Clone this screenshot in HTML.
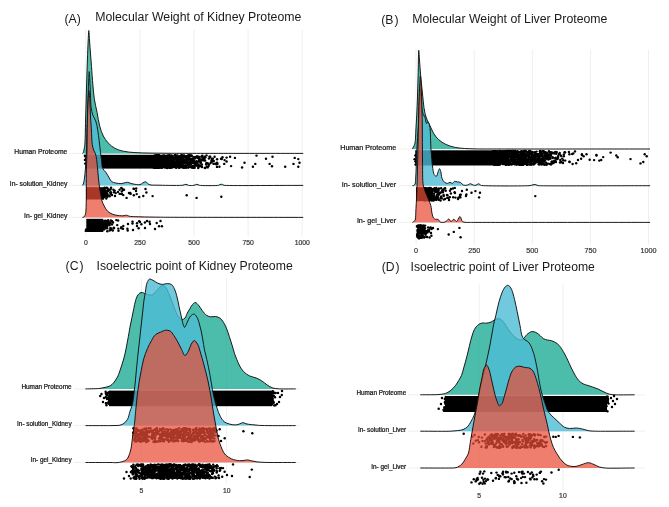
<!DOCTYPE html>
<html><head><meta charset="utf-8"><title>Raincloud plots</title>
<style>
html,body{margin:0;padding:0;background:#fff;}
body{width:669px;height:507px;overflow:hidden;}
svg{display:block;font-family:"Liberation Sans",sans-serif;filter:blur(0.3px);}
</style></head><body>
<svg width="669" height="507" viewBox="0 0 669 507">
<rect width="669" height="507" fill="#fff"/>
<line x1="85.8" y1="29.7" x2="85.8" y2="236.5" stroke="#ebebeb" stroke-width="0.8"/>
<line x1="140.0" y1="29.7" x2="140.0" y2="236.5" stroke="#ebebeb" stroke-width="0.8"/>
<line x1="194.0" y1="29.7" x2="194.0" y2="236.5" stroke="#ebebeb" stroke-width="0.8"/>
<line x1="248.1" y1="29.7" x2="248.1" y2="236.5" stroke="#ebebeb" stroke-width="0.8"/>
<line x1="302.2" y1="29.7" x2="302.2" y2="236.5" stroke="#ebebeb" stroke-width="0.8"/>
<line x1="69.4" y1="153.40" x2="303.5" y2="153.40" stroke="#ebebeb" stroke-width="0.8"/>
<line x1="69.4" y1="185.40" x2="303.5" y2="185.40" stroke="#ebebeb" stroke-width="0.8"/>
<line x1="69.4" y1="217.40" x2="303.5" y2="217.40" stroke="#ebebeb" stroke-width="0.8"/>
<path d="M82.40,153.40 C82.70,153.13 83.03,152.89 83.30,152.60 C83.70,152.17 84.32,148.01 84.70,145.70 C85.28,142.24 85.33,128.57 85.60,120.00 C85.86,111.67 86.05,103.33 86.30,95.00 C86.64,83.33 87.03,70.00 87.40,60.00 C87.65,53.33 87.94,44.75 88.20,40.00 C88.38,36.83 88.58,30.50 88.80,30.50 C89.02,30.50 89.27,36.83 89.50,40.00 C89.85,44.75 90.22,50.00 90.60,55.00 C90.89,58.80 91.21,62.60 91.50,66.40 C91.94,72.10 92.34,78.81 92.90,85.00 C93.32,89.60 93.61,94.23 94.30,98.80 C95.00,103.44 96.18,108.00 97.10,112.60 C98.02,117.20 98.49,121.91 99.80,126.40 C100.75,129.66 101.71,133.02 103.30,136.00 C104.61,138.45 106.21,140.87 108.10,142.90 C110.08,145.03 112.46,147.01 115.00,148.40 C117.53,149.78 120.48,150.52 123.30,151.20 C127.10,152.12 131.09,152.28 135.00,152.60 C139.98,153.01 145.00,152.98 150.00,153.10 C156.66,153.26 163.33,153.24 170.00,153.30 C180.00,153.39 258.80,153.37 303.20,153.40 L303.20,153.40 L82.40,153.40 Z" fill="rgb(31,172,149)" fill-opacity="0.8" stroke="none"/>
<path d="M82.40,153.40 C82.70,153.13 83.03,152.89 83.30,152.60 C83.70,152.17 84.32,148.01 84.70,145.70 C85.28,142.24 85.33,128.57 85.60,120.00 C85.86,111.67 86.05,103.33 86.30,95.00 C86.64,83.33 87.03,70.00 87.40,60.00 C87.65,53.33 87.94,44.75 88.20,40.00 C88.38,36.83 88.58,30.50 88.80,30.50 C89.02,30.50 89.27,36.83 89.50,40.00 C89.85,44.75 90.22,50.00 90.60,55.00 C90.89,58.80 91.21,62.60 91.50,66.40 C91.94,72.10 92.34,78.81 92.90,85.00 C93.32,89.60 93.61,94.23 94.30,98.80 C95.00,103.44 96.18,108.00 97.10,112.60 C98.02,117.20 98.49,121.91 99.80,126.40 C100.75,129.66 101.71,133.02 103.30,136.00 C104.61,138.45 106.21,140.87 108.10,142.90 C110.08,145.03 112.46,147.01 115.00,148.40 C117.53,149.78 120.48,150.52 123.30,151.20 C127.10,152.12 131.09,152.28 135.00,152.60 C139.98,153.01 145.00,152.98 150.00,153.10 C156.66,153.26 163.33,153.24 170.00,153.30 C180.00,153.39 258.80,153.37 303.20,153.40" fill="none" stroke="#111" stroke-width="0.95" stroke-linejoin="round"/>
<rect x="85.6" y="154.8" width="69" height="13.8" fill="#000"/>
<g fill="#000"><circle cx="85.2" cy="163.6" r="1.22"/><circle cx="84.9" cy="159.9" r="1.22"/><circle cx="84.9" cy="155.8" r="1.22"/><circle cx="85.3" cy="156.4" r="1.22"/><circle cx="86.1" cy="163.3" r="1.22"/><circle cx="86.0" cy="159.0" r="1.22"/></g>
<g fill="#000"><circle cx="154.7" cy="159.2" r="1.22"/><circle cx="162.8" cy="162.7" r="1.22"/><circle cx="160.7" cy="162.3" r="1.22"/><circle cx="153.8" cy="157.9" r="1.22"/><circle cx="161.2" cy="159.3" r="1.22"/><circle cx="160.0" cy="159.1" r="1.22"/><circle cx="162.5" cy="158.4" r="1.22"/><circle cx="159.9" cy="166.4" r="1.22"/><circle cx="161.8" cy="167.8" r="1.22"/><circle cx="154.4" cy="164.9" r="1.22"/><circle cx="154.8" cy="155.8" r="1.22"/><circle cx="161.0" cy="162.6" r="1.22"/><circle cx="163.5" cy="164.1" r="1.22"/><circle cx="160.1" cy="161.1" r="1.22"/><circle cx="158.7" cy="156.0" r="1.22"/><circle cx="161.4" cy="167.9" r="1.22"/><circle cx="162.9" cy="160.2" r="1.22"/><circle cx="161.0" cy="161.2" r="1.22"/><circle cx="155.0" cy="156.0" r="1.22"/><circle cx="162.2" cy="158.4" r="1.22"/><circle cx="157.7" cy="156.3" r="1.22"/><circle cx="158.4" cy="166.5" r="1.22"/><circle cx="156.3" cy="159.8" r="1.22"/><circle cx="154.8" cy="158.2" r="1.22"/><circle cx="155.8" cy="162.8" r="1.22"/><circle cx="156.2" cy="160.6" r="1.22"/><circle cx="157.4" cy="167.4" r="1.22"/><circle cx="161.3" cy="163.1" r="1.22"/><circle cx="161.1" cy="166.7" r="1.22"/><circle cx="162.6" cy="160.4" r="1.22"/><circle cx="154.2" cy="156.1" r="1.22"/><circle cx="153.8" cy="157.3" r="1.22"/><circle cx="157.1" cy="155.3" r="1.22"/><circle cx="154.8" cy="159.9" r="1.22"/><circle cx="153.3" cy="163.1" r="1.22"/><circle cx="154.8" cy="159.7" r="1.22"/><circle cx="157.4" cy="166.1" r="1.22"/><circle cx="164.9" cy="161.4" r="1.22"/><circle cx="154.0" cy="159.6" r="1.22"/><circle cx="156.2" cy="157.3" r="1.22"/><circle cx="153.3" cy="162.0" r="1.22"/><circle cx="154.8" cy="155.6" r="1.22"/><circle cx="163.4" cy="158.6" r="1.22"/><circle cx="157.4" cy="165.1" r="1.22"/><circle cx="159.4" cy="159.5" r="1.22"/><circle cx="155.7" cy="167.8" r="1.22"/><circle cx="163.2" cy="165.7" r="1.22"/><circle cx="161.9" cy="161.9" r="1.22"/><circle cx="157.3" cy="155.6" r="1.22"/><circle cx="156.4" cy="164.1" r="1.22"/><circle cx="164.5" cy="167.2" r="1.22"/><circle cx="157.4" cy="158.2" r="1.22"/><circle cx="155.4" cy="163.2" r="1.22"/><circle cx="158.8" cy="165.5" r="1.22"/><circle cx="154.0" cy="166.9" r="1.22"/><circle cx="162.4" cy="161.4" r="1.22"/><circle cx="155.1" cy="159.5" r="1.22"/><circle cx="157.8" cy="167.3" r="1.22"/><circle cx="161.7" cy="156.9" r="1.22"/><circle cx="154.8" cy="165.6" r="1.22"/><circle cx="154.8" cy="167.8" r="1.22"/><circle cx="160.9" cy="162.3" r="1.22"/><circle cx="154.6" cy="167.7" r="1.22"/><circle cx="160.8" cy="167.2" r="1.22"/><circle cx="158.2" cy="165.8" r="1.22"/><circle cx="155.5" cy="159.0" r="1.22"/><circle cx="155.9" cy="158.6" r="1.22"/><circle cx="158.0" cy="166.9" r="1.22"/><circle cx="157.2" cy="162.7" r="1.22"/><circle cx="163.9" cy="167.0" r="1.22"/><circle cx="159.0" cy="161.9" r="1.22"/><circle cx="153.2" cy="157.6" r="1.22"/><circle cx="153.0" cy="157.5" r="1.22"/><circle cx="158.7" cy="162.4" r="1.22"/><circle cx="156.9" cy="162.4" r="1.22"/><circle cx="162.4" cy="162.4" r="1.22"/><circle cx="156.0" cy="165.1" r="1.22"/><circle cx="159.1" cy="165.0" r="1.22"/><circle cx="163.9" cy="163.1" r="1.22"/><circle cx="159.1" cy="164.1" r="1.22"/><circle cx="158.4" cy="161.4" r="1.22"/><circle cx="164.3" cy="166.5" r="1.22"/><circle cx="164.3" cy="162.4" r="1.22"/><circle cx="154.6" cy="160.9" r="1.22"/><circle cx="153.9" cy="156.2" r="1.22"/><circle cx="161.0" cy="166.7" r="1.22"/><circle cx="154.9" cy="163.7" r="1.22"/><circle cx="154.7" cy="167.6" r="1.22"/><circle cx="157.8" cy="167.9" r="1.22"/><circle cx="163.0" cy="160.8" r="1.22"/><circle cx="159.2" cy="157.8" r="1.22"/><circle cx="156.8" cy="155.5" r="1.22"/><circle cx="159.6" cy="155.5" r="1.22"/><circle cx="157.0" cy="161.8" r="1.22"/><circle cx="153.8" cy="165.3" r="1.22"/><circle cx="164.7" cy="158.7" r="1.22"/><circle cx="153.5" cy="158.7" r="1.22"/><circle cx="154.6" cy="166.9" r="1.22"/><circle cx="162.8" cy="157.2" r="1.22"/><circle cx="164.0" cy="164.2" r="1.22"/><circle cx="154.1" cy="164.0" r="1.22"/><circle cx="158.1" cy="167.2" r="1.22"/><circle cx="160.6" cy="156.3" r="1.22"/><circle cx="163.3" cy="166.3" r="1.22"/><circle cx="158.4" cy="162.3" r="1.22"/><circle cx="164.1" cy="156.9" r="1.22"/><circle cx="159.3" cy="156.7" r="1.22"/><circle cx="154.9" cy="157.8" r="1.22"/><circle cx="156.7" cy="165.0" r="1.22"/><circle cx="156.5" cy="157.5" r="1.22"/><circle cx="157.2" cy="158.5" r="1.22"/><circle cx="153.2" cy="162.3" r="1.22"/><circle cx="155.3" cy="167.2" r="1.22"/><circle cx="154.3" cy="160.8" r="1.22"/><circle cx="158.9" cy="160.3" r="1.22"/><circle cx="159.1" cy="167.8" r="1.22"/><circle cx="157.1" cy="164.3" r="1.22"/><circle cx="160.6" cy="159.7" r="1.22"/><circle cx="153.7" cy="156.2" r="1.22"/><circle cx="161.9" cy="157.4" r="1.22"/><circle cx="154.0" cy="166.4" r="1.22"/><circle cx="161.0" cy="158.4" r="1.22"/><circle cx="156.5" cy="157.3" r="1.22"/><circle cx="158.3" cy="167.5" r="1.22"/><circle cx="164.7" cy="158.4" r="1.22"/><circle cx="164.6" cy="159.8" r="1.22"/><circle cx="153.0" cy="161.3" r="1.22"/><circle cx="159.0" cy="161.7" r="1.22"/><circle cx="153.1" cy="156.4" r="1.22"/><circle cx="157.8" cy="155.6" r="1.22"/><circle cx="156.7" cy="162.7" r="1.22"/><circle cx="159.4" cy="163.7" r="1.22"/><circle cx="157.7" cy="167.8" r="1.22"/><circle cx="154.8" cy="163.5" r="1.22"/><circle cx="153.5" cy="166.6" r="1.22"/><circle cx="160.5" cy="165.6" r="1.22"/><circle cx="154.7" cy="161.7" r="1.22"/><circle cx="163.0" cy="165.8" r="1.22"/><circle cx="161.2" cy="158.2" r="1.22"/><circle cx="153.4" cy="159.9" r="1.22"/><circle cx="154.3" cy="162.4" r="1.22"/><circle cx="160.5" cy="164.0" r="1.22"/><circle cx="158.9" cy="165.4" r="1.22"/><circle cx="162.0" cy="162.1" r="1.22"/><circle cx="160.9" cy="164.7" r="1.22"/><circle cx="156.0" cy="158.7" r="1.22"/><circle cx="161.8" cy="164.7" r="1.22"/><circle cx="164.7" cy="160.2" r="1.22"/><circle cx="158.7" cy="165.1" r="1.22"/><circle cx="160.4" cy="156.3" r="1.22"/><circle cx="154.8" cy="164.8" r="1.22"/><circle cx="156.7" cy="155.4" r="1.22"/><circle cx="153.7" cy="163.8" r="1.22"/><circle cx="161.3" cy="159.0" r="1.22"/><circle cx="159.2" cy="161.2" r="1.22"/><circle cx="154.4" cy="157.8" r="1.22"/><circle cx="153.2" cy="165.7" r="1.22"/><circle cx="164.6" cy="158.7" r="1.22"/><circle cx="155.5" cy="158.0" r="1.22"/><circle cx="160.0" cy="162.0" r="1.22"/><circle cx="164.4" cy="165.7" r="1.22"/><circle cx="161.4" cy="166.7" r="1.22"/><circle cx="158.8" cy="155.3" r="1.22"/><circle cx="158.9" cy="159.1" r="1.22"/><circle cx="154.7" cy="159.3" r="1.22"/><circle cx="163.1" cy="164.8" r="1.22"/><circle cx="163.1" cy="167.1" r="1.22"/><circle cx="156.5" cy="160.3" r="1.22"/><circle cx="165.0" cy="159.9" r="1.22"/><circle cx="158.1" cy="155.9" r="1.22"/><circle cx="154.2" cy="158.9" r="1.22"/><circle cx="164.2" cy="158.7" r="1.22"/><circle cx="159.1" cy="160.0" r="1.22"/><circle cx="162.7" cy="166.9" r="1.22"/><circle cx="164.3" cy="164.4" r="1.22"/><circle cx="153.6" cy="161.0" r="1.22"/><circle cx="162.0" cy="158.9" r="1.22"/><circle cx="153.6" cy="156.9" r="1.22"/><circle cx="158.7" cy="159.1" r="1.22"/><circle cx="156.1" cy="159.1" r="1.22"/><circle cx="159.7" cy="157.4" r="1.22"/><circle cx="154.9" cy="166.8" r="1.22"/><circle cx="159.0" cy="166.8" r="1.22"/><circle cx="165.0" cy="157.1" r="1.22"/><circle cx="155.3" cy="159.6" r="1.22"/><circle cx="154.1" cy="158.6" r="1.22"/><circle cx="162.0" cy="160.6" r="1.22"/><circle cx="159.3" cy="159.6" r="1.22"/><circle cx="153.7" cy="167.6" r="1.22"/><circle cx="154.5" cy="163.3" r="1.22"/><circle cx="163.4" cy="158.7" r="1.22"/><circle cx="156.0" cy="161.0" r="1.22"/><circle cx="163.5" cy="155.7" r="1.22"/><circle cx="158.7" cy="155.3" r="1.22"/><circle cx="164.7" cy="156.7" r="1.22"/><circle cx="154.9" cy="164.0" r="1.22"/><circle cx="164.3" cy="163.5" r="1.22"/><circle cx="162.2" cy="162.3" r="1.22"/><circle cx="153.5" cy="158.2" r="1.22"/><circle cx="164.0" cy="159.1" r="1.22"/><circle cx="154.5" cy="163.4" r="1.22"/><circle cx="161.4" cy="156.2" r="1.22"/><circle cx="159.3" cy="160.2" r="1.22"/><circle cx="155.7" cy="155.4" r="1.22"/><circle cx="156.6" cy="167.5" r="1.22"/><circle cx="158.7" cy="158.4" r="1.22"/><circle cx="164.5" cy="159.2" r="1.22"/><circle cx="153.3" cy="163.9" r="1.22"/><circle cx="158.0" cy="163.8" r="1.22"/><circle cx="164.1" cy="155.7" r="1.22"/><circle cx="157.1" cy="164.0" r="1.22"/><circle cx="155.4" cy="164.7" r="1.22"/><circle cx="159.1" cy="167.6" r="1.22"/><circle cx="156.7" cy="158.2" r="1.22"/><circle cx="155.7" cy="159.0" r="1.22"/><circle cx="164.4" cy="157.7" r="1.22"/><circle cx="155.7" cy="163.8" r="1.22"/><circle cx="164.4" cy="160.3" r="1.22"/><circle cx="154.7" cy="156.0" r="1.22"/><circle cx="157.7" cy="166.5" r="1.22"/><circle cx="164.2" cy="157.6" r="1.22"/><circle cx="164.2" cy="155.7" r="1.22"/><circle cx="161.0" cy="160.0" r="1.22"/><circle cx="157.0" cy="155.3" r="1.22"/><circle cx="156.4" cy="167.5" r="1.22"/><circle cx="154.5" cy="157.9" r="1.22"/><circle cx="157.3" cy="165.8" r="1.22"/><circle cx="158.2" cy="161.3" r="1.22"/><circle cx="155.3" cy="166.7" r="1.22"/><circle cx="153.4" cy="165.6" r="1.22"/><circle cx="162.2" cy="155.7" r="1.22"/><circle cx="153.8" cy="158.6" r="1.22"/><circle cx="157.1" cy="167.5" r="1.22"/><circle cx="160.4" cy="164.4" r="1.22"/><circle cx="169.7" cy="155.3" r="1.22"/><circle cx="165.4" cy="161.3" r="1.22"/><circle cx="170.8" cy="160.8" r="1.22"/><circle cx="167.7" cy="164.7" r="1.22"/><circle cx="177.3" cy="163.0" r="1.22"/><circle cx="169.9" cy="159.9" r="1.22"/><circle cx="176.7" cy="157.8" r="1.22"/><circle cx="176.3" cy="156.1" r="1.22"/><circle cx="165.5" cy="159.4" r="1.22"/><circle cx="179.8" cy="156.3" r="1.22"/><circle cx="166.4" cy="164.3" r="1.22"/><circle cx="171.7" cy="160.6" r="1.22"/><circle cx="174.3" cy="164.8" r="1.22"/><circle cx="177.7" cy="156.8" r="1.22"/><circle cx="177.6" cy="162.5" r="1.22"/><circle cx="170.6" cy="157.8" r="1.22"/><circle cx="168.7" cy="157.2" r="1.22"/><circle cx="178.3" cy="159.4" r="1.22"/><circle cx="172.6" cy="165.6" r="1.22"/><circle cx="166.5" cy="165.7" r="1.22"/><circle cx="165.6" cy="156.8" r="1.22"/><circle cx="170.6" cy="161.0" r="1.22"/><circle cx="168.9" cy="167.3" r="1.22"/><circle cx="166.6" cy="163.2" r="1.22"/><circle cx="168.3" cy="157.1" r="1.22"/><circle cx="168.1" cy="162.9" r="1.22"/><circle cx="174.8" cy="155.4" r="1.22"/><circle cx="169.9" cy="157.6" r="1.22"/><circle cx="169.7" cy="165.4" r="1.22"/><circle cx="173.2" cy="156.6" r="1.22"/><circle cx="170.9" cy="163.4" r="1.22"/><circle cx="166.4" cy="164.1" r="1.22"/><circle cx="171.1" cy="159.2" r="1.22"/><circle cx="179.3" cy="162.5" r="1.22"/><circle cx="170.4" cy="166.3" r="1.22"/><circle cx="179.9" cy="157.8" r="1.22"/><circle cx="175.9" cy="155.4" r="1.22"/><circle cx="178.5" cy="165.7" r="1.22"/><circle cx="171.1" cy="161.2" r="1.22"/><circle cx="167.4" cy="162.3" r="1.22"/><circle cx="166.3" cy="160.0" r="1.22"/><circle cx="172.6" cy="158.9" r="1.22"/><circle cx="166.6" cy="165.5" r="1.22"/><circle cx="179.5" cy="156.9" r="1.22"/><circle cx="172.2" cy="167.1" r="1.22"/><circle cx="170.8" cy="163.2" r="1.22"/><circle cx="177.4" cy="165.3" r="1.22"/><circle cx="168.3" cy="166.1" r="1.22"/><circle cx="177.4" cy="158.1" r="1.22"/><circle cx="171.0" cy="160.2" r="1.22"/><circle cx="166.8" cy="164.5" r="1.22"/><circle cx="178.5" cy="162.4" r="1.22"/><circle cx="176.4" cy="166.0" r="1.22"/><circle cx="166.8" cy="162.3" r="1.22"/><circle cx="174.4" cy="160.6" r="1.22"/><circle cx="173.7" cy="163.7" r="1.22"/><circle cx="171.7" cy="155.6" r="1.22"/><circle cx="174.3" cy="158.3" r="1.22"/><circle cx="176.5" cy="161.1" r="1.22"/><circle cx="167.7" cy="156.6" r="1.22"/><circle cx="166.9" cy="156.4" r="1.22"/><circle cx="171.6" cy="155.8" r="1.22"/><circle cx="174.5" cy="164.6" r="1.22"/><circle cx="176.7" cy="156.0" r="1.22"/><circle cx="172.6" cy="167.4" r="1.22"/><circle cx="167.0" cy="168.0" r="1.22"/><circle cx="176.0" cy="157.7" r="1.22"/><circle cx="179.7" cy="167.5" r="1.22"/><circle cx="178.7" cy="165.3" r="1.22"/><circle cx="179.0" cy="159.7" r="1.22"/><circle cx="176.3" cy="166.7" r="1.22"/><circle cx="169.1" cy="157.1" r="1.22"/><circle cx="168.1" cy="161.7" r="1.22"/><circle cx="169.8" cy="157.6" r="1.22"/><circle cx="167.4" cy="163.9" r="1.22"/><circle cx="178.4" cy="165.3" r="1.22"/><circle cx="166.7" cy="163.4" r="1.22"/><circle cx="170.4" cy="162.4" r="1.22"/><circle cx="174.4" cy="165.4" r="1.22"/><circle cx="173.7" cy="165.0" r="1.22"/><circle cx="171.6" cy="164.8" r="1.22"/><circle cx="165.7" cy="158.5" r="1.22"/><circle cx="173.8" cy="159.3" r="1.22"/><circle cx="165.0" cy="157.2" r="1.22"/><circle cx="174.2" cy="161.8" r="1.22"/><circle cx="178.4" cy="158.2" r="1.22"/><circle cx="174.8" cy="155.3" r="1.22"/><circle cx="170.3" cy="159.8" r="1.22"/><circle cx="168.4" cy="162.8" r="1.22"/><circle cx="168.1" cy="161.3" r="1.22"/><circle cx="167.0" cy="158.4" r="1.22"/><circle cx="167.2" cy="163.4" r="1.22"/><circle cx="178.1" cy="160.4" r="1.22"/><circle cx="169.0" cy="163.5" r="1.22"/><circle cx="173.4" cy="163.5" r="1.22"/><circle cx="176.0" cy="166.8" r="1.22"/><circle cx="165.7" cy="160.5" r="1.22"/><circle cx="168.6" cy="165.2" r="1.22"/><circle cx="165.2" cy="167.3" r="1.22"/><circle cx="167.1" cy="163.0" r="1.22"/><circle cx="172.6" cy="165.6" r="1.22"/><circle cx="167.6" cy="159.1" r="1.22"/><circle cx="165.7" cy="165.3" r="1.22"/><circle cx="175.7" cy="166.0" r="1.22"/><circle cx="176.2" cy="164.7" r="1.22"/><circle cx="171.8" cy="156.6" r="1.22"/><circle cx="168.5" cy="159.6" r="1.22"/><circle cx="176.2" cy="166.1" r="1.22"/><circle cx="175.7" cy="162.3" r="1.22"/><circle cx="171.5" cy="161.9" r="1.22"/><circle cx="169.0" cy="167.6" r="1.22"/><circle cx="168.3" cy="155.5" r="1.22"/><circle cx="168.9" cy="164.8" r="1.22"/><circle cx="179.2" cy="159.4" r="1.22"/><circle cx="178.2" cy="158.3" r="1.22"/><circle cx="178.6" cy="164.1" r="1.22"/><circle cx="172.0" cy="164.2" r="1.22"/><circle cx="177.9" cy="164.5" r="1.22"/><circle cx="173.6" cy="158.0" r="1.22"/><circle cx="174.3" cy="166.9" r="1.22"/><circle cx="167.2" cy="156.6" r="1.22"/><circle cx="178.9" cy="157.1" r="1.22"/><circle cx="165.4" cy="164.1" r="1.22"/><circle cx="174.5" cy="164.7" r="1.22"/><circle cx="166.0" cy="159.9" r="1.22"/><circle cx="178.4" cy="166.3" r="1.22"/><circle cx="166.6" cy="156.7" r="1.22"/><circle cx="165.5" cy="165.6" r="1.22"/><circle cx="174.5" cy="163.3" r="1.22"/><circle cx="169.3" cy="156.5" r="1.22"/><circle cx="176.4" cy="159.3" r="1.22"/><circle cx="171.4" cy="158.5" r="1.22"/><circle cx="169.2" cy="160.0" r="1.22"/><circle cx="172.6" cy="163.2" r="1.22"/><circle cx="165.5" cy="160.8" r="1.22"/><circle cx="176.6" cy="164.3" r="1.22"/><circle cx="173.1" cy="166.3" r="1.22"/><circle cx="166.4" cy="157.4" r="1.22"/><circle cx="165.0" cy="165.0" r="1.22"/><circle cx="179.7" cy="161.5" r="1.22"/><circle cx="172.4" cy="157.6" r="1.22"/><circle cx="172.4" cy="165.9" r="1.22"/><circle cx="169.3" cy="164.2" r="1.22"/><circle cx="172.5" cy="163.4" r="1.22"/><circle cx="166.2" cy="164.2" r="1.22"/><circle cx="176.8" cy="159.8" r="1.22"/><circle cx="171.0" cy="166.6" r="1.22"/><circle cx="166.3" cy="155.6" r="1.22"/><circle cx="168.1" cy="166.8" r="1.22"/><circle cx="172.5" cy="166.5" r="1.22"/><circle cx="168.5" cy="162.1" r="1.22"/><circle cx="176.3" cy="163.5" r="1.22"/><circle cx="170.2" cy="157.3" r="1.22"/><circle cx="177.6" cy="164.7" r="1.22"/><circle cx="167.5" cy="165.1" r="1.22"/><circle cx="173.7" cy="161.2" r="1.22"/><circle cx="178.3" cy="157.7" r="1.22"/><circle cx="169.5" cy="166.0" r="1.22"/><circle cx="167.3" cy="158.4" r="1.22"/><circle cx="169.9" cy="157.3" r="1.22"/><circle cx="169.9" cy="167.7" r="1.22"/><circle cx="175.9" cy="167.5" r="1.22"/><circle cx="166.5" cy="167.8" r="1.22"/><circle cx="176.9" cy="160.8" r="1.22"/><circle cx="167.9" cy="156.6" r="1.22"/><circle cx="168.1" cy="155.7" r="1.22"/><circle cx="171.0" cy="164.1" r="1.22"/><circle cx="172.5" cy="161.2" r="1.22"/><circle cx="167.1" cy="160.4" r="1.22"/><circle cx="171.5" cy="164.8" r="1.22"/><circle cx="171.3" cy="164.5" r="1.22"/><circle cx="178.2" cy="164.2" r="1.22"/><circle cx="177.8" cy="163.5" r="1.22"/><circle cx="171.8" cy="163.3" r="1.22"/><circle cx="166.5" cy="165.2" r="1.22"/><circle cx="175.7" cy="158.5" r="1.22"/><circle cx="171.4" cy="163.2" r="1.22"/><circle cx="171.1" cy="167.1" r="1.22"/><circle cx="167.7" cy="165.2" r="1.22"/><circle cx="170.8" cy="167.7" r="1.22"/><circle cx="165.6" cy="157.3" r="1.22"/><circle cx="172.8" cy="162.6" r="1.22"/><circle cx="173.1" cy="161.8" r="1.22"/><circle cx="174.6" cy="161.9" r="1.22"/><circle cx="168.2" cy="160.3" r="1.22"/><circle cx="176.4" cy="167.8" r="1.22"/><circle cx="170.3" cy="158.8" r="1.22"/><circle cx="171.0" cy="160.6" r="1.22"/><circle cx="171.3" cy="159.8" r="1.22"/><circle cx="169.0" cy="164.7" r="1.22"/><circle cx="179.1" cy="158.1" r="1.22"/><circle cx="177.0" cy="158.0" r="1.22"/><circle cx="166.9" cy="165.6" r="1.22"/><circle cx="174.5" cy="162.4" r="1.22"/><circle cx="170.3" cy="165.7" r="1.22"/><circle cx="177.2" cy="159.0" r="1.22"/><circle cx="173.2" cy="165.9" r="1.22"/><circle cx="170.3" cy="158.7" r="1.22"/><circle cx="170.6" cy="160.7" r="1.22"/><circle cx="167.8" cy="164.5" r="1.22"/><circle cx="169.2" cy="159.1" r="1.22"/><circle cx="172.2" cy="163.4" r="1.22"/><circle cx="174.9" cy="167.1" r="1.22"/><circle cx="177.8" cy="165.8" r="1.22"/><circle cx="178.6" cy="157.1" r="1.22"/><circle cx="177.5" cy="155.5" r="1.22"/><circle cx="165.2" cy="163.6" r="1.22"/><circle cx="168.8" cy="157.1" r="1.22"/><circle cx="168.5" cy="159.7" r="1.22"/><circle cx="167.3" cy="165.4" r="1.22"/><circle cx="167.5" cy="163.0" r="1.22"/><circle cx="176.7" cy="166.7" r="1.22"/><circle cx="168.0" cy="162.0" r="1.22"/><circle cx="176.1" cy="166.5" r="1.22"/><circle cx="173.3" cy="158.3" r="1.22"/><circle cx="167.1" cy="156.0" r="1.22"/><circle cx="172.0" cy="161.5" r="1.22"/><circle cx="172.5" cy="166.3" r="1.22"/><circle cx="165.1" cy="161.2" r="1.22"/><circle cx="173.4" cy="166.0" r="1.22"/><circle cx="170.6" cy="167.5" r="1.22"/><circle cx="166.1" cy="163.4" r="1.22"/><circle cx="165.4" cy="164.0" r="1.22"/><circle cx="179.0" cy="167.8" r="1.22"/><circle cx="172.7" cy="166.7" r="1.22"/><circle cx="180.4" cy="163.2" r="1.22"/><circle cx="184.1" cy="159.9" r="1.22"/><circle cx="185.7" cy="165.1" r="1.22"/><circle cx="182.5" cy="160.7" r="1.22"/><circle cx="186.6" cy="159.0" r="1.22"/><circle cx="189.9" cy="161.7" r="1.22"/><circle cx="183.3" cy="167.7" r="1.22"/><circle cx="187.9" cy="159.5" r="1.22"/><circle cx="183.8" cy="162.8" r="1.22"/><circle cx="187.6" cy="155.8" r="1.22"/><circle cx="186.5" cy="159.1" r="1.22"/><circle cx="180.1" cy="167.0" r="1.22"/><circle cx="187.3" cy="165.3" r="1.22"/><circle cx="190.9" cy="163.1" r="1.22"/><circle cx="187.5" cy="162.9" r="1.22"/><circle cx="188.2" cy="163.8" r="1.22"/><circle cx="185.5" cy="156.6" r="1.22"/><circle cx="182.2" cy="165.1" r="1.22"/><circle cx="191.0" cy="160.0" r="1.22"/><circle cx="186.7" cy="159.1" r="1.22"/><circle cx="185.1" cy="160.8" r="1.22"/><circle cx="180.7" cy="155.8" r="1.22"/><circle cx="181.4" cy="162.6" r="1.22"/><circle cx="191.0" cy="155.5" r="1.22"/><circle cx="184.6" cy="167.2" r="1.22"/><circle cx="191.8" cy="160.5" r="1.22"/><circle cx="181.2" cy="158.0" r="1.22"/><circle cx="181.8" cy="155.3" r="1.22"/><circle cx="188.2" cy="167.6" r="1.22"/><circle cx="181.1" cy="156.9" r="1.22"/><circle cx="180.2" cy="158.4" r="1.22"/><circle cx="188.8" cy="155.9" r="1.22"/><circle cx="189.3" cy="166.2" r="1.22"/><circle cx="188.8" cy="163.3" r="1.22"/><circle cx="188.5" cy="167.2" r="1.22"/><circle cx="188.6" cy="155.5" r="1.22"/><circle cx="181.0" cy="164.6" r="1.22"/><circle cx="182.0" cy="161.5" r="1.22"/><circle cx="180.7" cy="162.6" r="1.22"/><circle cx="185.3" cy="157.1" r="1.22"/><circle cx="189.6" cy="163.5" r="1.22"/><circle cx="187.6" cy="160.2" r="1.22"/><circle cx="189.4" cy="159.0" r="1.22"/><circle cx="180.7" cy="164.2" r="1.22"/><circle cx="189.9" cy="163.0" r="1.22"/><circle cx="187.2" cy="160.7" r="1.22"/><circle cx="190.7" cy="164.0" r="1.22"/><circle cx="189.7" cy="155.3" r="1.22"/><circle cx="183.2" cy="162.8" r="1.22"/><circle cx="180.5" cy="165.6" r="1.22"/><circle cx="190.4" cy="158.8" r="1.22"/><circle cx="184.2" cy="162.3" r="1.22"/><circle cx="189.6" cy="164.8" r="1.22"/><circle cx="191.2" cy="163.0" r="1.22"/><circle cx="188.1" cy="157.9" r="1.22"/><circle cx="183.1" cy="165.4" r="1.22"/><circle cx="185.5" cy="165.6" r="1.22"/><circle cx="189.3" cy="162.7" r="1.22"/><circle cx="186.3" cy="162.8" r="1.22"/><circle cx="182.3" cy="157.6" r="1.22"/><circle cx="188.4" cy="162.5" r="1.22"/><circle cx="184.8" cy="157.2" r="1.22"/><circle cx="184.5" cy="163.3" r="1.22"/><circle cx="189.4" cy="162.9" r="1.22"/><circle cx="184.1" cy="155.5" r="1.22"/><circle cx="190.4" cy="162.5" r="1.22"/><circle cx="183.1" cy="160.7" r="1.22"/><circle cx="183.0" cy="157.8" r="1.22"/><circle cx="182.2" cy="155.9" r="1.22"/><circle cx="190.9" cy="162.9" r="1.22"/><circle cx="184.8" cy="167.5" r="1.22"/><circle cx="183.1" cy="163.4" r="1.22"/><circle cx="191.5" cy="160.3" r="1.22"/><circle cx="185.4" cy="167.6" r="1.22"/><circle cx="191.9" cy="155.8" r="1.22"/><circle cx="183.1" cy="166.8" r="1.22"/><circle cx="180.6" cy="164.3" r="1.22"/><circle cx="180.7" cy="164.9" r="1.22"/><circle cx="191.3" cy="159.1" r="1.22"/><circle cx="187.1" cy="156.6" r="1.22"/><circle cx="183.9" cy="156.9" r="1.22"/><circle cx="185.8" cy="158.3" r="1.22"/><circle cx="181.7" cy="155.4" r="1.22"/><circle cx="188.6" cy="155.7" r="1.22"/><circle cx="191.1" cy="167.2" r="1.22"/><circle cx="181.7" cy="156.5" r="1.22"/><circle cx="187.5" cy="159.6" r="1.22"/><circle cx="189.9" cy="163.3" r="1.22"/><circle cx="181.7" cy="156.0" r="1.22"/><circle cx="188.6" cy="157.1" r="1.22"/><circle cx="190.4" cy="160.5" r="1.22"/><circle cx="181.9" cy="166.0" r="1.22"/><circle cx="184.0" cy="161.5" r="1.22"/><circle cx="180.7" cy="163.8" r="1.22"/><circle cx="182.5" cy="158.9" r="1.22"/><circle cx="183.1" cy="159.9" r="1.22"/><circle cx="191.1" cy="159.0" r="1.22"/><circle cx="190.8" cy="164.5" r="1.22"/><circle cx="180.2" cy="159.6" r="1.22"/><circle cx="181.7" cy="165.9" r="1.22"/><circle cx="186.3" cy="160.8" r="1.22"/><circle cx="190.9" cy="162.6" r="1.22"/><circle cx="181.7" cy="165.1" r="1.22"/><circle cx="188.5" cy="156.3" r="1.22"/><circle cx="181.0" cy="161.6" r="1.22"/><circle cx="183.3" cy="163.1" r="1.22"/><circle cx="187.0" cy="156.1" r="1.22"/><circle cx="188.8" cy="164.5" r="1.22"/><circle cx="180.7" cy="159.5" r="1.22"/><circle cx="185.9" cy="166.9" r="1.22"/><circle cx="183.2" cy="165.9" r="1.22"/><circle cx="184.4" cy="160.0" r="1.22"/><circle cx="187.1" cy="161.9" r="1.22"/><circle cx="185.3" cy="156.8" r="1.22"/><circle cx="190.4" cy="164.3" r="1.22"/><circle cx="184.6" cy="156.1" r="1.22"/><circle cx="185.9" cy="162.0" r="1.22"/><circle cx="186.4" cy="167.6" r="1.22"/><circle cx="182.7" cy="156.6" r="1.22"/><circle cx="183.0" cy="155.7" r="1.22"/><circle cx="181.2" cy="157.8" r="1.22"/><circle cx="180.2" cy="162.6" r="1.22"/><circle cx="186.3" cy="156.6" r="1.22"/><circle cx="190.4" cy="155.9" r="1.22"/><circle cx="181.5" cy="161.7" r="1.22"/><circle cx="183.4" cy="160.4" r="1.22"/><circle cx="181.6" cy="166.3" r="1.22"/><circle cx="181.8" cy="164.8" r="1.22"/><circle cx="182.0" cy="167.2" r="1.22"/><circle cx="184.7" cy="166.0" r="1.22"/><circle cx="186.3" cy="167.3" r="1.22"/><circle cx="189.3" cy="158.3" r="1.22"/><circle cx="194.7" cy="167.8" r="1.22"/><circle cx="192.4" cy="167.5" r="1.22"/><circle cx="199.5" cy="160.7" r="1.22"/><circle cx="197.1" cy="162.0" r="1.22"/><circle cx="192.6" cy="161.7" r="1.22"/><circle cx="192.2" cy="167.6" r="1.22"/><circle cx="192.3" cy="158.7" r="1.22"/><circle cx="197.4" cy="162.2" r="1.22"/><circle cx="194.0" cy="160.8" r="1.22"/><circle cx="199.6" cy="159.2" r="1.22"/><circle cx="197.2" cy="162.9" r="1.22"/><circle cx="199.6" cy="158.7" r="1.22"/><circle cx="195.7" cy="157.2" r="1.22"/><circle cx="193.0" cy="159.0" r="1.22"/><circle cx="195.3" cy="158.4" r="1.22"/><circle cx="192.7" cy="166.0" r="1.22"/><circle cx="196.9" cy="163.6" r="1.22"/><circle cx="193.6" cy="161.2" r="1.22"/><circle cx="196.4" cy="161.3" r="1.22"/><circle cx="194.5" cy="158.1" r="1.22"/><circle cx="196.1" cy="162.7" r="1.22"/><circle cx="192.1" cy="166.3" r="1.22"/><circle cx="193.9" cy="161.5" r="1.22"/><circle cx="194.4" cy="157.3" r="1.22"/><circle cx="192.5" cy="160.9" r="1.22"/><circle cx="192.5" cy="160.9" r="1.22"/><circle cx="197.9" cy="158.1" r="1.22"/><circle cx="193.2" cy="159.8" r="1.22"/><circle cx="197.4" cy="166.1" r="1.22"/><circle cx="198.6" cy="164.7" r="1.22"/><circle cx="195.8" cy="164.3" r="1.22"/><circle cx="199.3" cy="166.4" r="1.22"/><circle cx="192.0" cy="162.7" r="1.22"/><circle cx="196.6" cy="165.3" r="1.22"/><circle cx="199.0" cy="160.1" r="1.22"/><circle cx="195.6" cy="164.5" r="1.22"/><circle cx="194.3" cy="162.4" r="1.22"/><circle cx="195.1" cy="165.3" r="1.22"/><circle cx="198.8" cy="160.9" r="1.22"/><circle cx="193.5" cy="157.1" r="1.22"/><circle cx="196.6" cy="156.4" r="1.22"/><circle cx="199.4" cy="166.0" r="1.22"/><circle cx="193.6" cy="166.9" r="1.22"/><circle cx="192.1" cy="162.5" r="1.22"/><circle cx="198.2" cy="168.0" r="1.22"/><circle cx="196.1" cy="164.0" r="1.22"/><circle cx="195.1" cy="162.9" r="1.22"/><circle cx="197.4" cy="156.5" r="1.22"/><circle cx="195.0" cy="162.4" r="1.22"/><circle cx="199.7" cy="160.9" r="1.22"/><circle cx="194.7" cy="165.7" r="1.22"/><circle cx="193.4" cy="167.7" r="1.22"/><circle cx="198.6" cy="156.7" r="1.22"/><circle cx="199.1" cy="157.3" r="1.22"/><circle cx="194.3" cy="161.7" r="1.22"/><circle cx="193.5" cy="163.3" r="1.22"/><circle cx="204.8" cy="167.9" r="1.22"/><circle cx="205.1" cy="160.5" r="1.22"/><circle cx="206.3" cy="164.1" r="1.22"/><circle cx="200.0" cy="166.0" r="1.22"/><circle cx="204.7" cy="157.8" r="1.22"/><circle cx="204.0" cy="158.7" r="1.22"/><circle cx="205.2" cy="168.0" r="1.22"/><circle cx="204.6" cy="156.8" r="1.22"/><circle cx="201.3" cy="156.6" r="1.22"/><circle cx="200.8" cy="161.9" r="1.22"/><circle cx="206.5" cy="155.4" r="1.22"/><circle cx="206.2" cy="164.4" r="1.22"/><circle cx="202.8" cy="158.7" r="1.22"/><circle cx="200.8" cy="162.7" r="1.22"/><circle cx="202.8" cy="160.2" r="1.22"/><circle cx="200.4" cy="162.7" r="1.22"/><circle cx="207.7" cy="163.2" r="1.22"/><circle cx="202.0" cy="167.1" r="1.22"/><circle cx="206.8" cy="166.7" r="1.22"/><circle cx="206.5" cy="163.0" r="1.22"/><circle cx="207.7" cy="167.4" r="1.22"/><circle cx="201.9" cy="164.4" r="1.22"/><circle cx="201.8" cy="166.4" r="1.22"/><circle cx="201.9" cy="159.8" r="1.22"/><circle cx="202.3" cy="156.7" r="1.22"/><circle cx="204.3" cy="160.4" r="1.22"/><circle cx="200.5" cy="165.8" r="1.22"/><circle cx="202.8" cy="157.7" r="1.22"/><circle cx="202.3" cy="155.7" r="1.22"/><circle cx="205.3" cy="157.3" r="1.22"/><circle cx="212.9" cy="158.7" r="1.22"/><circle cx="213.8" cy="160.9" r="1.22"/><circle cx="209.1" cy="164.5" r="1.22"/><circle cx="211.5" cy="161.0" r="1.22"/><circle cx="208.9" cy="158.6" r="1.22"/><circle cx="210.6" cy="163.0" r="1.22"/><circle cx="209.5" cy="156.8" r="1.22"/><circle cx="211.6" cy="158.7" r="1.22"/><circle cx="213.4" cy="163.7" r="1.22"/><circle cx="212.0" cy="160.2" r="1.22"/><circle cx="208.6" cy="166.1" r="1.22"/><circle cx="210.2" cy="156.7" r="1.22"/><circle cx="211.9" cy="161.7" r="1.22"/><circle cx="217.1" cy="159.2" r="1.22"/><circle cx="216.6" cy="164.4" r="1.22"/><circle cx="217.0" cy="166.9" r="1.22"/><circle cx="221.0" cy="158.8" r="1.22"/><circle cx="215.2" cy="163.7" r="1.22"/><circle cx="217.5" cy="163.7" r="1.22"/><circle cx="231.1" cy="166.1" r="1.22"/><circle cx="226.6" cy="157.6" r="1.22"/><circle cx="222.5" cy="157.3" r="1.22"/><circle cx="224.6" cy="160.1" r="1.22"/></g>
<g fill="#000"><circle cx="230.1" cy="156.7" r="1.22"/><circle cx="234.9" cy="157.9" r="1.22"/><circle cx="244.5" cy="162.7" r="1.22"/><circle cx="242.1" cy="167.5" r="1.22"/><circle cx="256.5" cy="155.6" r="1.22"/><circle cx="255.3" cy="163.9" r="1.22"/><circle cx="252.9" cy="166.8" r="1.22"/><circle cx="266.0" cy="158.7" r="1.22"/><circle cx="272.5" cy="156.7" r="1.22"/><circle cx="269.6" cy="163.9" r="1.22"/><circle cx="272.0" cy="166.3" r="1.22"/><circle cx="285.2" cy="166.8" r="1.22"/><circle cx="294.7" cy="157.9" r="1.22"/><circle cx="298.3" cy="159.1" r="1.22"/><circle cx="293.5" cy="163.9" r="1.22"/><circle cx="299.5" cy="162.7" r="1.22"/><circle cx="298.3" cy="166.8" r="1.22"/><circle cx="221.8" cy="159.1" r="1.22"/><circle cx="224.2" cy="163.9" r="1.22"/><circle cx="219.4" cy="166.8" r="1.22"/><circle cx="226.6" cy="161.5" r="1.22"/><circle cx="214.6" cy="156.7" r="1.22"/><circle cx="217.0" cy="162.7" r="1.22"/></g>
<path d="M82.40,185.40 C82.70,184.93 83.04,184.48 83.30,184.00 C83.69,183.28 84.19,180.01 84.50,178.00 C84.91,175.36 85.07,172.67 85.30,170.00 C85.65,166.00 85.96,161.20 86.20,156.80 C86.57,150.20 86.72,138.93 87.00,130.00 C87.31,120.00 87.66,110.00 88.00,100.00 C88.23,93.33 88.48,84.20 88.70,80.00 C88.85,77.20 89.02,71.60 89.20,71.60 C89.38,71.60 89.62,77.20 89.80,80.00 C90.06,84.20 90.25,90.00 90.50,95.00 C90.72,99.33 90.59,104.32 91.20,108.00 C91.61,110.46 92.03,112.97 92.90,115.30 C93.62,117.24 94.96,118.97 95.70,120.90 C96.82,123.80 97.23,127.28 97.80,130.50 C98.36,133.71 98.70,136.96 99.10,140.20 C99.61,144.33 100.03,148.90 100.50,152.60 C100.81,155.07 101.15,157.54 101.50,160.00 C101.91,162.90 101.70,166.77 102.80,168.70 C103.53,169.99 104.89,170.97 105.80,172.20 C107.16,174.03 108.14,176.28 109.30,178.10 C110.08,179.32 110.60,180.89 111.70,181.70 C112.64,182.39 114.01,182.60 115.20,182.90 C116.38,183.20 117.59,183.39 118.80,183.50 C119.63,183.58 120.48,183.67 121.30,183.60 C122.21,183.52 123.10,183.19 124.00,183.00 C125.16,182.75 126.35,182.23 127.50,182.30 C128.69,182.37 129.81,183.18 131.00,183.50 C131.92,183.75 132.86,183.94 133.80,184.10 C135.21,184.34 138.04,184.99 140.00,184.60 C141.94,184.21 143.79,181.46 145.50,181.80 C146.73,182.05 147.75,183.83 149.00,184.50 C150.88,185.50 156.33,185.04 160.00,185.20 C165.50,185.44 181.54,185.60 183.00,185.20 C183.97,184.93 184.94,184.25 185.90,184.30 C186.78,184.34 187.61,185.08 188.50,185.30 C189.83,185.63 192.62,185.63 194.00,185.30 C194.92,185.08 195.80,184.31 196.70,184.30 C197.63,184.29 198.56,185.01 199.50,185.30 C200.91,185.73 217.09,185.77 218.50,185.30 C219.44,184.98 220.37,184.19 221.30,184.20 C222.20,184.21 223.10,184.95 224.00,185.30 C225.35,185.83 276.80,185.37 303.20,185.40 L303.20,185.40 L82.40,185.40 Z" fill="rgb(78,188,212)" fill-opacity="0.8" stroke="none"/>
<path d="M82.40,185.40 C82.70,184.93 83.04,184.48 83.30,184.00 C83.69,183.28 84.19,180.01 84.50,178.00 C84.91,175.36 85.07,172.67 85.30,170.00 C85.65,166.00 85.96,161.20 86.20,156.80 C86.57,150.20 86.72,138.93 87.00,130.00 C87.31,120.00 87.66,110.00 88.00,100.00 C88.23,93.33 88.48,84.20 88.70,80.00 C88.85,77.20 89.02,71.60 89.20,71.60 C89.38,71.60 89.62,77.20 89.80,80.00 C90.06,84.20 90.25,90.00 90.50,95.00 C90.72,99.33 90.59,104.32 91.20,108.00 C91.61,110.46 92.03,112.97 92.90,115.30 C93.62,117.24 94.96,118.97 95.70,120.90 C96.82,123.80 97.23,127.28 97.80,130.50 C98.36,133.71 98.70,136.96 99.10,140.20 C99.61,144.33 100.03,148.90 100.50,152.60 C100.81,155.07 101.15,157.54 101.50,160.00 C101.91,162.90 101.70,166.77 102.80,168.70 C103.53,169.99 104.89,170.97 105.80,172.20 C107.16,174.03 108.14,176.28 109.30,178.10 C110.08,179.32 110.60,180.89 111.70,181.70 C112.64,182.39 114.01,182.60 115.20,182.90 C116.38,183.20 117.59,183.39 118.80,183.50 C119.63,183.58 120.48,183.67 121.30,183.60 C122.21,183.52 123.10,183.19 124.00,183.00 C125.16,182.75 126.35,182.23 127.50,182.30 C128.69,182.37 129.81,183.18 131.00,183.50 C131.92,183.75 132.86,183.94 133.80,184.10 C135.21,184.34 138.04,184.99 140.00,184.60 C141.94,184.21 143.79,181.46 145.50,181.80 C146.73,182.05 147.75,183.83 149.00,184.50 C150.88,185.50 156.33,185.04 160.00,185.20 C165.50,185.44 181.54,185.60 183.00,185.20 C183.97,184.93 184.94,184.25 185.90,184.30 C186.78,184.34 187.61,185.08 188.50,185.30 C189.83,185.63 192.62,185.63 194.00,185.30 C194.92,185.08 195.80,184.31 196.70,184.30 C197.63,184.29 198.56,185.01 199.50,185.30 C200.91,185.73 217.09,185.77 218.50,185.30 C219.44,184.98 220.37,184.19 221.30,184.20 C222.20,184.21 223.10,184.95 224.00,185.30 C225.35,185.83 276.80,185.37 303.20,185.40" fill="none" stroke="#111" stroke-width="0.95" stroke-linejoin="round"/>
<rect x="86" y="187.2" width="18" height="12.3" fill="#000"/>
<g fill="#000"><circle cx="102.2" cy="194.7" r="1.22"/><circle cx="102.7" cy="193.9" r="1.22"/><circle cx="104.9" cy="192.4" r="1.22"/><circle cx="104.7" cy="187.7" r="1.22"/><circle cx="103.1" cy="197.0" r="1.22"/><circle cx="104.4" cy="190.4" r="1.22"/><circle cx="102.4" cy="190.0" r="1.22"/><circle cx="102.3" cy="192.0" r="1.22"/><circle cx="103.1" cy="198.0" r="1.22"/><circle cx="104.8" cy="196.8" r="1.22"/><circle cx="104.5" cy="188.3" r="1.22"/><circle cx="104.8" cy="193.3" r="1.22"/><circle cx="105.7" cy="196.0" r="1.22"/><circle cx="102.2" cy="196.5" r="1.22"/><circle cx="103.0" cy="198.3" r="1.22"/><circle cx="104.6" cy="190.4" r="1.22"/><circle cx="102.2" cy="192.2" r="1.22"/><circle cx="102.8" cy="189.2" r="1.22"/><circle cx="104.8" cy="190.3" r="1.22"/><circle cx="103.0" cy="192.5" r="1.22"/><circle cx="105.7" cy="191.0" r="1.22"/><circle cx="105.5" cy="193.8" r="1.22"/><circle cx="103.3" cy="193.7" r="1.22"/><circle cx="105.0" cy="195.0" r="1.22"/><circle cx="104.4" cy="196.1" r="1.22"/><circle cx="105.3" cy="190.8" r="1.22"/><circle cx="107.4" cy="188.3" r="1.22"/><circle cx="107.1" cy="195.4" r="1.22"/><circle cx="107.8" cy="191.2" r="1.22"/><circle cx="107.9" cy="189.5" r="1.22"/><circle cx="106.3" cy="198.5" r="1.22"/><circle cx="109.0" cy="195.5" r="1.22"/><circle cx="106.4" cy="192.4" r="1.22"/><circle cx="106.8" cy="187.8" r="1.22"/><circle cx="108.6" cy="190.4" r="1.22"/><circle cx="106.6" cy="196.2" r="1.22"/><circle cx="109.4" cy="189.7" r="1.22"/><circle cx="109.7" cy="196.3" r="1.22"/><circle cx="107.3" cy="196.7" r="1.22"/><circle cx="107.3" cy="193.7" r="1.22"/><circle cx="107.0" cy="193.9" r="1.22"/><circle cx="115.7" cy="193.1" r="1.22"/><circle cx="110.9" cy="194.0" r="1.22"/><circle cx="110.5" cy="189.5" r="1.22"/><circle cx="110.5" cy="192.5" r="1.22"/><circle cx="111.1" cy="187.7" r="1.22"/><circle cx="114.7" cy="190.8" r="1.22"/><circle cx="114.0" cy="192.3" r="1.22"/><circle cx="112.0" cy="195.0" r="1.22"/><circle cx="111.0" cy="192.5" r="1.22"/><circle cx="113.4" cy="189.8" r="1.22"/><circle cx="110.5" cy="192.7" r="1.22"/><circle cx="123.3" cy="195.1" r="1.22"/><circle cx="121.5" cy="193.9" r="1.22"/><circle cx="121.8" cy="191.4" r="1.22"/><circle cx="124.0" cy="189.7" r="1.22"/><circle cx="122.1" cy="188.6" r="1.22"/><circle cx="121.9" cy="194.0" r="1.22"/><circle cx="119.7" cy="193.9" r="1.22"/><circle cx="119.6" cy="189.7" r="1.22"/><circle cx="133.9" cy="188.9" r="1.22"/><circle cx="133.6" cy="188.7" r="1.22"/><circle cx="130.3" cy="193.0" r="1.22"/><circle cx="130.5" cy="193.9" r="1.22"/><circle cx="136.7" cy="194.1" r="1.22"/><circle cx="136.2" cy="188.5" r="1.22"/><circle cx="143.3" cy="196.0" r="1.22"/></g>
<g fill="#000"><circle cx="121.3" cy="188.0" r="1.22"/><circle cx="126.6" cy="197.9" r="1.22"/><circle cx="133.8" cy="195.2" r="1.22"/><circle cx="139.2" cy="197.0" r="1.22"/><circle cx="145.5" cy="189.0" r="1.22"/><circle cx="146.4" cy="192.5" r="1.22"/><circle cx="152.6" cy="196.1" r="1.22"/><circle cx="186.7" cy="195.2" r="1.22"/><circle cx="196.6" cy="197.9" r="1.22"/><circle cx="221.3" cy="196.7" r="1.22"/><circle cx="118.0" cy="192.0" r="1.22"/><circle cx="123.0" cy="190.0" r="1.22"/><circle cx="129.0" cy="193.0" r="1.22"/><circle cx="115.0" cy="196.0" r="1.22"/><circle cx="136.0" cy="191.0" r="1.22"/></g>
<path d="M82.40,217.40 C82.93,217.27 83.56,217.25 84.00,217.00 C84.66,216.62 85.11,215.03 85.50,214.00 C86.08,212.45 86.01,208.00 86.20,205.00 C86.48,200.50 86.22,178.25 86.40,170.00 C86.52,164.50 86.76,159.00 86.90,153.50 C87.11,145.25 87.13,130.00 87.40,120.00 C87.58,113.33 87.78,104.75 88.10,100.00 C88.32,96.83 88.62,90.50 88.90,90.50 C89.18,90.50 89.57,96.83 89.80,100.00 C90.15,104.76 90.13,110.00 90.40,115.00 C90.67,119.94 91.08,124.87 91.40,129.80 C91.72,134.73 91.71,141.62 92.30,144.60 C92.69,146.58 93.10,148.79 93.80,150.50 C94.27,151.64 95.06,152.66 95.50,153.80 C96.16,155.52 96.29,157.52 96.60,159.40 C97.06,162.21 97.36,166.46 97.70,170.00 C98.02,173.33 98.24,176.67 98.60,180.00 C98.89,182.67 99.20,185.34 99.60,188.00 C99.95,190.34 100.37,192.67 100.80,195.00 C101.17,197.00 101.38,199.07 102.00,201.00 C102.56,202.72 103.34,204.40 104.20,206.00 C105.22,207.90 106.24,209.98 107.80,211.40 C109.06,212.55 110.71,213.43 112.30,214.10 C114.08,214.85 116.07,215.23 118.00,215.50 C119.97,215.77 122.69,215.86 124.00,215.70 C124.87,215.59 125.76,215.11 126.60,215.20 C127.43,215.29 128.19,215.92 129.00,216.20 C130.22,216.62 136.33,216.64 140.00,216.80 C145.50,217.03 153.80,217.08 160.70,217.20 C171.05,217.38 255.70,217.33 303.20,217.40 L303.20,217.40 L82.40,217.40 Z" fill="rgb(234,76,55)" fill-opacity="0.72" stroke="none"/>
<path d="M82.40,217.40 C82.93,217.27 83.56,217.25 84.00,217.00 C84.66,216.62 85.11,215.03 85.50,214.00 C86.08,212.45 86.01,208.00 86.20,205.00 C86.48,200.50 86.22,178.25 86.40,170.00 C86.52,164.50 86.76,159.00 86.90,153.50 C87.11,145.25 87.13,130.00 87.40,120.00 C87.58,113.33 87.78,104.75 88.10,100.00 C88.32,96.83 88.62,90.50 88.90,90.50 C89.18,90.50 89.57,96.83 89.80,100.00 C90.15,104.76 90.13,110.00 90.40,115.00 C90.67,119.94 91.08,124.87 91.40,129.80 C91.72,134.73 91.71,141.62 92.30,144.60 C92.69,146.58 93.10,148.79 93.80,150.50 C94.27,151.64 95.06,152.66 95.50,153.80 C96.16,155.52 96.29,157.52 96.60,159.40 C97.06,162.21 97.36,166.46 97.70,170.00 C98.02,173.33 98.24,176.67 98.60,180.00 C98.89,182.67 99.20,185.34 99.60,188.00 C99.95,190.34 100.37,192.67 100.80,195.00 C101.17,197.00 101.38,199.07 102.00,201.00 C102.56,202.72 103.34,204.40 104.20,206.00 C105.22,207.90 106.24,209.98 107.80,211.40 C109.06,212.55 110.71,213.43 112.30,214.10 C114.08,214.85 116.07,215.23 118.00,215.50 C119.97,215.77 122.69,215.86 124.00,215.70 C124.87,215.59 125.76,215.11 126.60,215.20 C127.43,215.29 128.19,215.92 129.00,216.20 C130.22,216.62 136.33,216.64 140.00,216.80 C145.50,217.03 153.80,217.08 160.70,217.20 C171.05,217.38 255.70,217.33 303.20,217.40" fill="none" stroke="#111" stroke-width="0.95" stroke-linejoin="round"/>
<rect x="86.3" y="218.8" width="17" height="13.2" fill="#000"/>
<g fill="#000"><circle cx="86.2" cy="229.4" r="1.22"/><circle cx="85.8" cy="230.9" r="1.22"/></g>
<g fill="#000"><circle cx="104.3" cy="221.0" r="1.22"/><circle cx="105.1" cy="222.2" r="1.22"/><circle cx="103.5" cy="226.5" r="1.22"/><circle cx="102.9" cy="227.9" r="1.22"/><circle cx="105.5" cy="228.4" r="1.22"/><circle cx="103.4" cy="227.6" r="1.22"/><circle cx="105.3" cy="223.9" r="1.22"/><circle cx="104.9" cy="226.7" r="1.22"/><circle cx="102.4" cy="229.1" r="1.22"/><circle cx="102.5" cy="227.5" r="1.22"/><circle cx="103.0" cy="224.8" r="1.22"/><circle cx="105.4" cy="220.7" r="1.22"/><circle cx="102.1" cy="229.0" r="1.22"/><circle cx="102.7" cy="222.9" r="1.22"/><circle cx="104.7" cy="221.1" r="1.22"/><circle cx="105.5" cy="227.7" r="1.22"/><circle cx="102.1" cy="221.2" r="1.22"/><circle cx="105.2" cy="221.6" r="1.22"/><circle cx="105.3" cy="224.1" r="1.22"/><circle cx="103.9" cy="229.6" r="1.22"/><circle cx="104.4" cy="223.3" r="1.22"/><circle cx="102.9" cy="226.5" r="1.22"/><circle cx="102.2" cy="223.7" r="1.22"/><circle cx="103.9" cy="224.0" r="1.22"/><circle cx="103.4" cy="226.4" r="1.22"/><circle cx="103.3" cy="224.9" r="1.22"/><circle cx="105.9" cy="221.1" r="1.22"/><circle cx="104.7" cy="222.7" r="1.22"/><circle cx="104.0" cy="226.2" r="1.22"/><circle cx="106.0" cy="226.1" r="1.22"/><circle cx="108.5" cy="222.8" r="1.22"/><circle cx="107.2" cy="228.3" r="1.22"/><circle cx="108.0" cy="223.6" r="1.22"/><circle cx="108.2" cy="220.1" r="1.22"/><circle cx="107.3" cy="231.3" r="1.22"/><circle cx="107.9" cy="222.3" r="1.22"/><circle cx="106.9" cy="221.0" r="1.22"/><circle cx="106.0" cy="224.8" r="1.22"/><circle cx="107.8" cy="223.0" r="1.22"/><circle cx="106.7" cy="223.0" r="1.22"/><circle cx="107.2" cy="226.0" r="1.22"/><circle cx="109.7" cy="230.5" r="1.22"/><circle cx="108.3" cy="221.5" r="1.22"/><circle cx="107.4" cy="224.5" r="1.22"/><circle cx="109.5" cy="225.2" r="1.22"/><circle cx="109.6" cy="222.5" r="1.22"/><circle cx="106.1" cy="222.6" r="1.22"/><circle cx="108.8" cy="224.2" r="1.22"/><circle cx="111.2" cy="229.8" r="1.22"/><circle cx="113.9" cy="228.2" r="1.22"/><circle cx="110.5" cy="229.9" r="1.22"/><circle cx="112.0" cy="221.6" r="1.22"/><circle cx="111.3" cy="228.4" r="1.22"/><circle cx="113.9" cy="227.6" r="1.22"/><circle cx="112.0" cy="224.4" r="1.22"/><circle cx="110.3" cy="223.4" r="1.22"/><circle cx="113.0" cy="222.5" r="1.22"/><circle cx="112.8" cy="230.5" r="1.22"/><circle cx="110.3" cy="228.1" r="1.22"/><circle cx="112.0" cy="221.3" r="1.22"/><circle cx="110.9" cy="220.5" r="1.22"/><circle cx="123.3" cy="225.9" r="1.22"/><circle cx="121.3" cy="227.3" r="1.22"/><circle cx="121.4" cy="228.3" r="1.22"/><circle cx="118.3" cy="228.6" r="1.22"/><circle cx="123.0" cy="228.7" r="1.22"/><circle cx="118.5" cy="230.7" r="1.22"/><circle cx="117.2" cy="225.1" r="1.22"/><circle cx="118.1" cy="220.5" r="1.22"/><circle cx="116.3" cy="220.1" r="1.22"/><circle cx="132.5" cy="221.6" r="1.22"/><circle cx="139.1" cy="221.2" r="1.22"/><circle cx="127.7" cy="230.5" r="1.22"/><circle cx="127.4" cy="228.8" r="1.22"/><circle cx="132.5" cy="223.5" r="1.22"/><circle cx="137.0" cy="223.3" r="1.22"/><circle cx="138.6" cy="228.2" r="1.22"/><circle cx="141.4" cy="224.2" r="1.22"/><circle cx="159.0" cy="226.2" r="1.22"/><circle cx="144.9" cy="222.5" r="1.22"/><circle cx="149.5" cy="221.8" r="1.22"/><circle cx="156.7" cy="223.0" r="1.22"/><circle cx="161.9" cy="226.2" r="1.22"/></g>
<g fill="#000"><circle cx="140.0" cy="222.0" r="1.22"/><circle cx="145.0" cy="228.0" r="1.22"/><circle cx="150.0" cy="224.0" r="1.22"/><circle cx="155.0" cy="229.0" r="1.22"/><circle cx="160.5" cy="221.0" r="1.22"/><circle cx="137.0" cy="226.0" r="1.22"/><circle cx="133.0" cy="230.0" r="1.22"/><circle cx="128.0" cy="224.0" r="1.22"/><circle cx="147.0" cy="221.0" r="1.22"/></g>
<text x="67.3" y="153.9" font-size="6.78" text-anchor="end" fill="#141414" stroke="#141414" stroke-width="0.22">Human Proteome</text>
<text x="67.3" y="185.6" font-size="6.78" text-anchor="end" fill="#141414" stroke="#141414" stroke-width="0.22">In- solution_Kidney</text>
<text x="67.3" y="217.7" font-size="6.78" text-anchor="end" fill="#141414" stroke="#141414" stroke-width="0.22">In- gel_Kidney</text>
<text x="85.8" y="244.6" font-size="6.80" text-anchor="middle" fill="#3a3a3a" stroke="#3a3a3a" stroke-width="0.22">0</text>
<text x="140.0" y="244.6" font-size="6.80" text-anchor="middle" fill="#3a3a3a" stroke="#3a3a3a" stroke-width="0.22">250</text>
<text x="194.0" y="244.6" font-size="6.80" text-anchor="middle" fill="#3a3a3a" stroke="#3a3a3a" stroke-width="0.22">500</text>
<text x="248.1" y="244.6" font-size="6.80" text-anchor="middle" fill="#3a3a3a" stroke="#3a3a3a" stroke-width="0.22">750</text>
<text x="302.2" y="244.6" font-size="6.80" text-anchor="middle" fill="#3a3a3a" stroke="#3a3a3a" stroke-width="0.22">1000</text>
<text x="64.5" y="22.6" font-size="12.20" text-anchor="start" fill="#1a1a1a" >(A)</text>
<text x="95.2" y="21.1" font-size="12.30" text-anchor="start" fill="#1a1a1a" >Molecular Weight of Kidney Proteome</text>
<line x1="416.1" y1="49.9" x2="416.1" y2="244.5" stroke="#ebebeb" stroke-width="0.8"/>
<line x1="474.3" y1="49.9" x2="474.3" y2="244.5" stroke="#ebebeb" stroke-width="0.8"/>
<line x1="532.4" y1="49.9" x2="532.4" y2="244.5" stroke="#ebebeb" stroke-width="0.8"/>
<line x1="590.5" y1="49.9" x2="590.5" y2="244.5" stroke="#ebebeb" stroke-width="0.8"/>
<line x1="648.5" y1="49.9" x2="648.5" y2="244.5" stroke="#ebebeb" stroke-width="0.8"/>
<line x1="398.3" y1="149.00" x2="651.0" y2="149.00" stroke="#ebebeb" stroke-width="0.8"/>
<line x1="398.3" y1="185.70" x2="651.0" y2="185.70" stroke="#ebebeb" stroke-width="0.8"/>
<line x1="398.3" y1="222.40" x2="651.0" y2="222.40" stroke="#ebebeb" stroke-width="0.8"/>
<path d="M412.40,149.00 C412.47,148.87 412.53,148.73 412.60,148.60 C412.70,148.40 414.13,145.70 414.70,144.20 C415.56,141.95 415.62,133.14 416.00,127.60 C416.56,119.29 417.04,109.20 417.40,100.00 C417.72,91.67 417.86,83.33 418.10,75.00 C418.33,66.80 418.51,48.30 418.80,50.40 C418.99,51.80 419.27,56.80 419.50,60.00 C419.85,64.80 420.17,70.01 420.60,75.00 C421.03,80.01 421.60,85.00 422.10,90.00 C422.50,93.93 422.81,97.88 423.30,101.80 C423.80,105.78 424.08,109.84 425.10,113.70 C425.84,116.52 426.83,119.32 428.00,122.00 C428.88,124.02 430.01,125.93 431.00,127.90 C431.98,129.86 432.74,131.96 433.90,133.80 C435.24,135.93 436.86,138.00 438.70,139.70 C440.76,141.60 443.28,143.16 445.80,144.40 C448.72,145.84 452.00,146.72 455.20,147.40 C458.30,148.06 461.52,148.25 464.70,148.50 C468.12,148.77 471.57,148.80 475.00,148.90 C480.15,149.05 491.67,148.97 500.00,149.00 C512.50,149.04 600.00,149.00 650.00,149.00 L650.00,149.00 L412.40,149.00 Z" fill="rgb(31,172,149)" fill-opacity="0.8" stroke="none"/>
<path d="M412.40,149.00 C412.47,148.87 412.53,148.73 412.60,148.60 C412.70,148.40 414.13,145.70 414.70,144.20 C415.56,141.95 415.62,133.14 416.00,127.60 C416.56,119.29 417.04,109.20 417.40,100.00 C417.72,91.67 417.86,83.33 418.10,75.00 C418.33,66.80 418.51,48.30 418.80,50.40 C418.99,51.80 419.27,56.80 419.50,60.00 C419.85,64.80 420.17,70.01 420.60,75.00 C421.03,80.01 421.60,85.00 422.10,90.00 C422.50,93.93 422.81,97.88 423.30,101.80 C423.80,105.78 424.08,109.84 425.10,113.70 C425.84,116.52 426.83,119.32 428.00,122.00 C428.88,124.02 430.01,125.93 431.00,127.90 C431.98,129.86 432.74,131.96 433.90,133.80 C435.24,135.93 436.86,138.00 438.70,139.70 C440.76,141.60 443.28,143.16 445.80,144.40 C448.72,145.84 452.00,146.72 455.20,147.40 C458.30,148.06 461.52,148.25 464.70,148.50 C468.12,148.77 471.57,148.80 475.00,148.90 C480.15,149.05 491.67,148.97 500.00,149.00 C512.50,149.04 600.00,149.00 650.00,149.00" fill="none" stroke="#111" stroke-width="0.95" stroke-linejoin="round"/>
<rect x="415.2" y="150.3" width="80" height="15.2" fill="#000"/>
<g fill="#000"><circle cx="415.4" cy="161.4" r="1.22"/><circle cx="415.4" cy="155.5" r="1.22"/><circle cx="414.6" cy="159.3" r="1.22"/><circle cx="415.6" cy="164.6" r="1.22"/></g>
<g fill="#000"><circle cx="493.1" cy="153.0" r="1.22"/><circle cx="501.8" cy="153.2" r="1.22"/><circle cx="501.2" cy="155.6" r="1.22"/><circle cx="504.0" cy="163.3" r="1.22"/><circle cx="504.8" cy="154.2" r="1.22"/><circle cx="502.5" cy="151.4" r="1.22"/><circle cx="499.1" cy="156.9" r="1.22"/><circle cx="494.3" cy="164.8" r="1.22"/><circle cx="496.8" cy="152.6" r="1.22"/><circle cx="498.8" cy="156.9" r="1.22"/><circle cx="495.1" cy="153.0" r="1.22"/><circle cx="501.9" cy="152.5" r="1.22"/><circle cx="497.2" cy="163.8" r="1.22"/><circle cx="497.2" cy="164.5" r="1.22"/><circle cx="503.6" cy="154.7" r="1.22"/><circle cx="495.1" cy="151.8" r="1.22"/><circle cx="493.5" cy="156.6" r="1.22"/><circle cx="499.7" cy="151.0" r="1.22"/><circle cx="501.3" cy="158.5" r="1.22"/><circle cx="499.6" cy="164.7" r="1.22"/><circle cx="503.5" cy="156.5" r="1.22"/><circle cx="496.8" cy="164.5" r="1.22"/><circle cx="497.6" cy="156.6" r="1.22"/><circle cx="493.1" cy="163.9" r="1.22"/><circle cx="496.1" cy="156.2" r="1.22"/><circle cx="495.9" cy="152.5" r="1.22"/><circle cx="503.1" cy="163.6" r="1.22"/><circle cx="493.6" cy="155.4" r="1.22"/><circle cx="500.8" cy="155.3" r="1.22"/><circle cx="504.7" cy="161.4" r="1.22"/><circle cx="503.2" cy="159.2" r="1.22"/><circle cx="504.9" cy="159.7" r="1.22"/><circle cx="501.9" cy="160.9" r="1.22"/><circle cx="497.7" cy="159.5" r="1.22"/><circle cx="501.1" cy="159.7" r="1.22"/><circle cx="499.5" cy="159.5" r="1.22"/><circle cx="496.2" cy="157.5" r="1.22"/><circle cx="501.7" cy="157.6" r="1.22"/><circle cx="495.7" cy="163.9" r="1.22"/><circle cx="499.3" cy="158.3" r="1.22"/><circle cx="502.8" cy="153.3" r="1.22"/><circle cx="502.9" cy="159.9" r="1.22"/><circle cx="503.4" cy="156.2" r="1.22"/><circle cx="503.0" cy="152.6" r="1.22"/><circle cx="494.8" cy="152.3" r="1.22"/><circle cx="497.3" cy="158.2" r="1.22"/><circle cx="498.4" cy="156.4" r="1.22"/><circle cx="505.0" cy="157.2" r="1.22"/><circle cx="498.7" cy="161.5" r="1.22"/><circle cx="494.8" cy="156.0" r="1.22"/><circle cx="499.2" cy="156.1" r="1.22"/><circle cx="497.1" cy="151.1" r="1.22"/><circle cx="495.4" cy="151.7" r="1.22"/><circle cx="495.1" cy="154.7" r="1.22"/><circle cx="496.9" cy="162.6" r="1.22"/><circle cx="494.1" cy="162.9" r="1.22"/><circle cx="495.4" cy="162.0" r="1.22"/><circle cx="500.4" cy="151.5" r="1.22"/><circle cx="498.3" cy="160.9" r="1.22"/><circle cx="496.5" cy="160.0" r="1.22"/><circle cx="502.7" cy="156.3" r="1.22"/><circle cx="501.5" cy="160.2" r="1.22"/><circle cx="497.0" cy="161.5" r="1.22"/><circle cx="497.6" cy="157.9" r="1.22"/><circle cx="503.8" cy="151.2" r="1.22"/><circle cx="500.1" cy="157.4" r="1.22"/><circle cx="503.1" cy="157.5" r="1.22"/><circle cx="503.7" cy="157.8" r="1.22"/><circle cx="499.1" cy="160.3" r="1.22"/><circle cx="501.9" cy="151.4" r="1.22"/><circle cx="501.2" cy="161.7" r="1.22"/><circle cx="502.2" cy="154.0" r="1.22"/><circle cx="493.9" cy="152.3" r="1.22"/><circle cx="494.1" cy="158.8" r="1.22"/><circle cx="493.7" cy="160.9" r="1.22"/><circle cx="498.8" cy="160.6" r="1.22"/><circle cx="498.0" cy="164.9" r="1.22"/><circle cx="494.7" cy="158.2" r="1.22"/><circle cx="493.1" cy="154.7" r="1.22"/><circle cx="496.1" cy="154.5" r="1.22"/><circle cx="503.3" cy="158.1" r="1.22"/><circle cx="498.0" cy="155.2" r="1.22"/><circle cx="503.4" cy="162.9" r="1.22"/><circle cx="496.1" cy="151.6" r="1.22"/><circle cx="499.4" cy="157.4" r="1.22"/><circle cx="498.9" cy="156.0" r="1.22"/><circle cx="502.6" cy="163.8" r="1.22"/><circle cx="499.7" cy="155.3" r="1.22"/><circle cx="499.4" cy="158.8" r="1.22"/><circle cx="496.9" cy="162.1" r="1.22"/><circle cx="496.5" cy="162.1" r="1.22"/><circle cx="500.1" cy="164.0" r="1.22"/><circle cx="498.3" cy="151.7" r="1.22"/><circle cx="498.2" cy="151.6" r="1.22"/><circle cx="503.4" cy="159.3" r="1.22"/><circle cx="495.2" cy="158.8" r="1.22"/><circle cx="502.6" cy="160.3" r="1.22"/><circle cx="501.1" cy="153.8" r="1.22"/><circle cx="503.1" cy="163.8" r="1.22"/><circle cx="495.5" cy="152.2" r="1.22"/><circle cx="498.0" cy="154.5" r="1.22"/><circle cx="503.9" cy="153.1" r="1.22"/><circle cx="493.7" cy="151.5" r="1.22"/><circle cx="503.0" cy="154.1" r="1.22"/><circle cx="500.0" cy="158.8" r="1.22"/><circle cx="494.8" cy="155.4" r="1.22"/><circle cx="503.1" cy="162.1" r="1.22"/><circle cx="504.8" cy="151.3" r="1.22"/><circle cx="497.6" cy="154.0" r="1.22"/><circle cx="499.5" cy="157.4" r="1.22"/><circle cx="501.7" cy="160.4" r="1.22"/><circle cx="494.4" cy="152.6" r="1.22"/><circle cx="504.3" cy="155.0" r="1.22"/><circle cx="497.2" cy="157.9" r="1.22"/><circle cx="504.2" cy="157.7" r="1.22"/><circle cx="503.4" cy="158.5" r="1.22"/><circle cx="494.1" cy="154.7" r="1.22"/><circle cx="495.7" cy="151.3" r="1.22"/><circle cx="500.9" cy="155.6" r="1.22"/><circle cx="498.4" cy="161.3" r="1.22"/><circle cx="495.1" cy="155.1" r="1.22"/><circle cx="493.8" cy="152.2" r="1.22"/><circle cx="499.6" cy="159.2" r="1.22"/><circle cx="498.5" cy="158.1" r="1.22"/><circle cx="494.2" cy="152.7" r="1.22"/><circle cx="499.9" cy="156.1" r="1.22"/><circle cx="501.0" cy="153.3" r="1.22"/><circle cx="504.3" cy="162.7" r="1.22"/><circle cx="503.5" cy="153.0" r="1.22"/><circle cx="494.1" cy="152.5" r="1.22"/><circle cx="499.0" cy="152.5" r="1.22"/><circle cx="498.6" cy="158.4" r="1.22"/><circle cx="499.1" cy="153.7" r="1.22"/><circle cx="497.8" cy="152.7" r="1.22"/><circle cx="495.9" cy="157.9" r="1.22"/><circle cx="503.7" cy="164.1" r="1.22"/><circle cx="498.9" cy="158.9" r="1.22"/><circle cx="501.3" cy="161.4" r="1.22"/><circle cx="494.8" cy="151.3" r="1.22"/><circle cx="497.7" cy="155.0" r="1.22"/><circle cx="503.7" cy="159.0" r="1.22"/><circle cx="495.8" cy="161.9" r="1.22"/><circle cx="501.5" cy="154.3" r="1.22"/><circle cx="493.5" cy="160.6" r="1.22"/><circle cx="502.8" cy="162.3" r="1.22"/><circle cx="493.1" cy="156.7" r="1.22"/><circle cx="497.9" cy="154.3" r="1.22"/><circle cx="501.8" cy="153.0" r="1.22"/><circle cx="497.1" cy="153.7" r="1.22"/><circle cx="495.6" cy="164.6" r="1.22"/><circle cx="505.0" cy="157.6" r="1.22"/><circle cx="499.0" cy="163.6" r="1.22"/><circle cx="502.0" cy="153.7" r="1.22"/><circle cx="500.5" cy="161.9" r="1.22"/><circle cx="494.1" cy="155.8" r="1.22"/><circle cx="494.9" cy="160.3" r="1.22"/><circle cx="501.9" cy="162.5" r="1.22"/><circle cx="501.9" cy="162.1" r="1.22"/><circle cx="500.1" cy="162.5" r="1.22"/><circle cx="494.4" cy="161.9" r="1.22"/><circle cx="496.0" cy="154.1" r="1.22"/><circle cx="495.4" cy="154.2" r="1.22"/><circle cx="498.9" cy="160.5" r="1.22"/><circle cx="501.5" cy="161.9" r="1.22"/><circle cx="502.5" cy="164.1" r="1.22"/><circle cx="502.9" cy="152.1" r="1.22"/><circle cx="500.8" cy="155.6" r="1.22"/><circle cx="500.1" cy="162.0" r="1.22"/><circle cx="493.1" cy="151.1" r="1.22"/><circle cx="494.3" cy="156.8" r="1.22"/><circle cx="500.3" cy="155.6" r="1.22"/><circle cx="495.6" cy="162.7" r="1.22"/><circle cx="500.4" cy="152.1" r="1.22"/><circle cx="496.3" cy="157.1" r="1.22"/><circle cx="500.9" cy="152.6" r="1.22"/><circle cx="501.2" cy="162.4" r="1.22"/><circle cx="495.2" cy="164.3" r="1.22"/><circle cx="497.3" cy="163.4" r="1.22"/><circle cx="497.7" cy="164.3" r="1.22"/><circle cx="495.3" cy="153.2" r="1.22"/><circle cx="499.3" cy="153.3" r="1.22"/><circle cx="504.3" cy="162.2" r="1.22"/><circle cx="496.0" cy="152.3" r="1.22"/><circle cx="499.6" cy="158.1" r="1.22"/><circle cx="497.5" cy="163.4" r="1.22"/><circle cx="501.0" cy="159.6" r="1.22"/><circle cx="497.3" cy="159.8" r="1.22"/><circle cx="497.5" cy="160.4" r="1.22"/><circle cx="503.9" cy="156.0" r="1.22"/><circle cx="504.7" cy="162.6" r="1.22"/><circle cx="501.2" cy="157.2" r="1.22"/><circle cx="501.7" cy="151.4" r="1.22"/><circle cx="496.9" cy="164.3" r="1.22"/><circle cx="503.7" cy="159.1" r="1.22"/><circle cx="499.9" cy="156.4" r="1.22"/><circle cx="502.0" cy="154.8" r="1.22"/><circle cx="502.1" cy="158.5" r="1.22"/><circle cx="500.8" cy="160.4" r="1.22"/><circle cx="501.5" cy="154.8" r="1.22"/><circle cx="494.9" cy="162.5" r="1.22"/><circle cx="502.5" cy="152.8" r="1.22"/><circle cx="499.2" cy="153.2" r="1.22"/><circle cx="501.9" cy="155.3" r="1.22"/><circle cx="493.6" cy="156.3" r="1.22"/><circle cx="495.2" cy="164.1" r="1.22"/><circle cx="495.4" cy="157.0" r="1.22"/><circle cx="494.3" cy="156.4" r="1.22"/><circle cx="496.2" cy="163.6" r="1.22"/><circle cx="498.4" cy="159.8" r="1.22"/><circle cx="502.3" cy="153.0" r="1.22"/><circle cx="502.1" cy="158.7" r="1.22"/><circle cx="501.0" cy="154.7" r="1.22"/><circle cx="497.4" cy="158.3" r="1.22"/><circle cx="496.5" cy="154.5" r="1.22"/><circle cx="502.3" cy="162.5" r="1.22"/><circle cx="499.8" cy="164.1" r="1.22"/><circle cx="496.2" cy="151.9" r="1.22"/><circle cx="499.6" cy="160.4" r="1.22"/><circle cx="498.0" cy="152.4" r="1.22"/><circle cx="496.7" cy="164.5" r="1.22"/><circle cx="500.6" cy="161.8" r="1.22"/><circle cx="501.9" cy="156.4" r="1.22"/><circle cx="502.7" cy="153.5" r="1.22"/><circle cx="503.5" cy="158.2" r="1.22"/><circle cx="494.6" cy="151.8" r="1.22"/><circle cx="498.0" cy="162.8" r="1.22"/><circle cx="501.0" cy="156.5" r="1.22"/><circle cx="499.9" cy="162.7" r="1.22"/><circle cx="502.5" cy="153.0" r="1.22"/><circle cx="501.1" cy="157.9" r="1.22"/><circle cx="501.9" cy="160.0" r="1.22"/><circle cx="503.5" cy="160.8" r="1.22"/><circle cx="501.4" cy="154.7" r="1.22"/><circle cx="493.8" cy="162.5" r="1.22"/><circle cx="496.3" cy="154.0" r="1.22"/><circle cx="494.1" cy="164.6" r="1.22"/><circle cx="502.6" cy="160.7" r="1.22"/><circle cx="493.9" cy="155.4" r="1.22"/><circle cx="493.0" cy="152.8" r="1.22"/><circle cx="496.3" cy="157.1" r="1.22"/><circle cx="513.3" cy="151.4" r="1.22"/><circle cx="517.4" cy="154.0" r="1.22"/><circle cx="514.4" cy="155.5" r="1.22"/><circle cx="513.5" cy="162.0" r="1.22"/><circle cx="508.1" cy="162.2" r="1.22"/><circle cx="513.1" cy="161.8" r="1.22"/><circle cx="505.4" cy="156.8" r="1.22"/><circle cx="505.9" cy="161.1" r="1.22"/><circle cx="513.8" cy="158.1" r="1.22"/><circle cx="513.8" cy="163.1" r="1.22"/><circle cx="519.4" cy="164.7" r="1.22"/><circle cx="506.1" cy="152.8" r="1.22"/><circle cx="511.8" cy="160.8" r="1.22"/><circle cx="511.8" cy="153.5" r="1.22"/><circle cx="511.0" cy="153.6" r="1.22"/><circle cx="516.0" cy="157.0" r="1.22"/><circle cx="508.0" cy="153.6" r="1.22"/><circle cx="509.0" cy="160.7" r="1.22"/><circle cx="519.6" cy="164.2" r="1.22"/><circle cx="518.8" cy="161.0" r="1.22"/><circle cx="505.9" cy="151.1" r="1.22"/><circle cx="518.0" cy="159.7" r="1.22"/><circle cx="509.0" cy="153.2" r="1.22"/><circle cx="509.6" cy="153.3" r="1.22"/><circle cx="510.3" cy="162.2" r="1.22"/><circle cx="511.8" cy="152.4" r="1.22"/><circle cx="507.3" cy="157.5" r="1.22"/><circle cx="516.9" cy="162.4" r="1.22"/><circle cx="506.9" cy="158.8" r="1.22"/><circle cx="512.6" cy="154.4" r="1.22"/><circle cx="505.3" cy="160.9" r="1.22"/><circle cx="511.6" cy="156.3" r="1.22"/><circle cx="507.0" cy="153.9" r="1.22"/><circle cx="513.8" cy="151.0" r="1.22"/><circle cx="517.5" cy="157.4" r="1.22"/><circle cx="505.6" cy="158.4" r="1.22"/><circle cx="506.1" cy="159.7" r="1.22"/><circle cx="518.3" cy="159.9" r="1.22"/><circle cx="508.1" cy="163.6" r="1.22"/><circle cx="510.7" cy="159.2" r="1.22"/><circle cx="506.9" cy="157.3" r="1.22"/><circle cx="513.8" cy="160.8" r="1.22"/><circle cx="511.6" cy="161.1" r="1.22"/><circle cx="505.8" cy="156.5" r="1.22"/><circle cx="515.1" cy="154.2" r="1.22"/><circle cx="514.7" cy="157.5" r="1.22"/><circle cx="507.1" cy="159.3" r="1.22"/><circle cx="505.9" cy="164.7" r="1.22"/><circle cx="508.4" cy="161.9" r="1.22"/><circle cx="517.4" cy="161.3" r="1.22"/><circle cx="505.6" cy="164.6" r="1.22"/><circle cx="517.0" cy="151.6" r="1.22"/><circle cx="508.6" cy="154.0" r="1.22"/><circle cx="508.9" cy="151.1" r="1.22"/><circle cx="516.4" cy="164.5" r="1.22"/><circle cx="515.6" cy="162.2" r="1.22"/><circle cx="507.4" cy="152.4" r="1.22"/><circle cx="518.7" cy="162.8" r="1.22"/><circle cx="513.3" cy="157.9" r="1.22"/><circle cx="514.3" cy="162.1" r="1.22"/><circle cx="506.2" cy="158.5" r="1.22"/><circle cx="509.4" cy="151.0" r="1.22"/><circle cx="516.2" cy="162.5" r="1.22"/><circle cx="517.2" cy="152.6" r="1.22"/><circle cx="514.8" cy="156.9" r="1.22"/><circle cx="513.2" cy="152.2" r="1.22"/><circle cx="517.7" cy="156.0" r="1.22"/><circle cx="509.5" cy="153.0" r="1.22"/><circle cx="516.5" cy="151.9" r="1.22"/><circle cx="506.7" cy="159.3" r="1.22"/><circle cx="512.8" cy="156.6" r="1.22"/><circle cx="514.2" cy="163.7" r="1.22"/><circle cx="516.0" cy="163.7" r="1.22"/><circle cx="517.6" cy="151.3" r="1.22"/><circle cx="511.5" cy="153.4" r="1.22"/><circle cx="519.1" cy="160.8" r="1.22"/><circle cx="508.8" cy="155.8" r="1.22"/><circle cx="509.9" cy="157.1" r="1.22"/><circle cx="519.7" cy="164.0" r="1.22"/><circle cx="519.9" cy="154.7" r="1.22"/><circle cx="508.7" cy="151.2" r="1.22"/><circle cx="508.5" cy="163.8" r="1.22"/><circle cx="509.9" cy="161.8" r="1.22"/><circle cx="518.3" cy="158.3" r="1.22"/><circle cx="506.6" cy="155.3" r="1.22"/><circle cx="514.4" cy="158.4" r="1.22"/><circle cx="519.5" cy="158.3" r="1.22"/><circle cx="514.7" cy="164.1" r="1.22"/><circle cx="506.3" cy="154.9" r="1.22"/><circle cx="518.6" cy="154.5" r="1.22"/><circle cx="507.6" cy="160.5" r="1.22"/><circle cx="515.4" cy="161.5" r="1.22"/><circle cx="508.7" cy="151.3" r="1.22"/><circle cx="515.4" cy="154.5" r="1.22"/><circle cx="519.5" cy="159.2" r="1.22"/><circle cx="514.8" cy="160.6" r="1.22"/><circle cx="509.6" cy="151.8" r="1.22"/><circle cx="505.2" cy="152.9" r="1.22"/><circle cx="506.7" cy="164.5" r="1.22"/><circle cx="515.3" cy="161.7" r="1.22"/><circle cx="507.7" cy="155.1" r="1.22"/><circle cx="511.1" cy="157.1" r="1.22"/><circle cx="515.9" cy="164.0" r="1.22"/><circle cx="510.1" cy="151.3" r="1.22"/><circle cx="517.4" cy="162.9" r="1.22"/><circle cx="517.0" cy="154.8" r="1.22"/><circle cx="505.1" cy="163.6" r="1.22"/><circle cx="507.4" cy="159.1" r="1.22"/><circle cx="514.9" cy="152.9" r="1.22"/><circle cx="510.7" cy="158.9" r="1.22"/><circle cx="508.3" cy="151.1" r="1.22"/><circle cx="517.8" cy="164.4" r="1.22"/><circle cx="510.5" cy="152.8" r="1.22"/><circle cx="516.8" cy="156.0" r="1.22"/><circle cx="512.8" cy="154.4" r="1.22"/><circle cx="516.9" cy="156.2" r="1.22"/><circle cx="516.5" cy="153.6" r="1.22"/><circle cx="508.3" cy="156.0" r="1.22"/><circle cx="514.6" cy="163.1" r="1.22"/><circle cx="505.8" cy="162.6" r="1.22"/><circle cx="508.5" cy="157.0" r="1.22"/><circle cx="506.7" cy="160.9" r="1.22"/><circle cx="506.4" cy="157.6" r="1.22"/><circle cx="507.6" cy="157.1" r="1.22"/><circle cx="506.8" cy="155.9" r="1.22"/><circle cx="513.3" cy="154.0" r="1.22"/><circle cx="516.2" cy="163.1" r="1.22"/><circle cx="506.7" cy="158.2" r="1.22"/><circle cx="508.6" cy="163.0" r="1.22"/><circle cx="508.2" cy="154.6" r="1.22"/><circle cx="518.9" cy="161.1" r="1.22"/><circle cx="506.1" cy="155.3" r="1.22"/><circle cx="508.1" cy="156.0" r="1.22"/><circle cx="512.2" cy="151.0" r="1.22"/><circle cx="514.8" cy="151.2" r="1.22"/><circle cx="512.1" cy="158.4" r="1.22"/><circle cx="508.5" cy="159.4" r="1.22"/><circle cx="514.8" cy="162.2" r="1.22"/><circle cx="519.2" cy="162.9" r="1.22"/><circle cx="510.5" cy="153.4" r="1.22"/><circle cx="508.4" cy="163.5" r="1.22"/><circle cx="506.2" cy="151.4" r="1.22"/><circle cx="511.6" cy="153.6" r="1.22"/><circle cx="516.2" cy="164.1" r="1.22"/><circle cx="511.0" cy="151.1" r="1.22"/><circle cx="519.2" cy="157.6" r="1.22"/><circle cx="514.3" cy="162.6" r="1.22"/><circle cx="511.8" cy="164.4" r="1.22"/><circle cx="509.8" cy="155.7" r="1.22"/><circle cx="515.0" cy="156.1" r="1.22"/><circle cx="507.4" cy="150.9" r="1.22"/><circle cx="514.1" cy="157.3" r="1.22"/><circle cx="513.4" cy="152.8" r="1.22"/><circle cx="508.6" cy="164.4" r="1.22"/><circle cx="507.2" cy="158.2" r="1.22"/><circle cx="505.9" cy="153.2" r="1.22"/><circle cx="513.8" cy="156.6" r="1.22"/><circle cx="518.3" cy="163.0" r="1.22"/><circle cx="519.4" cy="164.1" r="1.22"/><circle cx="511.1" cy="163.7" r="1.22"/><circle cx="506.6" cy="154.9" r="1.22"/><circle cx="518.1" cy="158.3" r="1.22"/><circle cx="517.7" cy="160.1" r="1.22"/><circle cx="512.7" cy="154.3" r="1.22"/><circle cx="514.9" cy="162.1" r="1.22"/><circle cx="507.9" cy="163.5" r="1.22"/><circle cx="513.6" cy="160.6" r="1.22"/><circle cx="508.8" cy="156.0" r="1.22"/><circle cx="512.9" cy="151.9" r="1.22"/><circle cx="516.1" cy="157.5" r="1.22"/><circle cx="515.1" cy="151.0" r="1.22"/><circle cx="512.1" cy="160.8" r="1.22"/><circle cx="514.7" cy="164.3" r="1.22"/><circle cx="516.8" cy="156.9" r="1.22"/><circle cx="519.4" cy="156.6" r="1.22"/><circle cx="508.5" cy="155.9" r="1.22"/><circle cx="515.0" cy="152.7" r="1.22"/><circle cx="508.3" cy="154.6" r="1.22"/><circle cx="505.5" cy="156.6" r="1.22"/><circle cx="511.3" cy="159.1" r="1.22"/><circle cx="519.1" cy="155.9" r="1.22"/><circle cx="515.6" cy="153.3" r="1.22"/><circle cx="512.2" cy="160.4" r="1.22"/><circle cx="507.4" cy="164.4" r="1.22"/><circle cx="514.6" cy="160.8" r="1.22"/><circle cx="519.5" cy="161.6" r="1.22"/><circle cx="509.5" cy="162.4" r="1.22"/><circle cx="514.0" cy="163.2" r="1.22"/><circle cx="513.8" cy="151.1" r="1.22"/><circle cx="513.0" cy="154.7" r="1.22"/><circle cx="506.1" cy="153.3" r="1.22"/><circle cx="515.4" cy="154.1" r="1.22"/><circle cx="509.0" cy="164.7" r="1.22"/><circle cx="505.3" cy="164.0" r="1.22"/><circle cx="519.5" cy="155.6" r="1.22"/><circle cx="512.8" cy="156.7" r="1.22"/><circle cx="512.2" cy="151.6" r="1.22"/><circle cx="506.3" cy="152.2" r="1.22"/><circle cx="514.4" cy="154.6" r="1.22"/><circle cx="516.9" cy="155.7" r="1.22"/><circle cx="512.4" cy="163.9" r="1.22"/><circle cx="513.4" cy="153.0" r="1.22"/><circle cx="515.4" cy="160.9" r="1.22"/><circle cx="508.4" cy="162.1" r="1.22"/><circle cx="506.4" cy="153.6" r="1.22"/><circle cx="515.6" cy="162.0" r="1.22"/><circle cx="508.5" cy="160.2" r="1.22"/><circle cx="513.5" cy="153.6" r="1.22"/><circle cx="513.7" cy="159.8" r="1.22"/><circle cx="508.6" cy="156.8" r="1.22"/><circle cx="513.0" cy="151.3" r="1.22"/><circle cx="515.9" cy="155.0" r="1.22"/><circle cx="514.6" cy="159.5" r="1.22"/><circle cx="518.5" cy="155.2" r="1.22"/><circle cx="514.9" cy="153.1" r="1.22"/><circle cx="508.4" cy="162.5" r="1.22"/><circle cx="516.9" cy="155.3" r="1.22"/><circle cx="515.8" cy="159.4" r="1.22"/><circle cx="506.3" cy="158.1" r="1.22"/><circle cx="507.3" cy="163.2" r="1.22"/><circle cx="511.9" cy="152.6" r="1.22"/><circle cx="512.6" cy="156.0" r="1.22"/><circle cx="515.7" cy="161.8" r="1.22"/><circle cx="506.6" cy="156.3" r="1.22"/><circle cx="512.3" cy="160.3" r="1.22"/><circle cx="508.3" cy="157.6" r="1.22"/><circle cx="515.7" cy="156.1" r="1.22"/><circle cx="519.0" cy="152.4" r="1.22"/><circle cx="511.8" cy="154.8" r="1.22"/><circle cx="505.6" cy="163.7" r="1.22"/><circle cx="506.9" cy="159.6" r="1.22"/><circle cx="509.5" cy="161.4" r="1.22"/><circle cx="516.6" cy="152.1" r="1.22"/><circle cx="510.9" cy="164.4" r="1.22"/><circle cx="505.8" cy="161.7" r="1.22"/><circle cx="507.0" cy="151.9" r="1.22"/><circle cx="507.5" cy="162.6" r="1.22"/><circle cx="507.5" cy="161.6" r="1.22"/><circle cx="511.4" cy="152.6" r="1.22"/><circle cx="506.8" cy="161.3" r="1.22"/><circle cx="529.1" cy="157.4" r="1.22"/><circle cx="530.7" cy="152.7" r="1.22"/><circle cx="521.6" cy="155.6" r="1.22"/><circle cx="523.7" cy="157.5" r="1.22"/><circle cx="534.9" cy="162.9" r="1.22"/><circle cx="524.8" cy="161.3" r="1.22"/><circle cx="525.1" cy="156.8" r="1.22"/><circle cx="528.6" cy="161.6" r="1.22"/><circle cx="534.3" cy="162.8" r="1.22"/><circle cx="532.3" cy="156.0" r="1.22"/><circle cx="525.6" cy="156.2" r="1.22"/><circle cx="521.7" cy="163.7" r="1.22"/><circle cx="526.2" cy="163.3" r="1.22"/><circle cx="531.3" cy="163.8" r="1.22"/><circle cx="530.9" cy="162.3" r="1.22"/><circle cx="523.8" cy="156.2" r="1.22"/><circle cx="532.6" cy="158.4" r="1.22"/><circle cx="525.0" cy="155.7" r="1.22"/><circle cx="533.2" cy="164.1" r="1.22"/><circle cx="531.2" cy="160.0" r="1.22"/><circle cx="520.7" cy="158.6" r="1.22"/><circle cx="526.8" cy="161.9" r="1.22"/><circle cx="523.2" cy="154.4" r="1.22"/><circle cx="521.5" cy="151.2" r="1.22"/><circle cx="531.9" cy="151.9" r="1.22"/><circle cx="521.0" cy="153.7" r="1.22"/><circle cx="526.9" cy="162.1" r="1.22"/><circle cx="534.3" cy="159.8" r="1.22"/><circle cx="533.4" cy="163.5" r="1.22"/><circle cx="531.0" cy="163.2" r="1.22"/><circle cx="528.6" cy="159.1" r="1.22"/><circle cx="532.4" cy="157.7" r="1.22"/><circle cx="526.2" cy="160.2" r="1.22"/><circle cx="523.1" cy="156.0" r="1.22"/><circle cx="534.4" cy="152.6" r="1.22"/><circle cx="533.7" cy="159.2" r="1.22"/><circle cx="526.5" cy="156.9" r="1.22"/><circle cx="521.4" cy="162.4" r="1.22"/><circle cx="531.8" cy="154.0" r="1.22"/><circle cx="523.3" cy="164.8" r="1.22"/><circle cx="526.5" cy="160.8" r="1.22"/><circle cx="533.9" cy="155.1" r="1.22"/><circle cx="524.9" cy="153.5" r="1.22"/><circle cx="528.2" cy="160.3" r="1.22"/><circle cx="522.1" cy="164.9" r="1.22"/><circle cx="528.4" cy="153.5" r="1.22"/><circle cx="533.7" cy="161.5" r="1.22"/><circle cx="533.0" cy="163.9" r="1.22"/><circle cx="523.1" cy="157.9" r="1.22"/><circle cx="534.3" cy="164.0" r="1.22"/><circle cx="528.4" cy="159.7" r="1.22"/><circle cx="532.1" cy="159.3" r="1.22"/><circle cx="523.9" cy="156.8" r="1.22"/><circle cx="527.7" cy="152.2" r="1.22"/><circle cx="520.1" cy="160.9" r="1.22"/><circle cx="531.2" cy="154.5" r="1.22"/><circle cx="527.8" cy="159.3" r="1.22"/><circle cx="533.6" cy="159.1" r="1.22"/><circle cx="530.8" cy="160.9" r="1.22"/><circle cx="530.7" cy="162.7" r="1.22"/><circle cx="533.9" cy="164.1" r="1.22"/><circle cx="526.6" cy="151.9" r="1.22"/><circle cx="532.0" cy="152.9" r="1.22"/><circle cx="526.9" cy="164.9" r="1.22"/><circle cx="525.0" cy="154.3" r="1.22"/><circle cx="523.0" cy="156.6" r="1.22"/><circle cx="529.3" cy="153.2" r="1.22"/><circle cx="523.3" cy="153.6" r="1.22"/><circle cx="524.7" cy="153.5" r="1.22"/><circle cx="527.2" cy="164.5" r="1.22"/><circle cx="527.1" cy="159.2" r="1.22"/><circle cx="522.2" cy="151.9" r="1.22"/><circle cx="526.1" cy="156.8" r="1.22"/><circle cx="525.3" cy="156.4" r="1.22"/><circle cx="522.3" cy="158.9" r="1.22"/><circle cx="520.1" cy="161.1" r="1.22"/><circle cx="525.3" cy="163.8" r="1.22"/><circle cx="526.0" cy="155.1" r="1.22"/><circle cx="528.3" cy="161.2" r="1.22"/><circle cx="534.2" cy="156.0" r="1.22"/><circle cx="528.9" cy="155.7" r="1.22"/><circle cx="534.2" cy="156.5" r="1.22"/><circle cx="522.7" cy="163.5" r="1.22"/><circle cx="532.0" cy="155.4" r="1.22"/><circle cx="527.2" cy="156.0" r="1.22"/><circle cx="533.4" cy="158.3" r="1.22"/><circle cx="533.9" cy="157.6" r="1.22"/><circle cx="525.0" cy="159.4" r="1.22"/><circle cx="531.8" cy="156.1" r="1.22"/><circle cx="525.8" cy="163.7" r="1.22"/><circle cx="528.1" cy="155.5" r="1.22"/><circle cx="532.3" cy="160.6" r="1.22"/><circle cx="520.3" cy="151.7" r="1.22"/><circle cx="532.1" cy="154.1" r="1.22"/><circle cx="520.9" cy="161.2" r="1.22"/><circle cx="534.2" cy="163.8" r="1.22"/><circle cx="521.3" cy="157.0" r="1.22"/><circle cx="522.9" cy="162.9" r="1.22"/><circle cx="525.8" cy="163.1" r="1.22"/><circle cx="531.3" cy="164.6" r="1.22"/><circle cx="520.6" cy="152.6" r="1.22"/><circle cx="520.3" cy="159.7" r="1.22"/><circle cx="521.7" cy="153.4" r="1.22"/><circle cx="529.1" cy="164.5" r="1.22"/><circle cx="526.5" cy="154.4" r="1.22"/><circle cx="534.9" cy="153.3" r="1.22"/><circle cx="522.7" cy="155.8" r="1.22"/><circle cx="531.1" cy="158.3" r="1.22"/><circle cx="530.2" cy="157.1" r="1.22"/><circle cx="531.9" cy="157.2" r="1.22"/><circle cx="533.2" cy="155.6" r="1.22"/><circle cx="528.4" cy="153.3" r="1.22"/><circle cx="525.7" cy="150.9" r="1.22"/><circle cx="527.7" cy="162.1" r="1.22"/><circle cx="526.2" cy="158.9" r="1.22"/><circle cx="530.9" cy="164.4" r="1.22"/><circle cx="529.2" cy="156.2" r="1.22"/><circle cx="524.0" cy="162.0" r="1.22"/><circle cx="534.9" cy="155.3" r="1.22"/><circle cx="531.4" cy="159.5" r="1.22"/><circle cx="522.4" cy="157.7" r="1.22"/><circle cx="521.2" cy="161.5" r="1.22"/><circle cx="522.2" cy="158.9" r="1.22"/><circle cx="533.6" cy="156.9" r="1.22"/><circle cx="534.0" cy="161.8" r="1.22"/><circle cx="521.5" cy="152.5" r="1.22"/><circle cx="533.1" cy="161.1" r="1.22"/><circle cx="523.8" cy="160.0" r="1.22"/><circle cx="521.5" cy="161.0" r="1.22"/><circle cx="523.2" cy="154.8" r="1.22"/><circle cx="526.4" cy="162.2" r="1.22"/><circle cx="531.4" cy="163.0" r="1.22"/><circle cx="527.1" cy="161.4" r="1.22"/><circle cx="522.2" cy="151.6" r="1.22"/><circle cx="534.8" cy="161.3" r="1.22"/><circle cx="522.0" cy="156.2" r="1.22"/><circle cx="523.7" cy="151.3" r="1.22"/><circle cx="527.2" cy="162.8" r="1.22"/><circle cx="533.4" cy="157.4" r="1.22"/><circle cx="527.0" cy="161.1" r="1.22"/><circle cx="522.8" cy="162.3" r="1.22"/><circle cx="521.8" cy="157.9" r="1.22"/><circle cx="525.0" cy="163.9" r="1.22"/><circle cx="527.1" cy="154.4" r="1.22"/><circle cx="533.7" cy="163.6" r="1.22"/><circle cx="531.6" cy="158.4" r="1.22"/><circle cx="532.8" cy="152.3" r="1.22"/><circle cx="530.2" cy="154.1" r="1.22"/><circle cx="526.9" cy="164.4" r="1.22"/><circle cx="533.8" cy="160.5" r="1.22"/><circle cx="528.3" cy="153.2" r="1.22"/><circle cx="522.1" cy="157.8" r="1.22"/><circle cx="524.0" cy="158.7" r="1.22"/><circle cx="531.4" cy="153.2" r="1.22"/><circle cx="533.3" cy="164.4" r="1.22"/><circle cx="534.7" cy="159.1" r="1.22"/><circle cx="534.5" cy="158.6" r="1.22"/><circle cx="524.7" cy="153.7" r="1.22"/><circle cx="521.9" cy="159.7" r="1.22"/><circle cx="530.3" cy="164.2" r="1.22"/><circle cx="529.5" cy="163.0" r="1.22"/><circle cx="530.0" cy="159.4" r="1.22"/><circle cx="521.0" cy="158.6" r="1.22"/><circle cx="523.1" cy="152.5" r="1.22"/><circle cx="532.6" cy="160.5" r="1.22"/><circle cx="530.2" cy="150.9" r="1.22"/><circle cx="520.7" cy="164.5" r="1.22"/><circle cx="524.7" cy="151.0" r="1.22"/><circle cx="528.8" cy="151.1" r="1.22"/><circle cx="523.0" cy="162.6" r="1.22"/><circle cx="521.5" cy="154.6" r="1.22"/><circle cx="533.2" cy="155.4" r="1.22"/><circle cx="534.5" cy="160.7" r="1.22"/><circle cx="521.0" cy="164.7" r="1.22"/><circle cx="521.7" cy="154.7" r="1.22"/><circle cx="522.2" cy="160.2" r="1.22"/><circle cx="534.9" cy="160.1" r="1.22"/><circle cx="522.4" cy="158.6" r="1.22"/><circle cx="523.8" cy="153.1" r="1.22"/><circle cx="522.2" cy="162.1" r="1.22"/><circle cx="537.1" cy="158.9" r="1.22"/><circle cx="542.3" cy="158.5" r="1.22"/><circle cx="535.2" cy="156.8" r="1.22"/><circle cx="538.1" cy="154.3" r="1.22"/><circle cx="545.7" cy="152.2" r="1.22"/><circle cx="541.2" cy="155.6" r="1.22"/><circle cx="544.9" cy="160.3" r="1.22"/><circle cx="545.9" cy="157.9" r="1.22"/><circle cx="547.0" cy="153.4" r="1.22"/><circle cx="535.9" cy="155.5" r="1.22"/><circle cx="536.2" cy="156.8" r="1.22"/><circle cx="539.0" cy="164.0" r="1.22"/><circle cx="538.2" cy="155.2" r="1.22"/><circle cx="544.2" cy="153.2" r="1.22"/><circle cx="535.6" cy="162.8" r="1.22"/><circle cx="543.4" cy="159.7" r="1.22"/><circle cx="535.8" cy="155.6" r="1.22"/><circle cx="536.3" cy="160.9" r="1.22"/><circle cx="541.6" cy="160.3" r="1.22"/><circle cx="540.6" cy="152.2" r="1.22"/><circle cx="546.7" cy="154.0" r="1.22"/><circle cx="540.2" cy="152.1" r="1.22"/><circle cx="539.4" cy="160.3" r="1.22"/><circle cx="537.9" cy="160.5" r="1.22"/><circle cx="540.6" cy="151.9" r="1.22"/><circle cx="547.0" cy="157.9" r="1.22"/><circle cx="541.3" cy="160.3" r="1.22"/><circle cx="545.6" cy="152.9" r="1.22"/><circle cx="541.3" cy="160.5" r="1.22"/><circle cx="544.1" cy="164.6" r="1.22"/><circle cx="535.6" cy="162.1" r="1.22"/><circle cx="536.5" cy="151.6" r="1.22"/><circle cx="542.6" cy="155.8" r="1.22"/><circle cx="544.0" cy="160.9" r="1.22"/><circle cx="540.7" cy="152.2" r="1.22"/><circle cx="543.3" cy="163.1" r="1.22"/><circle cx="544.3" cy="156.2" r="1.22"/><circle cx="543.7" cy="151.5" r="1.22"/><circle cx="548.0" cy="163.6" r="1.22"/><circle cx="542.4" cy="158.2" r="1.22"/><circle cx="541.3" cy="156.1" r="1.22"/><circle cx="541.6" cy="154.0" r="1.22"/><circle cx="538.6" cy="158.0" r="1.22"/><circle cx="540.4" cy="153.5" r="1.22"/><circle cx="541.9" cy="161.7" r="1.22"/><circle cx="541.7" cy="163.9" r="1.22"/><circle cx="541.6" cy="155.0" r="1.22"/><circle cx="540.2" cy="162.4" r="1.22"/><circle cx="541.3" cy="153.9" r="1.22"/><circle cx="540.9" cy="155.2" r="1.22"/><circle cx="539.7" cy="161.2" r="1.22"/><circle cx="537.7" cy="161.9" r="1.22"/><circle cx="543.5" cy="159.8" r="1.22"/><circle cx="544.0" cy="151.7" r="1.22"/><circle cx="539.7" cy="164.4" r="1.22"/><circle cx="541.8" cy="164.5" r="1.22"/><circle cx="545.5" cy="155.6" r="1.22"/><circle cx="536.4" cy="161.2" r="1.22"/><circle cx="541.3" cy="154.7" r="1.22"/><circle cx="541.3" cy="163.5" r="1.22"/><circle cx="540.7" cy="155.3" r="1.22"/><circle cx="547.7" cy="153.1" r="1.22"/><circle cx="546.1" cy="162.8" r="1.22"/><circle cx="546.6" cy="153.6" r="1.22"/><circle cx="545.0" cy="152.6" r="1.22"/><circle cx="546.7" cy="156.5" r="1.22"/><circle cx="542.7" cy="151.2" r="1.22"/><circle cx="540.1" cy="151.0" r="1.22"/><circle cx="539.8" cy="155.6" r="1.22"/><circle cx="543.8" cy="153.5" r="1.22"/><circle cx="535.3" cy="159.5" r="1.22"/><circle cx="538.8" cy="162.9" r="1.22"/><circle cx="546.8" cy="159.1" r="1.22"/><circle cx="542.5" cy="151.4" r="1.22"/><circle cx="539.2" cy="159.3" r="1.22"/><circle cx="541.6" cy="153.9" r="1.22"/><circle cx="539.0" cy="156.0" r="1.22"/><circle cx="546.7" cy="164.7" r="1.22"/><circle cx="538.1" cy="154.3" r="1.22"/><circle cx="542.6" cy="151.4" r="1.22"/><circle cx="538.5" cy="157.6" r="1.22"/><circle cx="547.8" cy="156.2" r="1.22"/><circle cx="538.0" cy="161.8" r="1.22"/><circle cx="545.9" cy="156.3" r="1.22"/><circle cx="545.4" cy="154.5" r="1.22"/><circle cx="544.8" cy="164.8" r="1.22"/><circle cx="536.2" cy="153.9" r="1.22"/><circle cx="535.0" cy="152.2" r="1.22"/><circle cx="539.8" cy="158.0" r="1.22"/><circle cx="538.8" cy="158.1" r="1.22"/><circle cx="547.8" cy="158.0" r="1.22"/><circle cx="541.4" cy="163.0" r="1.22"/><circle cx="537.7" cy="155.9" r="1.22"/><circle cx="539.4" cy="158.8" r="1.22"/><circle cx="538.7" cy="164.3" r="1.22"/><circle cx="539.8" cy="160.1" r="1.22"/><circle cx="541.9" cy="155.5" r="1.22"/><circle cx="546.0" cy="156.7" r="1.22"/><circle cx="547.4" cy="156.5" r="1.22"/><circle cx="537.1" cy="160.2" r="1.22"/><circle cx="540.8" cy="154.1" r="1.22"/><circle cx="545.3" cy="162.6" r="1.22"/><circle cx="539.9" cy="151.3" r="1.22"/><circle cx="543.9" cy="157.9" r="1.22"/><circle cx="551.8" cy="153.3" r="1.22"/><circle cx="550.1" cy="152.8" r="1.22"/><circle cx="552.9" cy="158.0" r="1.22"/><circle cx="550.5" cy="152.8" r="1.22"/><circle cx="551.9" cy="152.8" r="1.22"/><circle cx="550.5" cy="158.5" r="1.22"/><circle cx="552.6" cy="157.1" r="1.22"/><circle cx="554.6" cy="161.5" r="1.22"/><circle cx="550.9" cy="164.5" r="1.22"/><circle cx="548.9" cy="151.3" r="1.22"/><circle cx="553.8" cy="162.8" r="1.22"/><circle cx="549.4" cy="158.2" r="1.22"/><circle cx="548.1" cy="157.1" r="1.22"/><circle cx="550.7" cy="155.6" r="1.22"/><circle cx="548.5" cy="159.6" r="1.22"/><circle cx="549.0" cy="155.0" r="1.22"/><circle cx="555.9" cy="162.1" r="1.22"/><circle cx="549.8" cy="163.9" r="1.22"/><circle cx="552.4" cy="163.0" r="1.22"/><circle cx="549.1" cy="157.4" r="1.22"/><circle cx="554.3" cy="153.6" r="1.22"/><circle cx="555.7" cy="161.3" r="1.22"/><circle cx="554.6" cy="160.6" r="1.22"/><circle cx="551.2" cy="153.9" r="1.22"/><circle cx="555.6" cy="158.0" r="1.22"/><circle cx="552.0" cy="161.5" r="1.22"/><circle cx="550.9" cy="155.8" r="1.22"/><circle cx="551.2" cy="153.0" r="1.22"/><circle cx="555.3" cy="158.0" r="1.22"/><circle cx="554.3" cy="161.0" r="1.22"/><circle cx="550.8" cy="152.2" r="1.22"/><circle cx="550.2" cy="157.7" r="1.22"/><circle cx="551.0" cy="153.9" r="1.22"/><circle cx="551.5" cy="162.1" r="1.22"/><circle cx="550.0" cy="158.6" r="1.22"/><circle cx="552.8" cy="152.6" r="1.22"/><circle cx="563.0" cy="163.0" r="1.22"/><circle cx="563.3" cy="160.3" r="1.22"/><circle cx="564.6" cy="152.3" r="1.22"/><circle cx="559.7" cy="153.0" r="1.22"/><circle cx="558.0" cy="156.3" r="1.22"/><circle cx="557.3" cy="159.0" r="1.22"/><circle cx="557.7" cy="158.4" r="1.22"/><circle cx="560.0" cy="162.6" r="1.22"/><circle cx="556.2" cy="153.7" r="1.22"/><circle cx="556.3" cy="158.9" r="1.22"/><circle cx="560.8" cy="161.8" r="1.22"/><circle cx="558.8" cy="154.1" r="1.22"/><circle cx="561.2" cy="156.1" r="1.22"/><circle cx="560.3" cy="159.9" r="1.22"/><circle cx="562.2" cy="158.6" r="1.22"/><circle cx="562.6" cy="162.7" r="1.22"/><circle cx="563.8" cy="154.4" r="1.22"/><circle cx="556.8" cy="152.1" r="1.22"/><circle cx="560.4" cy="155.1" r="1.22"/><circle cx="569.6" cy="162.0" r="1.22"/><circle cx="572.2" cy="154.0" r="1.22"/><circle cx="565.1" cy="152.4" r="1.22"/><circle cx="575.0" cy="151.4" r="1.22"/><circle cx="572.6" cy="164.0" r="1.22"/><circle cx="568.9" cy="151.9" r="1.22"/><circle cx="569.4" cy="161.7" r="1.22"/><circle cx="573.3" cy="153.4" r="1.22"/><circle cx="581.1" cy="158.7" r="1.22"/><circle cx="581.9" cy="154.3" r="1.22"/><circle cx="576.2" cy="163.2" r="1.22"/><circle cx="589.7" cy="159.7" r="1.22"/><circle cx="582.0" cy="155.1" r="1.22"/><circle cx="594.1" cy="160.1" r="1.22"/><circle cx="603.2" cy="157.1" r="1.22"/><circle cx="596.5" cy="155.6" r="1.22"/></g>
<g fill="#000"><circle cx="563.8" cy="156.3" r="1.22"/><circle cx="569.4" cy="154.3" r="1.22"/><circle cx="578.0" cy="160.0" r="1.22"/><circle cx="583.6" cy="156.3" r="1.22"/><circle cx="586.5" cy="154.3" r="1.22"/><circle cx="596.4" cy="154.9" r="1.22"/><circle cx="599.3" cy="160.6" r="1.22"/><circle cx="601.2" cy="160.0" r="1.22"/><circle cx="610.6" cy="152.6" r="1.22"/><circle cx="616.3" cy="155.5" r="1.22"/><circle cx="617.7" cy="157.2" r="1.22"/><circle cx="630.5" cy="159.1" r="1.22"/><circle cx="640.5" cy="163.4" r="1.22"/><circle cx="643.3" cy="162.0" r="1.22"/><circle cx="644.7" cy="154.3" r="1.22"/><circle cx="646.7" cy="156.3" r="1.22"/><circle cx="555.2" cy="152.0" r="1.22"/><circle cx="558.1" cy="157.7" r="1.22"/><circle cx="560.9" cy="162.0" r="1.22"/><circle cx="552.4" cy="163.4" r="1.22"/><circle cx="565.2" cy="160.6" r="1.22"/></g>
<path d="M412.40,185.70 C412.87,185.63 413.40,185.69 413.80,185.50 C414.36,185.24 414.76,184.54 415.10,184.00 C415.61,183.19 415.54,180.00 415.70,178.00 C415.94,175.00 416.05,171.33 416.20,168.00 C416.42,163.00 416.51,156.00 416.80,150.00 C417.20,141.66 418.05,133.34 418.50,125.00 C418.95,116.67 419.19,106.00 419.50,100.00 C419.71,96.00 419.92,87.64 420.20,88.00 C420.43,88.30 420.73,94.67 421.00,98.00 C421.33,102.00 421.29,106.95 422.00,110.00 C422.48,112.03 423.57,116.05 423.90,116.00 C424.12,115.96 424.38,115.84 424.60,115.80 C424.93,115.74 425.99,123.91 426.60,123.50 C427.01,123.22 427.59,121.99 428.00,121.90 C428.61,121.77 429.14,123.92 429.50,125.00 C430.03,126.58 430.02,128.33 430.20,130.00 C430.47,132.51 430.46,137.00 430.60,140.50 C430.73,143.67 430.80,146.84 431.00,150.00 C431.20,153.24 431.48,156.47 431.80,159.70 C432.09,162.67 432.25,165.67 432.80,168.60 C433.17,170.58 433.41,173.38 434.20,174.50 C434.72,175.25 435.64,176.37 436.20,176.50 C437.04,176.70 437.56,173.11 438.20,171.60 C438.63,170.60 439.07,168.60 439.50,168.60 C439.93,168.60 440.44,170.58 440.80,171.60 C441.34,173.13 441.18,176.42 442.10,178.50 C442.72,179.89 443.40,181.58 444.60,182.40 C445.40,182.94 446.54,183.45 447.50,183.40 C448.34,183.36 449.17,182.40 450.00,182.40 C450.83,182.40 451.77,183.55 452.50,183.40 C453.24,183.24 453.64,181.68 454.40,181.40 C455.24,181.09 456.40,181.73 457.40,181.90 C458.40,182.07 459.51,182.01 460.40,182.40 C461.54,182.90 462.16,184.54 463.30,185.00 C464.38,185.44 465.82,185.41 467.00,185.20 C468.22,184.99 469.35,183.63 470.50,183.70 C471.51,183.76 472.43,184.99 473.50,185.20 C474.30,185.36 475.22,185.40 476.00,185.20 C476.87,184.98 477.61,183.81 478.40,183.80 C479.27,183.79 480.12,184.90 481.00,185.40 C482.31,186.15 527.34,186.09 530.00,185.60 C531.77,185.27 533.92,184.25 535.30,184.50 C536.22,184.67 537.10,185.24 538.00,185.60 C539.35,186.14 612.67,185.67 650.00,185.70 L650.00,185.70 L412.40,185.70 Z" fill="rgb(78,188,212)" fill-opacity="0.8" stroke="none"/>
<path d="M412.40,185.70 C412.87,185.63 413.40,185.69 413.80,185.50 C414.36,185.24 414.76,184.54 415.10,184.00 C415.61,183.19 415.54,180.00 415.70,178.00 C415.94,175.00 416.05,171.33 416.20,168.00 C416.42,163.00 416.51,156.00 416.80,150.00 C417.20,141.66 418.05,133.34 418.50,125.00 C418.95,116.67 419.19,106.00 419.50,100.00 C419.71,96.00 419.92,87.64 420.20,88.00 C420.43,88.30 420.73,94.67 421.00,98.00 C421.33,102.00 421.29,106.95 422.00,110.00 C422.48,112.03 423.57,116.05 423.90,116.00 C424.12,115.96 424.38,115.84 424.60,115.80 C424.93,115.74 425.99,123.91 426.60,123.50 C427.01,123.22 427.59,121.99 428.00,121.90 C428.61,121.77 429.14,123.92 429.50,125.00 C430.03,126.58 430.02,128.33 430.20,130.00 C430.47,132.51 430.46,137.00 430.60,140.50 C430.73,143.67 430.80,146.84 431.00,150.00 C431.20,153.24 431.48,156.47 431.80,159.70 C432.09,162.67 432.25,165.67 432.80,168.60 C433.17,170.58 433.41,173.38 434.20,174.50 C434.72,175.25 435.64,176.37 436.20,176.50 C437.04,176.70 437.56,173.11 438.20,171.60 C438.63,170.60 439.07,168.60 439.50,168.60 C439.93,168.60 440.44,170.58 440.80,171.60 C441.34,173.13 441.18,176.42 442.10,178.50 C442.72,179.89 443.40,181.58 444.60,182.40 C445.40,182.94 446.54,183.45 447.50,183.40 C448.34,183.36 449.17,182.40 450.00,182.40 C450.83,182.40 451.77,183.55 452.50,183.40 C453.24,183.24 453.64,181.68 454.40,181.40 C455.24,181.09 456.40,181.73 457.40,181.90 C458.40,182.07 459.51,182.01 460.40,182.40 C461.54,182.90 462.16,184.54 463.30,185.00 C464.38,185.44 465.82,185.41 467.00,185.20 C468.22,184.99 469.35,183.63 470.50,183.70 C471.51,183.76 472.43,184.99 473.50,185.20 C474.30,185.36 475.22,185.40 476.00,185.20 C476.87,184.98 477.61,183.81 478.40,183.80 C479.27,183.79 480.12,184.90 481.00,185.40 C482.31,186.15 527.34,186.09 530.00,185.60 C531.77,185.27 533.92,184.25 535.30,184.50 C536.22,184.67 537.10,185.24 538.00,185.60 C539.35,186.14 612.67,185.67 650.00,185.70" fill="none" stroke="#111" stroke-width="0.95" stroke-linejoin="round"/>
<rect x="416" y="187.2" width="16" height="14" fill="#000"/>
<g fill="#000"><circle cx="424.6" cy="191.5" r="1.22"/><circle cx="428.0" cy="194.8" r="1.22"/><circle cx="428.0" cy="197.2" r="1.22"/><circle cx="424.3" cy="188.2" r="1.22"/><circle cx="427.6" cy="190.2" r="1.22"/><circle cx="426.0" cy="193.2" r="1.22"/><circle cx="424.6" cy="191.7" r="1.22"/><circle cx="428.8" cy="193.4" r="1.22"/><circle cx="425.1" cy="192.0" r="1.22"/><circle cx="427.2" cy="192.9" r="1.22"/><circle cx="427.8" cy="189.3" r="1.22"/><circle cx="424.2" cy="199.0" r="1.22"/><circle cx="425.0" cy="197.6" r="1.22"/><circle cx="425.4" cy="194.5" r="1.22"/><circle cx="426.1" cy="199.3" r="1.22"/><circle cx="425.2" cy="193.2" r="1.22"/><circle cx="424.2" cy="199.5" r="1.22"/><circle cx="425.5" cy="196.9" r="1.22"/><circle cx="424.3" cy="189.3" r="1.22"/><circle cx="425.5" cy="188.1" r="1.22"/><circle cx="425.9" cy="193.9" r="1.22"/><circle cx="424.1" cy="190.7" r="1.22"/><circle cx="424.4" cy="190.4" r="1.22"/><circle cx="426.6" cy="198.3" r="1.22"/><circle cx="426.1" cy="190.9" r="1.22"/><circle cx="428.2" cy="197.3" r="1.22"/><circle cx="424.5" cy="193.1" r="1.22"/><circle cx="427.0" cy="189.2" r="1.22"/><circle cx="424.3" cy="195.4" r="1.22"/><circle cx="427.6" cy="194.2" r="1.22"/><circle cx="424.9" cy="191.5" r="1.22"/><circle cx="426.9" cy="191.4" r="1.22"/><circle cx="427.2" cy="198.1" r="1.22"/><circle cx="426.5" cy="189.3" r="1.22"/><circle cx="426.5" cy="197.0" r="1.22"/><circle cx="425.9" cy="199.3" r="1.22"/><circle cx="425.4" cy="199.3" r="1.22"/><circle cx="429.0" cy="191.2" r="1.22"/><circle cx="428.1" cy="190.5" r="1.22"/><circle cx="429.0" cy="198.2" r="1.22"/><circle cx="426.8" cy="198.9" r="1.22"/><circle cx="424.9" cy="195.7" r="1.22"/><circle cx="425.0" cy="197.0" r="1.22"/><circle cx="424.5" cy="189.2" r="1.22"/><circle cx="426.4" cy="196.6" r="1.22"/><circle cx="424.2" cy="200.1" r="1.22"/><circle cx="426.0" cy="192.7" r="1.22"/><circle cx="427.5" cy="196.2" r="1.22"/><circle cx="426.0" cy="194.4" r="1.22"/><circle cx="424.9" cy="200.2" r="1.22"/><circle cx="427.9" cy="193.8" r="1.22"/><circle cx="428.2" cy="197.3" r="1.22"/><circle cx="427.6" cy="198.5" r="1.22"/><circle cx="428.4" cy="197.9" r="1.22"/><circle cx="426.4" cy="192.6" r="1.22"/><circle cx="428.0" cy="198.6" r="1.22"/><circle cx="427.3" cy="189.9" r="1.22"/><circle cx="426.8" cy="192.2" r="1.22"/><circle cx="424.5" cy="197.0" r="1.22"/><circle cx="425.1" cy="192.1" r="1.22"/><circle cx="428.2" cy="191.3" r="1.22"/><circle cx="426.0" cy="193.4" r="1.22"/><circle cx="425.9" cy="198.9" r="1.22"/><circle cx="425.9" cy="200.1" r="1.22"/><circle cx="425.1" cy="188.2" r="1.22"/><circle cx="424.5" cy="195.3" r="1.22"/><circle cx="426.5" cy="191.5" r="1.22"/><circle cx="428.9" cy="200.5" r="1.22"/><circle cx="428.4" cy="198.7" r="1.22"/><circle cx="424.1" cy="198.2" r="1.22"/><circle cx="431.8" cy="198.2" r="1.22"/><circle cx="429.6" cy="191.3" r="1.22"/><circle cx="430.6" cy="196.9" r="1.22"/><circle cx="431.3" cy="195.9" r="1.22"/><circle cx="432.2" cy="192.0" r="1.22"/><circle cx="432.7" cy="189.2" r="1.22"/><circle cx="430.3" cy="199.7" r="1.22"/><circle cx="431.6" cy="199.8" r="1.22"/><circle cx="432.1" cy="193.8" r="1.22"/><circle cx="432.0" cy="189.3" r="1.22"/><circle cx="431.5" cy="191.0" r="1.22"/><circle cx="429.5" cy="194.2" r="1.22"/><circle cx="433.0" cy="198.0" r="1.22"/><circle cx="431.5" cy="200.3" r="1.22"/><circle cx="429.7" cy="193.6" r="1.22"/><circle cx="429.1" cy="193.1" r="1.22"/><circle cx="432.8" cy="198.7" r="1.22"/><circle cx="432.1" cy="190.9" r="1.22"/><circle cx="430.2" cy="192.9" r="1.22"/><circle cx="431.6" cy="192.0" r="1.22"/><circle cx="429.8" cy="188.0" r="1.22"/><circle cx="429.4" cy="193.3" r="1.22"/><circle cx="432.3" cy="200.2" r="1.22"/><circle cx="432.3" cy="195.3" r="1.22"/><circle cx="429.1" cy="191.2" r="1.22"/><circle cx="431.5" cy="194.8" r="1.22"/><circle cx="430.5" cy="193.0" r="1.22"/><circle cx="429.4" cy="198.1" r="1.22"/><circle cx="431.4" cy="195.5" r="1.22"/><circle cx="432.0" cy="199.1" r="1.22"/><circle cx="431.7" cy="199.6" r="1.22"/><circle cx="430.0" cy="192.7" r="1.22"/><circle cx="430.2" cy="195.7" r="1.22"/><circle cx="430.3" cy="199.7" r="1.22"/><circle cx="429.1" cy="194.9" r="1.22"/><circle cx="431.5" cy="196.0" r="1.22"/><circle cx="431.1" cy="199.9" r="1.22"/><circle cx="429.1" cy="199.0" r="1.22"/><circle cx="429.2" cy="188.3" r="1.22"/><circle cx="431.6" cy="190.9" r="1.22"/><circle cx="430.5" cy="196.9" r="1.22"/><circle cx="431.1" cy="192.0" r="1.22"/><circle cx="430.0" cy="192.8" r="1.22"/><circle cx="430.4" cy="190.1" r="1.22"/><circle cx="431.2" cy="199.8" r="1.22"/><circle cx="429.1" cy="194.2" r="1.22"/><circle cx="432.7" cy="198.6" r="1.22"/><circle cx="430.6" cy="199.7" r="1.22"/><circle cx="433.3" cy="189.9" r="1.22"/><circle cx="433.5" cy="196.8" r="1.22"/><circle cx="435.3" cy="198.1" r="1.22"/><circle cx="435.0" cy="198.3" r="1.22"/><circle cx="436.3" cy="199.9" r="1.22"/><circle cx="436.2" cy="187.9" r="1.22"/><circle cx="433.4" cy="197.7" r="1.22"/><circle cx="436.9" cy="198.5" r="1.22"/><circle cx="436.7" cy="196.6" r="1.22"/><circle cx="435.3" cy="191.1" r="1.22"/><circle cx="435.2" cy="198.8" r="1.22"/><circle cx="436.6" cy="196.8" r="1.22"/><circle cx="435.7" cy="197.8" r="1.22"/><circle cx="436.1" cy="189.1" r="1.22"/><circle cx="434.1" cy="193.8" r="1.22"/><circle cx="436.3" cy="189.2" r="1.22"/><circle cx="433.6" cy="197.5" r="1.22"/><circle cx="433.4" cy="188.9" r="1.22"/><circle cx="434.0" cy="199.0" r="1.22"/><circle cx="434.6" cy="188.3" r="1.22"/><circle cx="434.4" cy="197.9" r="1.22"/><circle cx="435.1" cy="189.5" r="1.22"/><circle cx="434.5" cy="191.5" r="1.22"/><circle cx="436.0" cy="192.0" r="1.22"/><circle cx="434.1" cy="196.0" r="1.22"/><circle cx="434.9" cy="199.6" r="1.22"/><circle cx="436.8" cy="195.1" r="1.22"/><circle cx="436.5" cy="191.2" r="1.22"/><circle cx="433.4" cy="197.7" r="1.22"/><circle cx="433.6" cy="200.5" r="1.22"/><circle cx="434.9" cy="198.6" r="1.22"/><circle cx="436.6" cy="189.5" r="1.22"/><circle cx="438.2" cy="191.5" r="1.22"/><circle cx="438.8" cy="199.5" r="1.22"/><circle cx="437.6" cy="196.0" r="1.22"/><circle cx="440.5" cy="200.5" r="1.22"/><circle cx="437.1" cy="198.3" r="1.22"/><circle cx="438.5" cy="190.6" r="1.22"/><circle cx="440.0" cy="193.1" r="1.22"/><circle cx="437.8" cy="197.2" r="1.22"/><circle cx="437.9" cy="193.2" r="1.22"/><circle cx="438.5" cy="188.8" r="1.22"/><circle cx="439.1" cy="193.6" r="1.22"/><circle cx="440.9" cy="192.4" r="1.22"/><circle cx="438.7" cy="199.8" r="1.22"/><circle cx="439.4" cy="193.3" r="1.22"/><circle cx="438.0" cy="194.2" r="1.22"/><circle cx="439.3" cy="188.6" r="1.22"/><circle cx="437.6" cy="197.9" r="1.22"/><circle cx="440.6" cy="197.8" r="1.22"/><circle cx="438.8" cy="194.7" r="1.22"/><circle cx="441.2" cy="196.4" r="1.22"/><circle cx="443.8" cy="199.6" r="1.22"/><circle cx="444.3" cy="188.7" r="1.22"/><circle cx="443.2" cy="190.7" r="1.22"/><circle cx="441.2" cy="188.3" r="1.22"/><circle cx="442.1" cy="190.8" r="1.22"/><circle cx="441.7" cy="198.3" r="1.22"/><circle cx="442.8" cy="192.3" r="1.22"/><circle cx="443.6" cy="195.0" r="1.22"/><circle cx="443.7" cy="196.0" r="1.22"/><circle cx="445.7" cy="190.8" r="1.22"/><circle cx="450.9" cy="193.5" r="1.22"/><circle cx="450.0" cy="190.8" r="1.22"/><circle cx="449.9" cy="197.1" r="1.22"/><circle cx="447.4" cy="195.2" r="1.22"/><circle cx="445.1" cy="188.3" r="1.22"/><circle cx="448.8" cy="197.7" r="1.22"/><circle cx="447.2" cy="197.9" r="1.22"/><circle cx="458.4" cy="197.7" r="1.22"/><circle cx="454.8" cy="187.9" r="1.22"/><circle cx="455.4" cy="197.6" r="1.22"/><circle cx="460.3" cy="197.2" r="1.22"/><circle cx="460.7" cy="194.7" r="1.22"/><circle cx="454.6" cy="192.2" r="1.22"/><circle cx="453.2" cy="197.2" r="1.22"/><circle cx="459.5" cy="197.2" r="1.22"/><circle cx="466.8" cy="189.8" r="1.22"/><circle cx="466.4" cy="194.4" r="1.22"/><circle cx="479.1" cy="197.4" r="1.22"/><circle cx="475.4" cy="191.1" r="1.22"/></g>
<g fill="#000"><circle cx="443.0" cy="190.0" r="1.22"/><circle cx="447.0" cy="195.0" r="1.22"/><circle cx="451.0" cy="189.0" r="1.22"/><circle cx="455.0" cy="193.0" r="1.22"/><circle cx="458.0" cy="199.0" r="1.22"/><circle cx="462.0" cy="191.0" r="1.22"/><circle cx="466.0" cy="196.0" r="1.22"/><circle cx="471.5" cy="192.7" r="1.22"/><circle cx="480.0" cy="192.7" r="1.22"/><circle cx="535.3" cy="196.1" r="1.22"/><circle cx="445.0" cy="199.0" r="1.22"/><circle cx="449.0" cy="200.0" r="1.22"/><circle cx="453.0" cy="188.5" r="1.22"/><circle cx="460.0" cy="195.0" r="1.22"/></g>
<path d="M412.40,222.40 C412.53,222.30 412.67,222.20 412.80,222.10 C413.00,221.95 414.31,221.23 414.90,220.70 C415.79,219.91 415.70,212.44 416.00,208.30 C416.46,202.09 416.73,194.50 417.00,187.60 C417.35,178.40 417.49,169.20 417.70,160.00 C417.93,150.00 418.08,140.00 418.30,130.00 C418.52,120.00 418.71,107.50 419.00,100.00 C419.19,95.00 419.40,89.50 419.70,85.00 C419.90,82.00 420.17,76.00 420.40,76.00 C420.63,76.00 420.91,82.00 421.10,85.00 C421.39,89.50 421.53,95.00 421.70,100.00 C421.96,107.50 422.16,116.67 422.30,125.00 C422.49,136.66 422.28,148.34 422.50,160.00 C422.66,168.27 422.40,181.32 423.20,184.80 C423.73,187.12 424.42,189.44 425.20,191.70 C426.18,194.53 427.61,197.26 428.70,200.00 C429.42,201.82 430.26,203.62 430.80,205.50 C431.57,208.18 431.52,211.72 432.10,213.80 C432.48,215.19 432.69,217.02 433.50,217.90 C434.04,218.49 434.83,219.08 435.60,219.30 C436.31,219.50 437.23,219.08 437.90,219.30 C438.90,219.63 439.30,221.50 440.30,222.00 C441.32,222.52 442.84,222.58 444.00,222.30 C444.88,222.09 445.73,221.53 446.50,221.00 C447.31,220.44 448.00,219.02 448.70,219.00 C449.50,218.98 450.17,221.42 451.00,221.50 C451.87,221.59 452.87,219.28 453.80,219.30 C454.71,219.32 455.69,221.38 456.50,221.50 C457.72,221.68 458.97,216.36 460.00,216.50 C460.95,216.63 461.46,220.99 462.50,221.60 C463.19,222.00 464.16,222.14 465.00,222.30 C466.27,222.54 468.33,222.37 470.00,222.40 C472.50,222.45 590.00,222.40 650.00,222.40 L650.00,222.40 L412.40,222.40 Z" fill="rgb(234,76,55)" fill-opacity="0.72" stroke="none"/>
<path d="M412.40,222.40 C412.53,222.30 412.67,222.20 412.80,222.10 C413.00,221.95 414.31,221.23 414.90,220.70 C415.79,219.91 415.70,212.44 416.00,208.30 C416.46,202.09 416.73,194.50 417.00,187.60 C417.35,178.40 417.49,169.20 417.70,160.00 C417.93,150.00 418.08,140.00 418.30,130.00 C418.52,120.00 418.71,107.50 419.00,100.00 C419.19,95.00 419.40,89.50 419.70,85.00 C419.90,82.00 420.17,76.00 420.40,76.00 C420.63,76.00 420.91,82.00 421.10,85.00 C421.39,89.50 421.53,95.00 421.70,100.00 C421.96,107.50 422.16,116.67 422.30,125.00 C422.49,136.66 422.28,148.34 422.50,160.00 C422.66,168.27 422.40,181.32 423.20,184.80 C423.73,187.12 424.42,189.44 425.20,191.70 C426.18,194.53 427.61,197.26 428.70,200.00 C429.42,201.82 430.26,203.62 430.80,205.50 C431.57,208.18 431.52,211.72 432.10,213.80 C432.48,215.19 432.69,217.02 433.50,217.90 C434.04,218.49 434.83,219.08 435.60,219.30 C436.31,219.50 437.23,219.08 437.90,219.30 C438.90,219.63 439.30,221.50 440.30,222.00 C441.32,222.52 442.84,222.58 444.00,222.30 C444.88,222.09 445.73,221.53 446.50,221.00 C447.31,220.44 448.00,219.02 448.70,219.00 C449.50,218.98 450.17,221.42 451.00,221.50 C451.87,221.59 452.87,219.28 453.80,219.30 C454.71,219.32 455.69,221.38 456.50,221.50 C457.72,221.68 458.97,216.36 460.00,216.50 C460.95,216.63 461.46,220.99 462.50,221.60 C463.19,222.00 464.16,222.14 465.00,222.30 C466.27,222.54 468.33,222.37 470.00,222.40 C472.50,222.45 590.00,222.40 650.00,222.40" fill="none" stroke="#111" stroke-width="0.95" stroke-linejoin="round"/>
<g fill="#000"><circle cx="420.8" cy="225.4" r="1.22"/><circle cx="418.3" cy="227.8" r="1.22"/><circle cx="418.7" cy="225.5" r="1.22"/><circle cx="420.3" cy="225.4" r="1.22"/><circle cx="420.6" cy="228.0" r="1.22"/><circle cx="417.5" cy="226.8" r="1.22"/><circle cx="417.7" cy="232.9" r="1.22"/><circle cx="418.8" cy="232.2" r="1.22"/><circle cx="420.1" cy="229.8" r="1.22"/><circle cx="420.7" cy="232.7" r="1.22"/><circle cx="418.9" cy="227.0" r="1.22"/><circle cx="420.5" cy="226.5" r="1.22"/><circle cx="420.7" cy="225.6" r="1.22"/><circle cx="419.8" cy="232.3" r="1.22"/><circle cx="420.3" cy="231.8" r="1.22"/><circle cx="419.7" cy="233.5" r="1.22"/><circle cx="417.8" cy="225.7" r="1.22"/><circle cx="418.1" cy="227.2" r="1.22"/><circle cx="419.1" cy="235.8" r="1.22"/><circle cx="417.4" cy="236.7" r="1.22"/><circle cx="417.5" cy="235.4" r="1.22"/><circle cx="418.9" cy="229.7" r="1.22"/><circle cx="420.6" cy="232.5" r="1.22"/><circle cx="420.8" cy="236.5" r="1.22"/><circle cx="420.1" cy="233.2" r="1.22"/><circle cx="417.4" cy="234.8" r="1.22"/><circle cx="418.3" cy="230.7" r="1.22"/><circle cx="420.0" cy="237.6" r="1.22"/><circle cx="418.5" cy="231.5" r="1.22"/><circle cx="420.2" cy="232.5" r="1.22"/><circle cx="417.1" cy="226.2" r="1.22"/><circle cx="420.4" cy="230.8" r="1.22"/><circle cx="420.9" cy="237.9" r="1.22"/><circle cx="417.3" cy="234.9" r="1.22"/><circle cx="419.4" cy="237.5" r="1.22"/><circle cx="418.8" cy="236.1" r="1.22"/><circle cx="418.1" cy="237.5" r="1.22"/><circle cx="418.1" cy="227.0" r="1.22"/><circle cx="421.0" cy="228.0" r="1.22"/><circle cx="417.6" cy="234.0" r="1.22"/><circle cx="419.3" cy="230.7" r="1.22"/><circle cx="420.8" cy="230.8" r="1.22"/><circle cx="420.4" cy="225.7" r="1.22"/><circle cx="419.8" cy="231.7" r="1.22"/><circle cx="417.6" cy="235.9" r="1.22"/><circle cx="417.5" cy="230.8" r="1.22"/><circle cx="418.1" cy="231.3" r="1.22"/><circle cx="419.6" cy="237.1" r="1.22"/><circle cx="419.0" cy="238.4" r="1.22"/><circle cx="417.9" cy="229.6" r="1.22"/><circle cx="421.8" cy="230.8" r="1.22"/><circle cx="421.1" cy="231.6" r="1.22"/><circle cx="421.8" cy="227.9" r="1.22"/><circle cx="422.4" cy="235.5" r="1.22"/><circle cx="421.4" cy="236.2" r="1.22"/><circle cx="421.3" cy="226.6" r="1.22"/><circle cx="422.3" cy="237.5" r="1.22"/><circle cx="422.6" cy="233.0" r="1.22"/><circle cx="422.2" cy="232.8" r="1.22"/><circle cx="421.3" cy="230.8" r="1.22"/><circle cx="422.1" cy="230.0" r="1.22"/><circle cx="422.0" cy="230.1" r="1.22"/><circle cx="423.4" cy="225.4" r="1.22"/><circle cx="422.8" cy="231.2" r="1.22"/><circle cx="422.5" cy="228.4" r="1.22"/><circle cx="421.0" cy="237.7" r="1.22"/><circle cx="421.7" cy="229.5" r="1.22"/><circle cx="421.1" cy="236.3" r="1.22"/><circle cx="421.6" cy="234.5" r="1.22"/><circle cx="423.0" cy="230.3" r="1.22"/><circle cx="421.6" cy="236.7" r="1.22"/><circle cx="423.1" cy="233.1" r="1.22"/><circle cx="422.1" cy="226.0" r="1.22"/><circle cx="422.8" cy="236.0" r="1.22"/><circle cx="422.7" cy="237.1" r="1.22"/><circle cx="423.3" cy="226.5" r="1.22"/><circle cx="425.0" cy="228.5" r="1.22"/><circle cx="423.8" cy="229.7" r="1.22"/><circle cx="424.9" cy="231.0" r="1.22"/><circle cx="425.5" cy="234.8" r="1.22"/><circle cx="425.9" cy="233.3" r="1.22"/><circle cx="423.8" cy="233.5" r="1.22"/><circle cx="425.1" cy="225.6" r="1.22"/><circle cx="423.8" cy="227.5" r="1.22"/><circle cx="424.3" cy="237.2" r="1.22"/><circle cx="424.8" cy="233.0" r="1.22"/><circle cx="424.2" cy="227.3" r="1.22"/><circle cx="424.2" cy="237.3" r="1.22"/><circle cx="423.9" cy="226.9" r="1.22"/><circle cx="424.0" cy="230.4" r="1.22"/><circle cx="429.0" cy="231.5" r="1.22"/><circle cx="429.6" cy="237.5" r="1.22"/><circle cx="428.1" cy="230.3" r="1.22"/><circle cx="427.1" cy="237.0" r="1.22"/><circle cx="427.4" cy="231.3" r="1.22"/><circle cx="428.1" cy="227.5" r="1.22"/><circle cx="427.3" cy="232.4" r="1.22"/><circle cx="426.0" cy="231.0" r="1.22"/><circle cx="430.3" cy="228.0" r="1.22"/><circle cx="431.6" cy="229.1" r="1.22"/><circle cx="431.4" cy="235.7" r="1.22"/><circle cx="430.6" cy="227.4" r="1.22"/></g>
<g fill="#000"><circle cx="437.9" cy="229.1" r="1.22"/><circle cx="448.7" cy="234.5" r="1.22"/><circle cx="453.8" cy="231.9" r="1.22"/><circle cx="459.4" cy="227.9" r="1.22"/><circle cx="460.6" cy="237.3" r="1.22"/><circle cx="426.5" cy="236.9" r="1.22"/><circle cx="429.0" cy="230.0" r="1.22"/><circle cx="431.0" cy="233.0" r="1.22"/><circle cx="433.0" cy="228.0" r="1.22"/></g>
<text x="396.2" y="149.9" font-size="7.15" text-anchor="end" fill="#141414" stroke="#141414" stroke-width="0.22">Human Proteome</text>
<text x="396.2" y="186.7" font-size="7.15" text-anchor="end" fill="#141414" stroke="#141414" stroke-width="0.22">In- solution_Liver</text>
<text x="396.2" y="223.4" font-size="7.15" text-anchor="end" fill="#141414" stroke="#141414" stroke-width="0.22">In- gel_Liver</text>
<text x="416.1" y="253.2" font-size="7.20" text-anchor="middle" fill="#3a3a3a" stroke="#3a3a3a" stroke-width="0.22">0</text>
<text x="474.2" y="253.2" font-size="7.20" text-anchor="middle" fill="#3a3a3a" stroke="#3a3a3a" stroke-width="0.22">250</text>
<text x="532.3" y="253.2" font-size="7.20" text-anchor="middle" fill="#3a3a3a" stroke="#3a3a3a" stroke-width="0.22">500</text>
<text x="590.4" y="253.2" font-size="7.20" text-anchor="middle" fill="#3a3a3a" stroke="#3a3a3a" stroke-width="0.22">750</text>
<text x="648.5" y="253.2" font-size="7.20" text-anchor="middle" fill="#3a3a3a" stroke="#3a3a3a" stroke-width="0.22">1000</text>
<text x="381.3" y="23.6" font-size="12.20" text-anchor="start" fill="#1a1a1a" >(B<tspan dx="1.1">)</tspan></text>
<text x="412.2" y="22.8" font-size="12.30" text-anchor="start" fill="#1a1a1a" >Molecular Weight of Liver Proteome</text>
<line x1="141.4" y1="278.4" x2="141.4" y2="484.0" stroke="#ebebeb" stroke-width="0.8"/>
<line x1="226.6" y1="278.4" x2="226.6" y2="484.0" stroke="#ebebeb" stroke-width="0.8"/>
<line x1="73.8" y1="388.90" x2="300.0" y2="388.90" stroke="#ebebeb" stroke-width="0.8"/>
<line x1="73.8" y1="425.60" x2="300.0" y2="425.60" stroke="#ebebeb" stroke-width="0.8"/>
<line x1="73.8" y1="462.50" x2="300.0" y2="462.50" stroke="#ebebeb" stroke-width="0.8"/>
<path d="M85.50,388.90 C90.33,388.73 97.49,388.79 100.00,388.40 C101.67,388.14 103.35,387.80 105.00,387.40 C106.34,387.08 107.75,386.85 109.00,386.30 C110.06,385.83 111.10,385.22 112.00,384.50 C113.18,383.55 114.09,382.23 115.00,381.00 C115.93,379.74 116.78,378.39 117.50,377.00 C118.32,375.41 118.88,373.68 119.50,372.00 C120.23,370.02 120.85,368.01 121.50,366.00 C122.25,363.67 123.04,361.35 123.70,359.00 C124.62,355.71 125.29,352.35 126.00,349.00 C126.89,344.79 127.63,340.54 128.40,336.30 C129.02,332.87 129.54,329.42 130.20,326.00 C130.76,323.09 131.40,320.20 132.00,317.30 C132.60,314.37 133.18,311.43 133.80,308.50 C134.35,305.93 134.74,303.24 135.50,300.80 C136.01,299.17 136.57,297.22 137.30,296.00 C137.78,295.19 138.28,294.30 139.00,293.70 C139.57,293.22 140.28,292.75 141.00,292.60 C141.51,292.49 142.08,292.51 142.60,292.60 C143.26,292.72 143.86,293.15 144.50,293.40 C145.46,293.77 146.48,294.15 147.50,294.40 C148.90,294.75 150.52,295.34 151.80,295.00 C153.17,294.64 154.27,293.14 155.40,292.10 C157.09,290.54 158.97,287.64 160.10,286.80 C160.85,286.24 161.68,285.37 162.50,285.30 C163.44,285.22 164.59,286.14 165.40,286.80 C166.62,287.78 167.47,290.70 168.40,292.70 C169.75,295.60 170.84,298.62 172.00,301.60 C173.21,304.72 174.07,307.99 175.50,311.00 C176.53,313.16 177.59,315.93 179.00,317.30 C179.94,318.21 181.17,319.65 182.30,319.60 C183.18,319.56 184.27,318.68 185.00,318.00 C186.10,316.97 186.44,314.62 187.30,313.00 C188.12,311.46 189.09,309.99 190.00,308.50 C190.82,307.16 191.42,305.60 192.50,304.50 C193.27,303.72 194.32,302.57 195.20,302.50 C196.36,302.41 197.59,304.25 198.60,305.30 C200.01,306.77 200.82,308.79 202.10,310.40 C203.53,312.21 205.18,314.58 206.80,315.50 C207.88,316.11 209.17,316.58 210.40,316.80 C212.11,317.11 213.99,316.20 215.70,316.50 C217.14,316.75 218.69,317.29 219.90,318.10 C221.35,319.07 222.39,320.73 223.40,322.20 C224.64,324.01 225.52,326.08 226.40,328.10 C227.57,330.78 228.37,333.62 229.30,336.40 C230.35,339.55 231.34,342.72 232.30,345.90 C233.09,348.53 233.71,351.21 234.60,353.80 C235.26,355.72 236.02,357.62 236.80,359.50 C237.71,361.69 238.54,363.94 239.70,366.00 C240.79,367.93 241.98,369.91 243.50,371.50 C245.14,373.22 247.19,374.72 249.30,375.80 C251.42,376.89 253.98,377.07 256.20,378.00 C258.13,378.81 260.02,379.79 261.80,380.90 C263.74,382.10 265.38,383.78 267.30,385.00 C269.06,386.12 270.84,387.37 272.80,388.00 C274.54,388.56 276.46,388.60 278.30,388.80 C281.06,389.11 289.90,388.87 295.70,388.90 L295.70,388.90 L85.50,388.90 Z" fill="rgb(31,172,149)" fill-opacity="0.8" stroke="none"/>
<path d="M85.50,388.90 C90.33,388.73 97.49,388.79 100.00,388.40 C101.67,388.14 103.35,387.80 105.00,387.40 C106.34,387.08 107.75,386.85 109.00,386.30 C110.06,385.83 111.10,385.22 112.00,384.50 C113.18,383.55 114.09,382.23 115.00,381.00 C115.93,379.74 116.78,378.39 117.50,377.00 C118.32,375.41 118.88,373.68 119.50,372.00 C120.23,370.02 120.85,368.01 121.50,366.00 C122.25,363.67 123.04,361.35 123.70,359.00 C124.62,355.71 125.29,352.35 126.00,349.00 C126.89,344.79 127.63,340.54 128.40,336.30 C129.02,332.87 129.54,329.42 130.20,326.00 C130.76,323.09 131.40,320.20 132.00,317.30 C132.60,314.37 133.18,311.43 133.80,308.50 C134.35,305.93 134.74,303.24 135.50,300.80 C136.01,299.17 136.57,297.22 137.30,296.00 C137.78,295.19 138.28,294.30 139.00,293.70 C139.57,293.22 140.28,292.75 141.00,292.60 C141.51,292.49 142.08,292.51 142.60,292.60 C143.26,292.72 143.86,293.15 144.50,293.40 C145.46,293.77 146.48,294.15 147.50,294.40 C148.90,294.75 150.52,295.34 151.80,295.00 C153.17,294.64 154.27,293.14 155.40,292.10 C157.09,290.54 158.97,287.64 160.10,286.80 C160.85,286.24 161.68,285.37 162.50,285.30 C163.44,285.22 164.59,286.14 165.40,286.80 C166.62,287.78 167.47,290.70 168.40,292.70 C169.75,295.60 170.84,298.62 172.00,301.60 C173.21,304.72 174.07,307.99 175.50,311.00 C176.53,313.16 177.59,315.93 179.00,317.30 C179.94,318.21 181.17,319.65 182.30,319.60 C183.18,319.56 184.27,318.68 185.00,318.00 C186.10,316.97 186.44,314.62 187.30,313.00 C188.12,311.46 189.09,309.99 190.00,308.50 C190.82,307.16 191.42,305.60 192.50,304.50 C193.27,303.72 194.32,302.57 195.20,302.50 C196.36,302.41 197.59,304.25 198.60,305.30 C200.01,306.77 200.82,308.79 202.10,310.40 C203.53,312.21 205.18,314.58 206.80,315.50 C207.88,316.11 209.17,316.58 210.40,316.80 C212.11,317.11 213.99,316.20 215.70,316.50 C217.14,316.75 218.69,317.29 219.90,318.10 C221.35,319.07 222.39,320.73 223.40,322.20 C224.64,324.01 225.52,326.08 226.40,328.10 C227.57,330.78 228.37,333.62 229.30,336.40 C230.35,339.55 231.34,342.72 232.30,345.90 C233.09,348.53 233.71,351.21 234.60,353.80 C235.26,355.72 236.02,357.62 236.80,359.50 C237.71,361.69 238.54,363.94 239.70,366.00 C240.79,367.93 241.98,369.91 243.50,371.50 C245.14,373.22 247.19,374.72 249.30,375.80 C251.42,376.89 253.98,377.07 256.20,378.00 C258.13,378.81 260.02,379.79 261.80,380.90 C263.74,382.10 265.38,383.78 267.30,385.00 C269.06,386.12 270.84,387.37 272.80,388.00 C274.54,388.56 276.46,388.60 278.30,388.80 C281.06,389.11 289.90,388.87 295.70,388.90" fill="none" stroke="#111" stroke-width="0.95" stroke-linejoin="round"/>
<rect x="109" y="390.6" width="163" height="15.6" fill="#000"/>
<g fill="#000"><circle cx="105.7" cy="397.3" r="1.22"/><circle cx="105.6" cy="391.8" r="1.22"/><circle cx="106.0" cy="403.3" r="1.22"/><circle cx="106.6" cy="394.0" r="1.22"/><circle cx="107.3" cy="395.2" r="1.22"/><circle cx="106.5" cy="405.3" r="1.22"/><circle cx="106.7" cy="397.4" r="1.22"/><circle cx="107.9" cy="393.5" r="1.22"/><circle cx="107.3" cy="398.5" r="1.22"/><circle cx="106.2" cy="394.6" r="1.22"/><circle cx="107.0" cy="399.1" r="1.22"/><circle cx="106.9" cy="403.1" r="1.22"/><circle cx="106.0" cy="393.2" r="1.22"/><circle cx="106.3" cy="403.4" r="1.22"/><circle cx="109.4" cy="401.0" r="1.22"/><circle cx="109.6" cy="393.4" r="1.22"/><circle cx="109.3" cy="393.1" r="1.22"/><circle cx="108.3" cy="393.0" r="1.22"/><circle cx="108.8" cy="399.1" r="1.22"/><circle cx="108.8" cy="392.4" r="1.22"/><circle cx="109.7" cy="402.2" r="1.22"/><circle cx="109.1" cy="399.4" r="1.22"/><circle cx="108.2" cy="392.6" r="1.22"/><circle cx="109.8" cy="397.0" r="1.22"/><circle cx="109.1" cy="401.3" r="1.22"/><circle cx="109.6" cy="403.8" r="1.22"/><circle cx="108.6" cy="402.1" r="1.22"/><circle cx="109.4" cy="396.1" r="1.22"/><circle cx="108.3" cy="397.8" r="1.22"/><circle cx="109.6" cy="395.8" r="1.22"/><circle cx="109.0" cy="403.8" r="1.22"/></g>
<g fill="#000"><circle cx="271.7" cy="397.0" r="1.22"/><circle cx="272.7" cy="399.1" r="1.22"/><circle cx="271.7" cy="403.9" r="1.22"/><circle cx="272.6" cy="392.4" r="1.22"/><circle cx="271.1" cy="398.8" r="1.22"/><circle cx="272.1" cy="397.1" r="1.22"/><circle cx="272.1" cy="404.4" r="1.22"/><circle cx="271.2" cy="400.8" r="1.22"/><circle cx="272.3" cy="401.1" r="1.22"/><circle cx="272.9" cy="391.3" r="1.22"/><circle cx="271.5" cy="393.4" r="1.22"/><circle cx="272.1" cy="393.4" r="1.22"/><circle cx="272.5" cy="398.0" r="1.22"/><circle cx="272.6" cy="395.5" r="1.22"/><circle cx="272.5" cy="402.6" r="1.22"/><circle cx="271.7" cy="401.0" r="1.22"/><circle cx="273.7" cy="402.7" r="1.22"/><circle cx="273.0" cy="401.4" r="1.22"/><circle cx="273.2" cy="401.4" r="1.22"/><circle cx="274.2" cy="405.4" r="1.22"/><circle cx="274.0" cy="392.9" r="1.22"/><circle cx="273.1" cy="395.8" r="1.22"/><circle cx="273.4" cy="392.3" r="1.22"/><circle cx="273.8" cy="395.6" r="1.22"/><circle cx="275.4" cy="405.2" r="1.22"/><circle cx="275.7" cy="393.0" r="1.22"/><circle cx="275.0" cy="397.2" r="1.22"/></g>
<g fill="#000"><circle cx="100.2" cy="396.0" r="1.22"/><circle cx="101.5" cy="394.0" r="1.22"/><circle cx="103.0" cy="402.0" r="1.22"/><circle cx="104.0" cy="398.0" r="1.22"/><circle cx="278.0" cy="393.0" r="1.22"/><circle cx="280.0" cy="397.0" r="1.22"/><circle cx="281.8" cy="395.0" r="1.22"/><circle cx="279.0" cy="402.0" r="1.22"/><circle cx="277.0" cy="404.0" r="1.22"/><circle cx="282.0" cy="391.0" r="1.22"/></g>
<path d="M85.50,425.60 C93.67,425.60 107.00,425.64 110.00,425.60 C112.00,425.57 114.00,425.60 116.00,425.50 C117.33,425.43 118.72,425.52 120.00,425.20 C121.37,424.85 122.75,424.21 123.90,423.40 C125.30,422.41 126.48,420.94 127.40,419.50 C128.78,417.34 129.03,414.22 129.90,411.60 C130.67,409.29 131.68,407.05 132.30,404.70 C133.14,401.49 133.35,398.11 133.80,394.80 C134.34,390.88 134.78,386.94 135.20,383.00 C135.66,378.67 135.98,374.33 136.40,370.00 C136.88,365.00 137.37,360.00 137.90,355.00 C138.43,350.00 139.05,345.00 139.60,340.00 C140.15,335.00 140.64,330.00 141.20,325.00 C141.68,320.66 142.22,316.34 142.70,312.00 C143.15,308.00 143.44,303.76 144.00,300.00 C144.37,297.49 144.86,295.00 145.30,292.50 C145.88,289.23 146.14,284.60 147.10,282.70 C147.74,281.43 148.40,279.40 149.50,279.10 C150.44,278.84 151.88,279.81 153.00,280.30 C154.68,281.04 156.09,282.50 157.80,283.20 C159.28,283.80 160.92,284.34 162.50,284.40 C164.05,284.46 165.64,283.57 167.20,283.60 C168.60,283.63 170.27,283.72 171.40,284.40 C172.75,285.21 173.50,287.11 174.30,288.60 C175.47,290.78 176.01,293.30 176.70,295.70 C177.70,299.17 178.22,302.77 179.00,306.30 C179.79,309.87 180.57,313.44 181.40,317.00 C182.02,319.67 182.73,323.77 183.30,325.00 C183.68,325.82 184.15,327.31 184.60,327.40 C185.15,327.51 185.78,325.49 186.30,324.50 C187.08,323.02 187.62,321.09 188.50,319.50 C189.21,318.22 189.85,316.78 190.90,315.80 C191.72,315.05 192.91,313.97 193.80,314.00 C194.91,314.03 195.98,315.88 196.80,317.00 C198.02,318.68 198.66,321.63 199.40,324.00 C200.12,326.30 200.67,328.65 201.20,331.00 C201.79,333.65 202.23,336.33 202.70,339.00 C203.35,342.66 203.75,346.36 204.50,350.00 C205.15,353.19 206.08,356.32 206.80,359.50 C207.88,364.26 209.03,369.95 210.00,375.20 C210.88,379.92 211.50,384.68 212.40,389.40 C213.11,393.11 213.74,396.85 214.70,400.50 C215.40,403.16 216.19,405.80 217.10,408.40 C218.02,411.04 218.84,413.78 220.20,416.20 C221.31,418.19 222.45,420.46 224.20,421.80 C225.72,422.96 227.80,423.58 229.70,424.10 C231.72,424.65 233.98,425.13 236.00,424.90 C237.35,424.75 238.70,424.27 240.00,423.80 C240.95,423.46 241.86,422.64 242.80,422.60 C243.86,422.55 244.91,423.49 246.00,423.80 C247.63,424.27 249.53,424.37 251.30,424.60 C253.92,424.94 256.56,425.23 259.20,425.40 C262.79,425.64 266.40,425.55 270.00,425.60 C275.40,425.67 287.13,425.60 295.70,425.60 L295.70,425.60 L85.50,425.60 Z" fill="rgb(78,188,212)" fill-opacity="0.8" stroke="none"/>
<path d="M85.50,425.60 C93.67,425.60 107.00,425.64 110.00,425.60 C112.00,425.57 114.00,425.60 116.00,425.50 C117.33,425.43 118.72,425.52 120.00,425.20 C121.37,424.85 122.75,424.21 123.90,423.40 C125.30,422.41 126.48,420.94 127.40,419.50 C128.78,417.34 129.03,414.22 129.90,411.60 C130.67,409.29 131.68,407.05 132.30,404.70 C133.14,401.49 133.35,398.11 133.80,394.80 C134.34,390.88 134.78,386.94 135.20,383.00 C135.66,378.67 135.98,374.33 136.40,370.00 C136.88,365.00 137.37,360.00 137.90,355.00 C138.43,350.00 139.05,345.00 139.60,340.00 C140.15,335.00 140.64,330.00 141.20,325.00 C141.68,320.66 142.22,316.34 142.70,312.00 C143.15,308.00 143.44,303.76 144.00,300.00 C144.37,297.49 144.86,295.00 145.30,292.50 C145.88,289.23 146.14,284.60 147.10,282.70 C147.74,281.43 148.40,279.40 149.50,279.10 C150.44,278.84 151.88,279.81 153.00,280.30 C154.68,281.04 156.09,282.50 157.80,283.20 C159.28,283.80 160.92,284.34 162.50,284.40 C164.05,284.46 165.64,283.57 167.20,283.60 C168.60,283.63 170.27,283.72 171.40,284.40 C172.75,285.21 173.50,287.11 174.30,288.60 C175.47,290.78 176.01,293.30 176.70,295.70 C177.70,299.17 178.22,302.77 179.00,306.30 C179.79,309.87 180.57,313.44 181.40,317.00 C182.02,319.67 182.73,323.77 183.30,325.00 C183.68,325.82 184.15,327.31 184.60,327.40 C185.15,327.51 185.78,325.49 186.30,324.50 C187.08,323.02 187.62,321.09 188.50,319.50 C189.21,318.22 189.85,316.78 190.90,315.80 C191.72,315.05 192.91,313.97 193.80,314.00 C194.91,314.03 195.98,315.88 196.80,317.00 C198.02,318.68 198.66,321.63 199.40,324.00 C200.12,326.30 200.67,328.65 201.20,331.00 C201.79,333.65 202.23,336.33 202.70,339.00 C203.35,342.66 203.75,346.36 204.50,350.00 C205.15,353.19 206.08,356.32 206.80,359.50 C207.88,364.26 209.03,369.95 210.00,375.20 C210.88,379.92 211.50,384.68 212.40,389.40 C213.11,393.11 213.74,396.85 214.70,400.50 C215.40,403.16 216.19,405.80 217.10,408.40 C218.02,411.04 218.84,413.78 220.20,416.20 C221.31,418.19 222.45,420.46 224.20,421.80 C225.72,422.96 227.80,423.58 229.70,424.10 C231.72,424.65 233.98,425.13 236.00,424.90 C237.35,424.75 238.70,424.27 240.00,423.80 C240.95,423.46 241.86,422.64 242.80,422.60 C243.86,422.55 244.91,423.49 246.00,423.80 C247.63,424.27 249.53,424.37 251.30,424.60 C253.92,424.94 256.56,425.23 259.20,425.40 C262.79,425.64 266.40,425.55 270.00,425.60 C275.40,425.67 287.13,425.60 295.70,425.60" fill="none" stroke="#111" stroke-width="0.95" stroke-linejoin="round"/>
<g fill="#000"><circle cx="135.0" cy="441.4" r="1.22"/><circle cx="133.4" cy="428.3" r="1.22"/><circle cx="133.5" cy="435.4" r="1.22"/><circle cx="134.1" cy="432.2" r="1.22"/><circle cx="134.5" cy="438.0" r="1.22"/><circle cx="133.9" cy="432.0" r="1.22"/><circle cx="134.2" cy="440.1" r="1.22"/><circle cx="134.8" cy="439.4" r="1.22"/><circle cx="134.0" cy="431.8" r="1.22"/><circle cx="133.2" cy="432.9" r="1.22"/><circle cx="162.2" cy="429.6" r="1.22"/><circle cx="200.8" cy="440.7" r="1.22"/><circle cx="160.7" cy="430.4" r="1.22"/><circle cx="210.3" cy="439.6" r="1.22"/><circle cx="139.9" cy="438.3" r="1.22"/><circle cx="211.7" cy="429.4" r="1.22"/><circle cx="164.1" cy="435.5" r="1.22"/><circle cx="209.6" cy="428.3" r="1.22"/><circle cx="208.8" cy="435.9" r="1.22"/><circle cx="163.1" cy="441.1" r="1.22"/><circle cx="208.9" cy="431.6" r="1.22"/><circle cx="199.0" cy="433.8" r="1.22"/><circle cx="208.6" cy="433.1" r="1.22"/><circle cx="180.4" cy="437.9" r="1.22"/><circle cx="185.9" cy="440.9" r="1.22"/><circle cx="140.6" cy="432.9" r="1.22"/><circle cx="146.2" cy="442.0" r="1.22"/><circle cx="197.4" cy="439.1" r="1.22"/><circle cx="210.6" cy="435.5" r="1.22"/><circle cx="156.4" cy="441.8" r="1.22"/><circle cx="192.0" cy="439.8" r="1.22"/><circle cx="166.9" cy="439.9" r="1.22"/><circle cx="150.5" cy="428.3" r="1.22"/><circle cx="176.9" cy="430.0" r="1.22"/><circle cx="206.9" cy="430.6" r="1.22"/><circle cx="167.1" cy="434.0" r="1.22"/><circle cx="135.2" cy="438.0" r="1.22"/><circle cx="145.3" cy="439.3" r="1.22"/><circle cx="202.2" cy="430.4" r="1.22"/><circle cx="135.4" cy="436.4" r="1.22"/><circle cx="163.4" cy="434.0" r="1.22"/><circle cx="153.5" cy="441.8" r="1.22"/><circle cx="151.3" cy="437.7" r="1.22"/><circle cx="143.4" cy="434.1" r="1.22"/><circle cx="211.9" cy="432.4" r="1.22"/><circle cx="172.1" cy="433.6" r="1.22"/><circle cx="189.6" cy="439.2" r="1.22"/><circle cx="149.4" cy="436.8" r="1.22"/><circle cx="170.3" cy="429.5" r="1.22"/><circle cx="193.2" cy="433.2" r="1.22"/><circle cx="145.0" cy="438.6" r="1.22"/><circle cx="171.9" cy="437.6" r="1.22"/><circle cx="182.5" cy="430.6" r="1.22"/><circle cx="171.2" cy="440.6" r="1.22"/><circle cx="212.6" cy="432.6" r="1.22"/><circle cx="152.4" cy="438.3" r="1.22"/><circle cx="154.3" cy="442.0" r="1.22"/><circle cx="165.5" cy="434.1" r="1.22"/><circle cx="185.9" cy="430.8" r="1.22"/><circle cx="162.0" cy="428.9" r="1.22"/><circle cx="158.9" cy="438.4" r="1.22"/><circle cx="184.2" cy="437.4" r="1.22"/><circle cx="135.1" cy="428.5" r="1.22"/><circle cx="168.7" cy="435.4" r="1.22"/><circle cx="184.3" cy="440.0" r="1.22"/><circle cx="167.3" cy="433.0" r="1.22"/><circle cx="183.4" cy="431.7" r="1.22"/><circle cx="195.8" cy="431.5" r="1.22"/><circle cx="160.0" cy="435.0" r="1.22"/><circle cx="137.8" cy="436.5" r="1.22"/><circle cx="198.1" cy="438.9" r="1.22"/><circle cx="165.5" cy="433.9" r="1.22"/><circle cx="169.2" cy="440.9" r="1.22"/><circle cx="206.6" cy="437.8" r="1.22"/><circle cx="146.0" cy="439.6" r="1.22"/><circle cx="187.5" cy="432.4" r="1.22"/><circle cx="155.8" cy="435.5" r="1.22"/><circle cx="136.5" cy="432.9" r="1.22"/><circle cx="140.3" cy="440.7" r="1.22"/><circle cx="198.6" cy="433.8" r="1.22"/><circle cx="143.7" cy="439.3" r="1.22"/><circle cx="196.6" cy="429.7" r="1.22"/><circle cx="136.0" cy="439.8" r="1.22"/><circle cx="199.7" cy="431.3" r="1.22"/><circle cx="201.8" cy="432.5" r="1.22"/><circle cx="135.1" cy="433.8" r="1.22"/><circle cx="195.1" cy="436.1" r="1.22"/><circle cx="212.0" cy="441.0" r="1.22"/><circle cx="210.1" cy="438.5" r="1.22"/><circle cx="152.6" cy="432.8" r="1.22"/><circle cx="212.1" cy="434.1" r="1.22"/><circle cx="145.0" cy="434.9" r="1.22"/><circle cx="189.7" cy="438.8" r="1.22"/><circle cx="161.3" cy="438.4" r="1.22"/><circle cx="189.8" cy="432.3" r="1.22"/><circle cx="201.2" cy="436.0" r="1.22"/><circle cx="166.8" cy="429.1" r="1.22"/><circle cx="142.6" cy="429.7" r="1.22"/><circle cx="138.8" cy="438.3" r="1.22"/><circle cx="183.0" cy="438.1" r="1.22"/><circle cx="199.4" cy="431.2" r="1.22"/><circle cx="179.0" cy="431.8" r="1.22"/><circle cx="146.6" cy="436.9" r="1.22"/><circle cx="207.7" cy="431.7" r="1.22"/><circle cx="174.7" cy="432.2" r="1.22"/><circle cx="177.1" cy="440.8" r="1.22"/><circle cx="180.0" cy="436.2" r="1.22"/><circle cx="196.3" cy="428.0" r="1.22"/><circle cx="211.5" cy="429.8" r="1.22"/><circle cx="143.7" cy="437.2" r="1.22"/><circle cx="145.2" cy="434.9" r="1.22"/><circle cx="135.5" cy="433.3" r="1.22"/><circle cx="151.0" cy="431.6" r="1.22"/><circle cx="154.0" cy="433.8" r="1.22"/><circle cx="163.1" cy="428.2" r="1.22"/><circle cx="200.3" cy="434.9" r="1.22"/><circle cx="135.2" cy="440.6" r="1.22"/><circle cx="170.7" cy="439.5" r="1.22"/><circle cx="204.5" cy="435.0" r="1.22"/><circle cx="178.8" cy="432.5" r="1.22"/><circle cx="183.2" cy="436.8" r="1.22"/><circle cx="183.4" cy="428.9" r="1.22"/><circle cx="136.3" cy="440.1" r="1.22"/><circle cx="205.6" cy="438.8" r="1.22"/><circle cx="148.4" cy="430.8" r="1.22"/><circle cx="202.1" cy="439.7" r="1.22"/><circle cx="164.8" cy="431.6" r="1.22"/><circle cx="179.8" cy="431.3" r="1.22"/><circle cx="164.8" cy="439.2" r="1.22"/><circle cx="149.4" cy="431.9" r="1.22"/><circle cx="184.9" cy="435.3" r="1.22"/><circle cx="201.6" cy="430.9" r="1.22"/><circle cx="176.7" cy="431.4" r="1.22"/><circle cx="146.5" cy="432.9" r="1.22"/><circle cx="204.1" cy="429.2" r="1.22"/><circle cx="152.1" cy="435.4" r="1.22"/><circle cx="137.1" cy="435.9" r="1.22"/><circle cx="181.9" cy="438.8" r="1.22"/><circle cx="153.7" cy="435.4" r="1.22"/><circle cx="161.5" cy="433.5" r="1.22"/><circle cx="168.0" cy="439.8" r="1.22"/><circle cx="212.0" cy="435.5" r="1.22"/><circle cx="190.9" cy="441.5" r="1.22"/><circle cx="210.7" cy="431.0" r="1.22"/><circle cx="179.3" cy="431.2" r="1.22"/><circle cx="196.0" cy="437.9" r="1.22"/><circle cx="173.2" cy="437.9" r="1.22"/><circle cx="191.5" cy="442.0" r="1.22"/><circle cx="197.4" cy="437.4" r="1.22"/><circle cx="173.7" cy="434.3" r="1.22"/><circle cx="162.9" cy="434.6" r="1.22"/><circle cx="176.5" cy="429.5" r="1.22"/><circle cx="172.8" cy="430.4" r="1.22"/><circle cx="169.6" cy="435.0" r="1.22"/><circle cx="176.3" cy="429.9" r="1.22"/><circle cx="136.4" cy="441.6" r="1.22"/><circle cx="156.9" cy="432.5" r="1.22"/><circle cx="192.9" cy="439.2" r="1.22"/><circle cx="135.4" cy="430.9" r="1.22"/><circle cx="163.8" cy="433.4" r="1.22"/><circle cx="210.3" cy="436.1" r="1.22"/><circle cx="210.1" cy="436.3" r="1.22"/><circle cx="199.6" cy="428.5" r="1.22"/><circle cx="209.7" cy="436.2" r="1.22"/><circle cx="140.2" cy="433.2" r="1.22"/><circle cx="185.2" cy="440.9" r="1.22"/><circle cx="163.8" cy="440.5" r="1.22"/><circle cx="152.4" cy="434.8" r="1.22"/><circle cx="211.5" cy="430.9" r="1.22"/><circle cx="197.1" cy="433.8" r="1.22"/><circle cx="196.1" cy="439.1" r="1.22"/><circle cx="144.1" cy="433.0" r="1.22"/><circle cx="198.5" cy="440.5" r="1.22"/><circle cx="172.3" cy="430.1" r="1.22"/><circle cx="173.7" cy="430.3" r="1.22"/><circle cx="203.2" cy="440.1" r="1.22"/><circle cx="146.8" cy="434.6" r="1.22"/><circle cx="143.4" cy="440.9" r="1.22"/><circle cx="191.4" cy="436.5" r="1.22"/><circle cx="202.1" cy="436.3" r="1.22"/><circle cx="138.9" cy="430.3" r="1.22"/><circle cx="153.7" cy="435.2" r="1.22"/><circle cx="180.4" cy="434.6" r="1.22"/><circle cx="146.0" cy="435.5" r="1.22"/><circle cx="159.1" cy="441.2" r="1.22"/><circle cx="206.9" cy="428.9" r="1.22"/><circle cx="165.3" cy="431.6" r="1.22"/><circle cx="193.0" cy="429.9" r="1.22"/><circle cx="174.5" cy="440.5" r="1.22"/><circle cx="170.2" cy="434.4" r="1.22"/><circle cx="175.4" cy="430.6" r="1.22"/><circle cx="156.8" cy="428.1" r="1.22"/><circle cx="182.7" cy="438.5" r="1.22"/><circle cx="168.0" cy="431.1" r="1.22"/><circle cx="203.4" cy="428.6" r="1.22"/><circle cx="141.7" cy="433.4" r="1.22"/><circle cx="210.8" cy="438.0" r="1.22"/><circle cx="137.7" cy="435.6" r="1.22"/><circle cx="142.6" cy="434.2" r="1.22"/><circle cx="160.5" cy="437.7" r="1.22"/><circle cx="144.4" cy="428.7" r="1.22"/><circle cx="155.5" cy="441.6" r="1.22"/><circle cx="210.6" cy="429.7" r="1.22"/><circle cx="196.8" cy="434.6" r="1.22"/><circle cx="212.7" cy="429.6" r="1.22"/><circle cx="151.8" cy="436.6" r="1.22"/><circle cx="183.7" cy="428.1" r="1.22"/><circle cx="135.8" cy="431.7" r="1.22"/><circle cx="155.6" cy="429.5" r="1.22"/><circle cx="196.8" cy="435.9" r="1.22"/><circle cx="182.5" cy="436.5" r="1.22"/><circle cx="182.9" cy="435.2" r="1.22"/><circle cx="143.9" cy="437.2" r="1.22"/><circle cx="141.2" cy="431.5" r="1.22"/><circle cx="197.1" cy="433.0" r="1.22"/><circle cx="210.2" cy="431.3" r="1.22"/><circle cx="179.1" cy="433.2" r="1.22"/><circle cx="168.9" cy="441.8" r="1.22"/><circle cx="184.8" cy="436.2" r="1.22"/><circle cx="160.1" cy="438.0" r="1.22"/><circle cx="136.6" cy="432.4" r="1.22"/><circle cx="181.7" cy="434.5" r="1.22"/><circle cx="184.1" cy="431.6" r="1.22"/><circle cx="174.8" cy="431.1" r="1.22"/><circle cx="194.7" cy="433.0" r="1.22"/><circle cx="154.8" cy="440.6" r="1.22"/><circle cx="208.2" cy="429.0" r="1.22"/><circle cx="184.3" cy="440.0" r="1.22"/><circle cx="188.0" cy="434.2" r="1.22"/><circle cx="188.3" cy="433.1" r="1.22"/><circle cx="196.4" cy="436.2" r="1.22"/><circle cx="143.1" cy="431.6" r="1.22"/><circle cx="137.5" cy="436.0" r="1.22"/><circle cx="207.1" cy="440.9" r="1.22"/><circle cx="171.6" cy="431.9" r="1.22"/><circle cx="171.2" cy="434.8" r="1.22"/><circle cx="135.2" cy="430.8" r="1.22"/><circle cx="183.6" cy="434.7" r="1.22"/><circle cx="207.3" cy="429.2" r="1.22"/><circle cx="137.4" cy="436.4" r="1.22"/><circle cx="185.9" cy="428.5" r="1.22"/><circle cx="170.2" cy="436.4" r="1.22"/><circle cx="138.4" cy="440.7" r="1.22"/><circle cx="177.5" cy="437.9" r="1.22"/><circle cx="207.1" cy="437.0" r="1.22"/><circle cx="198.0" cy="434.5" r="1.22"/><circle cx="198.2" cy="430.0" r="1.22"/><circle cx="202.5" cy="428.1" r="1.22"/><circle cx="140.0" cy="441.4" r="1.22"/><circle cx="183.2" cy="429.5" r="1.22"/><circle cx="179.9" cy="432.6" r="1.22"/><circle cx="146.6" cy="428.6" r="1.22"/><circle cx="186.2" cy="440.7" r="1.22"/><circle cx="194.9" cy="440.2" r="1.22"/><circle cx="177.3" cy="434.9" r="1.22"/><circle cx="141.3" cy="430.4" r="1.22"/><circle cx="211.8" cy="440.7" r="1.22"/><circle cx="173.4" cy="437.3" r="1.22"/><circle cx="190.4" cy="431.8" r="1.22"/><circle cx="167.8" cy="431.2" r="1.22"/><circle cx="147.3" cy="437.2" r="1.22"/><circle cx="140.2" cy="441.6" r="1.22"/><circle cx="155.8" cy="432.3" r="1.22"/><circle cx="141.7" cy="440.2" r="1.22"/><circle cx="195.6" cy="437.9" r="1.22"/><circle cx="183.4" cy="437.3" r="1.22"/><circle cx="175.7" cy="437.7" r="1.22"/><circle cx="145.1" cy="439.9" r="1.22"/><circle cx="179.3" cy="437.9" r="1.22"/><circle cx="173.4" cy="435.7" r="1.22"/><circle cx="136.7" cy="428.5" r="1.22"/><circle cx="212.7" cy="437.2" r="1.22"/><circle cx="147.3" cy="432.0" r="1.22"/><circle cx="197.8" cy="436.5" r="1.22"/><circle cx="192.8" cy="439.7" r="1.22"/><circle cx="177.3" cy="439.8" r="1.22"/><circle cx="154.9" cy="433.1" r="1.22"/><circle cx="141.0" cy="437.6" r="1.22"/><circle cx="173.2" cy="440.3" r="1.22"/><circle cx="140.4" cy="437.6" r="1.22"/><circle cx="176.7" cy="431.6" r="1.22"/><circle cx="152.4" cy="432.8" r="1.22"/><circle cx="208.1" cy="441.6" r="1.22"/><circle cx="156.6" cy="429.4" r="1.22"/><circle cx="163.0" cy="435.0" r="1.22"/><circle cx="209.6" cy="433.1" r="1.22"/><circle cx="156.5" cy="428.7" r="1.22"/><circle cx="200.9" cy="428.9" r="1.22"/><circle cx="209.2" cy="433.4" r="1.22"/><circle cx="168.2" cy="435.4" r="1.22"/><circle cx="202.7" cy="432.6" r="1.22"/><circle cx="135.7" cy="437.1" r="1.22"/><circle cx="186.1" cy="429.0" r="1.22"/><circle cx="205.1" cy="434.6" r="1.22"/><circle cx="210.9" cy="436.9" r="1.22"/><circle cx="139.8" cy="438.4" r="1.22"/><circle cx="147.3" cy="441.6" r="1.22"/><circle cx="199.4" cy="441.3" r="1.22"/><circle cx="190.9" cy="439.6" r="1.22"/><circle cx="197.9" cy="437.4" r="1.22"/><circle cx="148.9" cy="432.5" r="1.22"/><circle cx="202.0" cy="432.1" r="1.22"/><circle cx="212.5" cy="428.8" r="1.22"/><circle cx="160.6" cy="441.3" r="1.22"/><circle cx="163.0" cy="440.0" r="1.22"/><circle cx="176.6" cy="434.2" r="1.22"/><circle cx="170.9" cy="431.9" r="1.22"/><circle cx="176.0" cy="430.0" r="1.22"/><circle cx="146.4" cy="439.2" r="1.22"/><circle cx="168.7" cy="441.1" r="1.22"/><circle cx="145.7" cy="428.6" r="1.22"/><circle cx="185.7" cy="431.6" r="1.22"/><circle cx="167.9" cy="434.1" r="1.22"/><circle cx="167.6" cy="435.3" r="1.22"/><circle cx="156.9" cy="430.7" r="1.22"/><circle cx="145.3" cy="432.9" r="1.22"/><circle cx="191.3" cy="437.5" r="1.22"/><circle cx="163.4" cy="432.2" r="1.22"/><circle cx="168.8" cy="435.5" r="1.22"/><circle cx="156.9" cy="433.8" r="1.22"/><circle cx="190.2" cy="434.4" r="1.22"/><circle cx="178.5" cy="437.1" r="1.22"/><circle cx="168.5" cy="429.6" r="1.22"/><circle cx="146.4" cy="430.6" r="1.22"/><circle cx="186.6" cy="440.7" r="1.22"/><circle cx="153.2" cy="430.5" r="1.22"/><circle cx="146.3" cy="436.1" r="1.22"/><circle cx="154.6" cy="437.5" r="1.22"/><circle cx="168.4" cy="437.2" r="1.22"/><circle cx="169.4" cy="433.1" r="1.22"/><circle cx="208.8" cy="437.0" r="1.22"/><circle cx="141.9" cy="440.1" r="1.22"/><circle cx="164.1" cy="435.2" r="1.22"/><circle cx="154.7" cy="429.8" r="1.22"/><circle cx="188.6" cy="441.4" r="1.22"/><circle cx="210.1" cy="441.2" r="1.22"/><circle cx="200.4" cy="429.8" r="1.22"/><circle cx="211.1" cy="436.6" r="1.22"/><circle cx="183.3" cy="433.9" r="1.22"/><circle cx="146.4" cy="431.8" r="1.22"/><circle cx="144.5" cy="436.0" r="1.22"/><circle cx="203.3" cy="436.1" r="1.22"/><circle cx="156.6" cy="430.9" r="1.22"/><circle cx="185.5" cy="432.6" r="1.22"/><circle cx="141.2" cy="435.3" r="1.22"/><circle cx="198.8" cy="430.6" r="1.22"/><circle cx="158.8" cy="431.2" r="1.22"/><circle cx="184.4" cy="429.1" r="1.22"/><circle cx="190.2" cy="429.6" r="1.22"/><circle cx="171.9" cy="433.5" r="1.22"/><circle cx="178.5" cy="435.1" r="1.22"/><circle cx="138.4" cy="436.1" r="1.22"/><circle cx="162.1" cy="430.6" r="1.22"/><circle cx="207.8" cy="433.3" r="1.22"/><circle cx="182.0" cy="430.8" r="1.22"/><circle cx="137.6" cy="430.3" r="1.22"/><circle cx="179.1" cy="428.3" r="1.22"/><circle cx="147.8" cy="436.6" r="1.22"/><circle cx="212.3" cy="435.3" r="1.22"/><circle cx="136.0" cy="434.8" r="1.22"/><circle cx="201.9" cy="439.7" r="1.22"/><circle cx="172.1" cy="433.7" r="1.22"/><circle cx="140.9" cy="431.1" r="1.22"/><circle cx="189.7" cy="437.7" r="1.22"/><circle cx="183.2" cy="441.3" r="1.22"/><circle cx="158.0" cy="433.6" r="1.22"/><circle cx="204.7" cy="438.7" r="1.22"/><circle cx="181.8" cy="440.7" r="1.22"/><circle cx="210.6" cy="432.7" r="1.22"/><circle cx="199.1" cy="439.8" r="1.22"/><circle cx="197.6" cy="433.5" r="1.22"/><circle cx="197.1" cy="435.6" r="1.22"/><circle cx="203.2" cy="428.2" r="1.22"/><circle cx="171.2" cy="439.8" r="1.22"/><circle cx="141.9" cy="431.1" r="1.22"/><circle cx="145.5" cy="437.5" r="1.22"/><circle cx="167.0" cy="435.7" r="1.22"/><circle cx="209.0" cy="435.6" r="1.22"/><circle cx="171.0" cy="437.7" r="1.22"/><circle cx="143.7" cy="441.0" r="1.22"/><circle cx="194.4" cy="432.9" r="1.22"/><circle cx="142.6" cy="435.6" r="1.22"/><circle cx="203.6" cy="430.6" r="1.22"/><circle cx="193.4" cy="434.7" r="1.22"/><circle cx="201.9" cy="432.7" r="1.22"/><circle cx="175.1" cy="434.3" r="1.22"/><circle cx="158.6" cy="433.5" r="1.22"/><circle cx="167.7" cy="434.8" r="1.22"/><circle cx="190.1" cy="437.3" r="1.22"/><circle cx="173.5" cy="441.5" r="1.22"/><circle cx="157.5" cy="441.4" r="1.22"/><circle cx="151.1" cy="430.9" r="1.22"/><circle cx="146.9" cy="435.2" r="1.22"/><circle cx="138.3" cy="435.2" r="1.22"/><circle cx="148.6" cy="440.7" r="1.22"/><circle cx="169.7" cy="436.4" r="1.22"/><circle cx="143.8" cy="437.1" r="1.22"/><circle cx="141.9" cy="432.3" r="1.22"/><circle cx="193.1" cy="440.8" r="1.22"/><circle cx="182.4" cy="430.6" r="1.22"/><circle cx="189.9" cy="428.9" r="1.22"/><circle cx="167.5" cy="434.5" r="1.22"/><circle cx="203.1" cy="438.4" r="1.22"/><circle cx="194.7" cy="436.7" r="1.22"/><circle cx="164.3" cy="435.4" r="1.22"/><circle cx="187.0" cy="439.8" r="1.22"/><circle cx="147.6" cy="439.9" r="1.22"/><circle cx="211.8" cy="441.4" r="1.22"/><circle cx="137.9" cy="430.8" r="1.22"/><circle cx="137.7" cy="430.2" r="1.22"/><circle cx="193.7" cy="429.7" r="1.22"/><circle cx="162.9" cy="434.6" r="1.22"/><circle cx="162.0" cy="434.9" r="1.22"/><circle cx="210.3" cy="430.4" r="1.22"/><circle cx="206.6" cy="435.9" r="1.22"/><circle cx="176.1" cy="432.5" r="1.22"/><circle cx="152.2" cy="436.6" r="1.22"/><circle cx="160.3" cy="436.0" r="1.22"/><circle cx="199.5" cy="439.9" r="1.22"/><circle cx="174.6" cy="431.3" r="1.22"/><circle cx="189.3" cy="438.1" r="1.22"/><circle cx="180.6" cy="432.2" r="1.22"/><circle cx="193.7" cy="436.9" r="1.22"/><circle cx="177.5" cy="432.6" r="1.22"/><circle cx="172.2" cy="438.5" r="1.22"/><circle cx="140.7" cy="431.6" r="1.22"/><circle cx="181.0" cy="430.9" r="1.22"/><circle cx="153.1" cy="433.1" r="1.22"/><circle cx="203.7" cy="431.8" r="1.22"/><circle cx="178.2" cy="441.1" r="1.22"/><circle cx="184.2" cy="435.3" r="1.22"/><circle cx="173.6" cy="432.0" r="1.22"/><circle cx="206.0" cy="429.0" r="1.22"/><circle cx="198.9" cy="432.3" r="1.22"/><circle cx="190.5" cy="440.4" r="1.22"/><circle cx="140.5" cy="431.5" r="1.22"/><circle cx="197.5" cy="434.5" r="1.22"/><circle cx="205.3" cy="441.9" r="1.22"/><circle cx="209.8" cy="438.3" r="1.22"/><circle cx="187.3" cy="435.0" r="1.22"/><circle cx="174.6" cy="431.6" r="1.22"/><circle cx="200.9" cy="437.8" r="1.22"/><circle cx="188.7" cy="436.0" r="1.22"/><circle cx="187.0" cy="434.2" r="1.22"/><circle cx="210.6" cy="434.5" r="1.22"/><circle cx="141.0" cy="439.6" r="1.22"/><circle cx="137.6" cy="439.2" r="1.22"/><circle cx="202.7" cy="441.1" r="1.22"/><circle cx="164.0" cy="441.3" r="1.22"/><circle cx="177.5" cy="429.5" r="1.22"/><circle cx="135.4" cy="429.5" r="1.22"/><circle cx="199.3" cy="441.4" r="1.22"/><circle cx="187.9" cy="438.0" r="1.22"/><circle cx="159.8" cy="429.0" r="1.22"/><circle cx="200.0" cy="436.1" r="1.22"/><circle cx="188.9" cy="429.8" r="1.22"/><circle cx="160.4" cy="435.9" r="1.22"/><circle cx="145.5" cy="434.6" r="1.22"/><circle cx="136.1" cy="434.3" r="1.22"/><circle cx="145.4" cy="429.8" r="1.22"/><circle cx="193.4" cy="432.4" r="1.22"/><circle cx="177.3" cy="436.6" r="1.22"/><circle cx="165.2" cy="431.6" r="1.22"/><circle cx="209.5" cy="433.9" r="1.22"/><circle cx="159.6" cy="440.4" r="1.22"/><circle cx="188.8" cy="441.9" r="1.22"/><circle cx="191.4" cy="439.9" r="1.22"/><circle cx="143.4" cy="439.0" r="1.22"/><circle cx="195.6" cy="428.9" r="1.22"/><circle cx="172.3" cy="436.5" r="1.22"/><circle cx="166.0" cy="435.5" r="1.22"/><circle cx="180.9" cy="431.9" r="1.22"/><circle cx="156.4" cy="429.6" r="1.22"/><circle cx="201.3" cy="429.7" r="1.22"/><circle cx="163.1" cy="440.1" r="1.22"/><circle cx="211.3" cy="432.2" r="1.22"/><circle cx="140.2" cy="435.0" r="1.22"/><circle cx="136.2" cy="434.6" r="1.22"/><circle cx="188.2" cy="429.7" r="1.22"/><circle cx="160.8" cy="429.7" r="1.22"/><circle cx="143.0" cy="440.3" r="1.22"/><circle cx="138.3" cy="439.8" r="1.22"/><circle cx="185.8" cy="439.5" r="1.22"/><circle cx="141.4" cy="441.4" r="1.22"/><circle cx="152.3" cy="438.6" r="1.22"/><circle cx="138.7" cy="437.1" r="1.22"/><circle cx="146.4" cy="437.4" r="1.22"/><circle cx="153.1" cy="431.0" r="1.22"/><circle cx="203.0" cy="437.7" r="1.22"/><circle cx="183.5" cy="440.4" r="1.22"/><circle cx="195.8" cy="436.3" r="1.22"/><circle cx="173.4" cy="435.5" r="1.22"/><circle cx="156.7" cy="431.0" r="1.22"/><circle cx="135.4" cy="440.2" r="1.22"/><circle cx="191.1" cy="435.1" r="1.22"/><circle cx="180.5" cy="434.4" r="1.22"/><circle cx="174.7" cy="440.4" r="1.22"/><circle cx="175.2" cy="437.5" r="1.22"/><circle cx="144.3" cy="432.4" r="1.22"/><circle cx="162.6" cy="432.1" r="1.22"/><circle cx="212.8" cy="433.2" r="1.22"/><circle cx="189.6" cy="430.2" r="1.22"/><circle cx="184.1" cy="433.2" r="1.22"/><circle cx="203.4" cy="432.5" r="1.22"/><circle cx="146.3" cy="433.8" r="1.22"/><circle cx="162.3" cy="438.2" r="1.22"/><circle cx="204.7" cy="438.7" r="1.22"/><circle cx="148.7" cy="428.1" r="1.22"/><circle cx="150.6" cy="430.5" r="1.22"/><circle cx="172.1" cy="437.1" r="1.22"/><circle cx="167.1" cy="437.6" r="1.22"/><circle cx="160.6" cy="439.8" r="1.22"/><circle cx="193.8" cy="432.1" r="1.22"/><circle cx="155.6" cy="430.0" r="1.22"/><circle cx="210.4" cy="435.7" r="1.22"/><circle cx="139.0" cy="433.9" r="1.22"/><circle cx="211.5" cy="436.3" r="1.22"/><circle cx="141.1" cy="438.5" r="1.22"/><circle cx="198.4" cy="430.5" r="1.22"/><circle cx="153.8" cy="435.7" r="1.22"/><circle cx="141.3" cy="430.4" r="1.22"/><circle cx="206.8" cy="432.0" r="1.22"/><circle cx="210.7" cy="429.9" r="1.22"/><circle cx="164.7" cy="429.4" r="1.22"/><circle cx="196.5" cy="439.2" r="1.22"/><circle cx="161.2" cy="429.4" r="1.22"/><circle cx="191.4" cy="438.7" r="1.22"/><circle cx="150.5" cy="430.9" r="1.22"/><circle cx="201.4" cy="430.2" r="1.22"/><circle cx="191.6" cy="434.5" r="1.22"/><circle cx="155.1" cy="438.1" r="1.22"/><circle cx="188.3" cy="428.6" r="1.22"/><circle cx="184.9" cy="428.1" r="1.22"/><circle cx="200.4" cy="433.1" r="1.22"/><circle cx="175.5" cy="441.0" r="1.22"/><circle cx="185.7" cy="438.8" r="1.22"/><circle cx="173.2" cy="435.7" r="1.22"/><circle cx="167.3" cy="433.5" r="1.22"/><circle cx="152.3" cy="438.5" r="1.22"/><circle cx="204.1" cy="439.9" r="1.22"/><circle cx="144.8" cy="438.4" r="1.22"/><circle cx="195.9" cy="430.3" r="1.22"/><circle cx="209.9" cy="437.2" r="1.22"/><circle cx="162.0" cy="436.0" r="1.22"/><circle cx="166.6" cy="437.3" r="1.22"/><circle cx="193.9" cy="438.6" r="1.22"/><circle cx="145.4" cy="436.1" r="1.22"/><circle cx="181.6" cy="429.3" r="1.22"/><circle cx="190.0" cy="437.3" r="1.22"/><circle cx="154.9" cy="438.8" r="1.22"/><circle cx="185.0" cy="429.2" r="1.22"/><circle cx="195.4" cy="436.8" r="1.22"/><circle cx="176.7" cy="433.9" r="1.22"/><circle cx="187.1" cy="429.1" r="1.22"/><circle cx="174.8" cy="429.6" r="1.22"/><circle cx="204.6" cy="432.8" r="1.22"/><circle cx="213.7" cy="431.1" r="1.22"/><circle cx="214.5" cy="441.1" r="1.22"/><circle cx="214.5" cy="428.0" r="1.22"/><circle cx="214.5" cy="429.8" r="1.22"/><circle cx="215.8" cy="432.2" r="1.22"/><circle cx="214.8" cy="428.4" r="1.22"/><circle cx="213.4" cy="433.7" r="1.22"/><circle cx="213.3" cy="433.2" r="1.22"/><circle cx="216.5" cy="430.5" r="1.22"/><circle cx="213.3" cy="441.5" r="1.22"/><circle cx="215.7" cy="435.6" r="1.22"/><circle cx="213.9" cy="435.4" r="1.22"/><circle cx="214.3" cy="429.2" r="1.22"/><circle cx="214.4" cy="438.6" r="1.22"/><circle cx="214.3" cy="430.8" r="1.22"/><circle cx="215.2" cy="430.7" r="1.22"/><circle cx="213.6" cy="438.3" r="1.22"/><circle cx="213.1" cy="429.3" r="1.22"/></g>
<g fill="#000"><circle cx="219.7" cy="429.3" r="1.22"/><circle cx="243.4" cy="431.3" r="1.22"/><circle cx="252.3" cy="433.3" r="1.22"/><circle cx="224.7" cy="438.2" r="1.22"/><circle cx="218.5" cy="436.0" r="1.22"/><circle cx="221.0" cy="441.0" r="1.22"/></g>
<path d="M85.50,462.50 C93.67,462.50 105.40,462.54 110.00,462.50 C113.07,462.48 116.24,462.99 119.20,462.40 C121.64,461.91 124.50,461.29 126.30,459.80 C128.61,457.89 129.42,454.05 130.40,451.00 C131.63,447.18 131.72,443.01 132.30,439.00 C132.73,436.00 133.08,432.80 133.50,430.00 C133.78,428.13 134.13,426.27 134.40,424.40 C134.80,421.59 135.32,414.53 135.80,409.60 C136.28,404.67 136.70,399.72 137.30,394.80 C137.82,390.52 138.41,386.25 139.10,382.00 C139.75,378.02 140.50,374.05 141.30,370.10 C142.10,366.12 142.74,362.08 143.90,358.20 C144.86,354.97 146.05,351.79 147.40,348.70 C148.64,345.86 149.99,343.04 151.60,340.40 C152.84,338.36 153.89,335.94 155.70,334.50 C157.10,333.39 159.00,332.83 160.70,332.10 C162.34,331.40 163.98,330.32 165.70,330.20 C167.07,330.11 168.69,330.33 169.90,330.90 C171.69,331.75 172.76,334.01 174.00,335.70 C175.57,337.85 176.81,340.26 178.10,342.60 C179.34,344.86 180.38,347.23 181.60,349.50 C182.69,351.52 183.73,355.58 185.00,355.50 C186.07,355.43 187.53,352.54 188.50,350.90 C189.75,348.78 190.05,345.85 191.30,344.00 C192.14,342.77 193.28,340.63 194.30,340.60 C195.35,340.57 196.63,342.75 197.50,344.00 C198.81,345.88 199.43,349.31 200.30,352.00 C201.61,356.03 202.83,360.65 204.00,365.00 C205.43,370.31 206.83,375.63 208.00,381.00 C209.16,386.30 210.08,391.65 211.00,397.00 C211.91,402.32 212.61,407.68 213.50,413.00 C214.29,417.67 215.06,422.35 216.00,427.00 C217.09,432.40 217.79,437.97 219.70,443.10 C221.23,447.22 223.09,452.61 225.60,455.00 C227.27,456.59 229.45,457.96 231.60,458.90 C234.01,459.95 237.61,460.61 239.40,460.70 C240.59,460.76 241.81,460.71 243.00,460.60 C244.44,460.47 245.88,459.85 247.30,459.90 C248.64,459.95 249.96,460.52 251.30,460.80 C253.26,461.21 255.22,461.64 257.20,461.90 C259.78,462.24 262.40,462.27 265.00,462.40 C268.90,462.60 285.47,462.47 295.70,462.50 L295.70,462.50 L85.50,462.50 Z" fill="rgb(234,76,55)" fill-opacity="0.72" stroke="none"/>
<path d="M85.50,462.50 C93.67,462.50 105.40,462.54 110.00,462.50 C113.07,462.48 116.24,462.99 119.20,462.40 C121.64,461.91 124.50,461.29 126.30,459.80 C128.61,457.89 129.42,454.05 130.40,451.00 C131.63,447.18 131.72,443.01 132.30,439.00 C132.73,436.00 133.08,432.80 133.50,430.00 C133.78,428.13 134.13,426.27 134.40,424.40 C134.80,421.59 135.32,414.53 135.80,409.60 C136.28,404.67 136.70,399.72 137.30,394.80 C137.82,390.52 138.41,386.25 139.10,382.00 C139.75,378.02 140.50,374.05 141.30,370.10 C142.10,366.12 142.74,362.08 143.90,358.20 C144.86,354.97 146.05,351.79 147.40,348.70 C148.64,345.86 149.99,343.04 151.60,340.40 C152.84,338.36 153.89,335.94 155.70,334.50 C157.10,333.39 159.00,332.83 160.70,332.10 C162.34,331.40 163.98,330.32 165.70,330.20 C167.07,330.11 168.69,330.33 169.90,330.90 C171.69,331.75 172.76,334.01 174.00,335.70 C175.57,337.85 176.81,340.26 178.10,342.60 C179.34,344.86 180.38,347.23 181.60,349.50 C182.69,351.52 183.73,355.58 185.00,355.50 C186.07,355.43 187.53,352.54 188.50,350.90 C189.75,348.78 190.05,345.85 191.30,344.00 C192.14,342.77 193.28,340.63 194.30,340.60 C195.35,340.57 196.63,342.75 197.50,344.00 C198.81,345.88 199.43,349.31 200.30,352.00 C201.61,356.03 202.83,360.65 204.00,365.00 C205.43,370.31 206.83,375.63 208.00,381.00 C209.16,386.30 210.08,391.65 211.00,397.00 C211.91,402.32 212.61,407.68 213.50,413.00 C214.29,417.67 215.06,422.35 216.00,427.00 C217.09,432.40 217.79,437.97 219.70,443.10 C221.23,447.22 223.09,452.61 225.60,455.00 C227.27,456.59 229.45,457.96 231.60,458.90 C234.01,459.95 237.61,460.61 239.40,460.70 C240.59,460.76 241.81,460.71 243.00,460.60 C244.44,460.47 245.88,459.85 247.30,459.90 C248.64,459.95 249.96,460.52 251.30,460.80 C253.26,461.21 255.22,461.64 257.20,461.90 C259.78,462.24 262.40,462.27 265.00,462.40 C268.90,462.60 285.47,462.47 295.70,462.50" fill="none" stroke="#111" stroke-width="0.95" stroke-linejoin="round"/>
<g fill="#000"><circle cx="132.9" cy="473.3" r="1.22"/><circle cx="130.9" cy="471.9" r="1.22"/><circle cx="132.0" cy="467.0" r="1.22"/><circle cx="132.9" cy="470.7" r="1.22"/><circle cx="131.5" cy="466.2" r="1.22"/><circle cx="132.7" cy="470.9" r="1.22"/><circle cx="131.3" cy="472.2" r="1.22"/><circle cx="132.9" cy="472.5" r="1.22"/><circle cx="132.8" cy="474.4" r="1.22"/><circle cx="131.9" cy="471.0" r="1.22"/><circle cx="130.7" cy="478.5" r="1.22"/><circle cx="134.1" cy="470.7" r="1.22"/><circle cx="133.2" cy="467.7" r="1.22"/><circle cx="133.7" cy="477.7" r="1.22"/><circle cx="134.7" cy="470.5" r="1.22"/><circle cx="133.0" cy="471.9" r="1.22"/><circle cx="135.4" cy="471.5" r="1.22"/><circle cx="133.4" cy="464.6" r="1.22"/><circle cx="134.5" cy="478.2" r="1.22"/><circle cx="135.8" cy="471.5" r="1.22"/><circle cx="134.6" cy="477.0" r="1.22"/><circle cx="133.1" cy="471.3" r="1.22"/><circle cx="136.0" cy="468.2" r="1.22"/><circle cx="135.4" cy="477.8" r="1.22"/><circle cx="133.1" cy="468.9" r="1.22"/><circle cx="135.5" cy="474.1" r="1.22"/><circle cx="135.4" cy="471.4" r="1.22"/><circle cx="133.7" cy="467.9" r="1.22"/><circle cx="135.2" cy="466.3" r="1.22"/><circle cx="133.9" cy="477.8" r="1.22"/><circle cx="135.3" cy="478.3" r="1.22"/><circle cx="135.9" cy="468.1" r="1.22"/><circle cx="133.6" cy="473.0" r="1.22"/><circle cx="134.6" cy="472.0" r="1.22"/><circle cx="133.9" cy="478.1" r="1.22"/><circle cx="133.1" cy="466.4" r="1.22"/><circle cx="135.2" cy="476.5" r="1.22"/><circle cx="134.7" cy="478.5" r="1.22"/><circle cx="187.4" cy="465.9" r="1.22"/><circle cx="195.0" cy="477.7" r="1.22"/><circle cx="195.7" cy="478.1" r="1.22"/><circle cx="174.9" cy="473.0" r="1.22"/><circle cx="150.2" cy="475.1" r="1.22"/><circle cx="164.9" cy="472.5" r="1.22"/><circle cx="153.0" cy="477.0" r="1.22"/><circle cx="175.6" cy="476.2" r="1.22"/><circle cx="163.9" cy="470.6" r="1.22"/><circle cx="158.9" cy="477.2" r="1.22"/><circle cx="155.1" cy="467.5" r="1.22"/><circle cx="136.5" cy="475.6" r="1.22"/><circle cx="157.1" cy="474.8" r="1.22"/><circle cx="156.5" cy="476.6" r="1.22"/><circle cx="145.0" cy="470.7" r="1.22"/><circle cx="153.6" cy="472.0" r="1.22"/><circle cx="169.7" cy="465.2" r="1.22"/><circle cx="176.4" cy="474.4" r="1.22"/><circle cx="161.4" cy="464.6" r="1.22"/><circle cx="144.3" cy="472.4" r="1.22"/><circle cx="169.5" cy="472.0" r="1.22"/><circle cx="136.2" cy="478.3" r="1.22"/><circle cx="192.7" cy="473.9" r="1.22"/><circle cx="168.5" cy="476.5" r="1.22"/><circle cx="177.0" cy="474.2" r="1.22"/><circle cx="194.6" cy="476.3" r="1.22"/><circle cx="156.5" cy="475.8" r="1.22"/><circle cx="197.8" cy="470.0" r="1.22"/><circle cx="169.5" cy="465.2" r="1.22"/><circle cx="170.5" cy="474.7" r="1.22"/><circle cx="157.9" cy="475.0" r="1.22"/><circle cx="160.4" cy="477.4" r="1.22"/><circle cx="159.6" cy="471.4" r="1.22"/><circle cx="189.7" cy="468.5" r="1.22"/><circle cx="161.1" cy="466.6" r="1.22"/><circle cx="198.6" cy="474.9" r="1.22"/><circle cx="162.4" cy="469.9" r="1.22"/><circle cx="172.6" cy="478.5" r="1.22"/><circle cx="173.6" cy="464.8" r="1.22"/><circle cx="151.8" cy="473.8" r="1.22"/><circle cx="147.1" cy="468.3" r="1.22"/><circle cx="172.1" cy="471.9" r="1.22"/><circle cx="184.0" cy="465.6" r="1.22"/><circle cx="178.0" cy="475.3" r="1.22"/><circle cx="196.0" cy="476.7" r="1.22"/><circle cx="150.7" cy="464.5" r="1.22"/><circle cx="188.8" cy="470.9" r="1.22"/><circle cx="167.8" cy="467.7" r="1.22"/><circle cx="180.3" cy="465.2" r="1.22"/><circle cx="153.3" cy="468.5" r="1.22"/><circle cx="154.8" cy="469.8" r="1.22"/><circle cx="196.6" cy="466.2" r="1.22"/><circle cx="150.4" cy="470.8" r="1.22"/><circle cx="154.2" cy="477.2" r="1.22"/><circle cx="140.6" cy="466.0" r="1.22"/><circle cx="155.8" cy="470.6" r="1.22"/><circle cx="159.3" cy="478.3" r="1.22"/><circle cx="198.6" cy="473.7" r="1.22"/><circle cx="144.5" cy="477.1" r="1.22"/><circle cx="192.6" cy="466.8" r="1.22"/><circle cx="193.7" cy="475.4" r="1.22"/><circle cx="140.3" cy="464.7" r="1.22"/><circle cx="183.2" cy="469.0" r="1.22"/><circle cx="136.2" cy="478.8" r="1.22"/><circle cx="175.7" cy="469.1" r="1.22"/><circle cx="188.0" cy="469.7" r="1.22"/><circle cx="150.1" cy="470.6" r="1.22"/><circle cx="164.3" cy="474.8" r="1.22"/><circle cx="198.9" cy="476.7" r="1.22"/><circle cx="161.6" cy="476.0" r="1.22"/><circle cx="198.1" cy="474.6" r="1.22"/><circle cx="188.9" cy="478.2" r="1.22"/><circle cx="170.0" cy="464.5" r="1.22"/><circle cx="169.7" cy="464.4" r="1.22"/><circle cx="199.6" cy="477.8" r="1.22"/><circle cx="137.0" cy="475.7" r="1.22"/><circle cx="179.1" cy="471.4" r="1.22"/><circle cx="141.8" cy="475.4" r="1.22"/><circle cx="166.6" cy="476.0" r="1.22"/><circle cx="167.6" cy="471.4" r="1.22"/><circle cx="183.1" cy="469.2" r="1.22"/><circle cx="185.7" cy="474.1" r="1.22"/><circle cx="160.2" cy="478.0" r="1.22"/><circle cx="185.8" cy="469.5" r="1.22"/><circle cx="163.7" cy="464.9" r="1.22"/><circle cx="170.9" cy="465.3" r="1.22"/><circle cx="193.0" cy="478.8" r="1.22"/><circle cx="182.3" cy="475.3" r="1.22"/><circle cx="163.0" cy="476.7" r="1.22"/><circle cx="192.1" cy="467.5" r="1.22"/><circle cx="168.0" cy="469.6" r="1.22"/><circle cx="167.3" cy="478.5" r="1.22"/><circle cx="176.1" cy="477.5" r="1.22"/><circle cx="147.4" cy="469.9" r="1.22"/><circle cx="174.2" cy="475.1" r="1.22"/><circle cx="155.2" cy="469.7" r="1.22"/><circle cx="186.1" cy="473.7" r="1.22"/><circle cx="199.8" cy="464.4" r="1.22"/><circle cx="193.3" cy="473.7" r="1.22"/><circle cx="189.2" cy="470.0" r="1.22"/><circle cx="199.2" cy="474.9" r="1.22"/><circle cx="189.2" cy="470.4" r="1.22"/><circle cx="159.5" cy="470.3" r="1.22"/><circle cx="190.3" cy="478.7" r="1.22"/><circle cx="186.6" cy="473.7" r="1.22"/><circle cx="155.2" cy="477.0" r="1.22"/><circle cx="160.4" cy="467.5" r="1.22"/><circle cx="152.0" cy="473.7" r="1.22"/><circle cx="164.6" cy="467.1" r="1.22"/><circle cx="136.2" cy="472.7" r="1.22"/><circle cx="147.8" cy="469.1" r="1.22"/><circle cx="152.8" cy="469.6" r="1.22"/><circle cx="183.5" cy="469.8" r="1.22"/><circle cx="138.0" cy="472.3" r="1.22"/><circle cx="173.1" cy="472.3" r="1.22"/><circle cx="194.1" cy="478.4" r="1.22"/><circle cx="175.4" cy="477.5" r="1.22"/><circle cx="193.3" cy="464.5" r="1.22"/><circle cx="175.9" cy="472.7" r="1.22"/><circle cx="189.1" cy="476.6" r="1.22"/><circle cx="155.9" cy="464.9" r="1.22"/><circle cx="142.8" cy="472.0" r="1.22"/><circle cx="196.1" cy="468.6" r="1.22"/><circle cx="159.9" cy="469.5" r="1.22"/><circle cx="178.9" cy="465.0" r="1.22"/><circle cx="173.1" cy="466.3" r="1.22"/><circle cx="139.1" cy="465.3" r="1.22"/><circle cx="195.2" cy="466.7" r="1.22"/><circle cx="162.2" cy="465.6" r="1.22"/><circle cx="158.5" cy="477.5" r="1.22"/><circle cx="184.2" cy="472.8" r="1.22"/><circle cx="168.7" cy="471.6" r="1.22"/><circle cx="161.5" cy="468.7" r="1.22"/><circle cx="162.0" cy="478.3" r="1.22"/><circle cx="158.1" cy="470.2" r="1.22"/><circle cx="149.4" cy="475.8" r="1.22"/><circle cx="148.0" cy="468.5" r="1.22"/><circle cx="173.0" cy="466.0" r="1.22"/><circle cx="167.1" cy="473.7" r="1.22"/><circle cx="179.4" cy="467.7" r="1.22"/><circle cx="155.4" cy="477.3" r="1.22"/><circle cx="191.9" cy="470.1" r="1.22"/><circle cx="165.3" cy="471.0" r="1.22"/><circle cx="196.9" cy="470.1" r="1.22"/><circle cx="148.5" cy="468.7" r="1.22"/><circle cx="167.2" cy="474.4" r="1.22"/><circle cx="168.9" cy="474.8" r="1.22"/><circle cx="183.6" cy="468.0" r="1.22"/><circle cx="174.3" cy="477.9" r="1.22"/><circle cx="182.1" cy="469.6" r="1.22"/><circle cx="141.0" cy="475.5" r="1.22"/><circle cx="143.5" cy="474.3" r="1.22"/><circle cx="166.1" cy="470.3" r="1.22"/><circle cx="198.9" cy="469.0" r="1.22"/><circle cx="170.3" cy="470.9" r="1.22"/><circle cx="188.3" cy="476.2" r="1.22"/><circle cx="152.2" cy="472.2" r="1.22"/><circle cx="173.3" cy="476.1" r="1.22"/><circle cx="164.7" cy="476.7" r="1.22"/><circle cx="171.6" cy="475.1" r="1.22"/><circle cx="175.9" cy="465.2" r="1.22"/><circle cx="157.3" cy="473.6" r="1.22"/><circle cx="150.0" cy="466.3" r="1.22"/><circle cx="147.2" cy="471.0" r="1.22"/><circle cx="165.7" cy="472.0" r="1.22"/><circle cx="152.2" cy="465.2" r="1.22"/><circle cx="145.7" cy="466.8" r="1.22"/><circle cx="165.7" cy="475.0" r="1.22"/><circle cx="192.1" cy="465.4" r="1.22"/><circle cx="197.8" cy="473.8" r="1.22"/><circle cx="184.4" cy="477.3" r="1.22"/><circle cx="145.4" cy="477.5" r="1.22"/><circle cx="193.4" cy="470.7" r="1.22"/><circle cx="168.8" cy="469.9" r="1.22"/><circle cx="152.3" cy="467.3" r="1.22"/><circle cx="145.0" cy="468.8" r="1.22"/><circle cx="158.6" cy="474.4" r="1.22"/><circle cx="163.8" cy="469.7" r="1.22"/><circle cx="154.6" cy="470.5" r="1.22"/><circle cx="198.3" cy="465.1" r="1.22"/><circle cx="193.6" cy="475.8" r="1.22"/><circle cx="174.1" cy="476.4" r="1.22"/><circle cx="163.5" cy="472.4" r="1.22"/><circle cx="196.4" cy="469.8" r="1.22"/><circle cx="180.2" cy="473.8" r="1.22"/><circle cx="137.5" cy="475.4" r="1.22"/><circle cx="148.4" cy="465.4" r="1.22"/><circle cx="170.8" cy="476.6" r="1.22"/><circle cx="162.6" cy="475.0" r="1.22"/><circle cx="163.4" cy="470.5" r="1.22"/><circle cx="174.9" cy="477.3" r="1.22"/><circle cx="156.8" cy="474.0" r="1.22"/><circle cx="180.0" cy="476.0" r="1.22"/><circle cx="188.0" cy="476.2" r="1.22"/><circle cx="144.0" cy="474.0" r="1.22"/><circle cx="142.0" cy="473.6" r="1.22"/><circle cx="155.6" cy="468.4" r="1.22"/><circle cx="167.1" cy="478.0" r="1.22"/><circle cx="155.4" cy="474.8" r="1.22"/><circle cx="172.4" cy="477.1" r="1.22"/><circle cx="184.0" cy="465.0" r="1.22"/><circle cx="150.1" cy="466.1" r="1.22"/><circle cx="177.2" cy="470.0" r="1.22"/><circle cx="188.7" cy="475.2" r="1.22"/><circle cx="164.6" cy="478.6" r="1.22"/><circle cx="195.3" cy="465.5" r="1.22"/><circle cx="193.7" cy="466.1" r="1.22"/><circle cx="178.2" cy="475.3" r="1.22"/><circle cx="179.9" cy="477.5" r="1.22"/><circle cx="199.9" cy="478.6" r="1.22"/><circle cx="187.3" cy="476.3" r="1.22"/><circle cx="196.1" cy="465.6" r="1.22"/><circle cx="159.8" cy="469.7" r="1.22"/><circle cx="146.7" cy="466.4" r="1.22"/><circle cx="166.4" cy="474.9" r="1.22"/><circle cx="149.6" cy="465.9" r="1.22"/><circle cx="176.4" cy="467.2" r="1.22"/><circle cx="176.1" cy="473.3" r="1.22"/><circle cx="147.8" cy="476.5" r="1.22"/><circle cx="175.6" cy="469.2" r="1.22"/><circle cx="192.3" cy="471.3" r="1.22"/><circle cx="168.9" cy="464.4" r="1.22"/><circle cx="142.8" cy="471.0" r="1.22"/><circle cx="154.7" cy="465.1" r="1.22"/><circle cx="141.2" cy="475.4" r="1.22"/><circle cx="148.6" cy="465.5" r="1.22"/><circle cx="156.3" cy="475.3" r="1.22"/><circle cx="168.4" cy="478.8" r="1.22"/><circle cx="172.3" cy="466.3" r="1.22"/><circle cx="179.0" cy="477.4" r="1.22"/><circle cx="139.5" cy="478.8" r="1.22"/><circle cx="162.0" cy="473.0" r="1.22"/><circle cx="143.6" cy="469.7" r="1.22"/><circle cx="183.2" cy="474.4" r="1.22"/><circle cx="147.6" cy="477.6" r="1.22"/><circle cx="147.2" cy="473.3" r="1.22"/><circle cx="199.7" cy="474.4" r="1.22"/><circle cx="165.5" cy="476.5" r="1.22"/><circle cx="142.1" cy="469.0" r="1.22"/><circle cx="184.3" cy="470.4" r="1.22"/><circle cx="145.7" cy="474.5" r="1.22"/><circle cx="172.1" cy="478.1" r="1.22"/><circle cx="151.6" cy="476.0" r="1.22"/><circle cx="153.0" cy="468.9" r="1.22"/><circle cx="197.2" cy="478.4" r="1.22"/><circle cx="192.6" cy="469.7" r="1.22"/><circle cx="165.3" cy="476.0" r="1.22"/><circle cx="162.6" cy="467.5" r="1.22"/><circle cx="169.3" cy="466.8" r="1.22"/><circle cx="154.6" cy="472.6" r="1.22"/><circle cx="175.7" cy="475.9" r="1.22"/><circle cx="170.9" cy="465.6" r="1.22"/><circle cx="157.1" cy="466.7" r="1.22"/><circle cx="190.4" cy="473.0" r="1.22"/><circle cx="160.2" cy="477.0" r="1.22"/><circle cx="189.1" cy="478.3" r="1.22"/><circle cx="161.5" cy="475.4" r="1.22"/><circle cx="153.8" cy="471.9" r="1.22"/><circle cx="190.1" cy="477.3" r="1.22"/><circle cx="178.9" cy="470.3" r="1.22"/><circle cx="160.4" cy="474.7" r="1.22"/><circle cx="164.3" cy="477.0" r="1.22"/><circle cx="141.6" cy="478.0" r="1.22"/><circle cx="148.4" cy="470.2" r="1.22"/><circle cx="150.4" cy="470.6" r="1.22"/><circle cx="174.4" cy="464.5" r="1.22"/><circle cx="154.4" cy="475.2" r="1.22"/><circle cx="152.4" cy="470.4" r="1.22"/><circle cx="181.3" cy="469.5" r="1.22"/><circle cx="168.2" cy="470.6" r="1.22"/><circle cx="183.9" cy="465.2" r="1.22"/><circle cx="158.3" cy="467.7" r="1.22"/><circle cx="160.8" cy="469.6" r="1.22"/><circle cx="147.7" cy="465.3" r="1.22"/><circle cx="194.0" cy="472.4" r="1.22"/><circle cx="170.9" cy="473.4" r="1.22"/><circle cx="192.5" cy="465.2" r="1.22"/><circle cx="148.8" cy="473.0" r="1.22"/><circle cx="184.3" cy="469.1" r="1.22"/><circle cx="180.2" cy="477.6" r="1.22"/><circle cx="146.3" cy="474.4" r="1.22"/><circle cx="194.0" cy="475.8" r="1.22"/><circle cx="143.0" cy="469.1" r="1.22"/><circle cx="180.4" cy="467.1" r="1.22"/><circle cx="153.2" cy="474.7" r="1.22"/><circle cx="194.4" cy="465.3" r="1.22"/><circle cx="187.8" cy="474.7" r="1.22"/><circle cx="167.3" cy="464.8" r="1.22"/><circle cx="150.5" cy="471.0" r="1.22"/><circle cx="192.4" cy="472.1" r="1.22"/><circle cx="198.9" cy="470.2" r="1.22"/><circle cx="170.2" cy="477.0" r="1.22"/><circle cx="145.6" cy="468.3" r="1.22"/><circle cx="160.4" cy="468.6" r="1.22"/><circle cx="147.0" cy="473.4" r="1.22"/><circle cx="141.2" cy="465.9" r="1.22"/><circle cx="150.3" cy="469.6" r="1.22"/><circle cx="167.4" cy="465.8" r="1.22"/><circle cx="172.7" cy="468.1" r="1.22"/><circle cx="158.7" cy="477.2" r="1.22"/><circle cx="185.7" cy="465.4" r="1.22"/><circle cx="158.9" cy="470.7" r="1.22"/><circle cx="161.0" cy="465.0" r="1.22"/><circle cx="177.5" cy="466.0" r="1.22"/><circle cx="162.7" cy="468.2" r="1.22"/><circle cx="169.9" cy="472.4" r="1.22"/><circle cx="161.0" cy="477.7" r="1.22"/><circle cx="180.3" cy="469.2" r="1.22"/><circle cx="165.9" cy="476.9" r="1.22"/><circle cx="159.5" cy="466.9" r="1.22"/><circle cx="170.7" cy="477.6" r="1.22"/><circle cx="159.5" cy="472.6" r="1.22"/><circle cx="157.8" cy="477.8" r="1.22"/><circle cx="180.4" cy="472.6" r="1.22"/><circle cx="175.6" cy="476.4" r="1.22"/><circle cx="177.0" cy="468.8" r="1.22"/><circle cx="184.8" cy="469.0" r="1.22"/><circle cx="199.5" cy="474.2" r="1.22"/><circle cx="189.8" cy="469.9" r="1.22"/><circle cx="197.1" cy="474.1" r="1.22"/><circle cx="163.8" cy="465.0" r="1.22"/><circle cx="192.9" cy="473.0" r="1.22"/><circle cx="165.8" cy="464.7" r="1.22"/><circle cx="161.6" cy="473.2" r="1.22"/><circle cx="158.7" cy="477.3" r="1.22"/><circle cx="162.3" cy="464.6" r="1.22"/><circle cx="189.5" cy="470.8" r="1.22"/><circle cx="137.9" cy="464.4" r="1.22"/><circle cx="193.3" cy="469.0" r="1.22"/><circle cx="166.3" cy="467.6" r="1.22"/><circle cx="177.3" cy="478.6" r="1.22"/><circle cx="142.0" cy="465.9" r="1.22"/><circle cx="154.5" cy="464.8" r="1.22"/><circle cx="187.7" cy="475.1" r="1.22"/><circle cx="188.1" cy="464.7" r="1.22"/><circle cx="173.5" cy="473.5" r="1.22"/><circle cx="174.7" cy="476.3" r="1.22"/><circle cx="170.2" cy="471.5" r="1.22"/><circle cx="166.2" cy="474.1" r="1.22"/><circle cx="189.4" cy="464.5" r="1.22"/><circle cx="161.9" cy="466.3" r="1.22"/><circle cx="168.3" cy="472.1" r="1.22"/><circle cx="157.1" cy="474.5" r="1.22"/><circle cx="146.6" cy="472.0" r="1.22"/><circle cx="182.3" cy="478.4" r="1.22"/><circle cx="183.9" cy="467.0" r="1.22"/><circle cx="182.1" cy="474.5" r="1.22"/><circle cx="180.7" cy="478.1" r="1.22"/><circle cx="164.0" cy="474.7" r="1.22"/><circle cx="145.7" cy="469.2" r="1.22"/><circle cx="192.8" cy="466.2" r="1.22"/><circle cx="173.8" cy="470.7" r="1.22"/><circle cx="148.8" cy="475.0" r="1.22"/><circle cx="179.9" cy="465.1" r="1.22"/><circle cx="173.3" cy="474.7" r="1.22"/><circle cx="171.0" cy="476.2" r="1.22"/><circle cx="177.9" cy="471.7" r="1.22"/><circle cx="154.6" cy="474.5" r="1.22"/><circle cx="178.6" cy="471.8" r="1.22"/><circle cx="165.1" cy="469.8" r="1.22"/><circle cx="145.0" cy="475.4" r="1.22"/><circle cx="193.4" cy="470.7" r="1.22"/><circle cx="145.9" cy="471.5" r="1.22"/><circle cx="160.8" cy="468.0" r="1.22"/><circle cx="198.1" cy="468.5" r="1.22"/><circle cx="189.1" cy="474.8" r="1.22"/><circle cx="153.5" cy="471.2" r="1.22"/><circle cx="151.8" cy="478.0" r="1.22"/><circle cx="195.2" cy="464.7" r="1.22"/><circle cx="164.2" cy="472.3" r="1.22"/><circle cx="197.5" cy="474.2" r="1.22"/><circle cx="152.7" cy="465.3" r="1.22"/><circle cx="161.2" cy="468.9" r="1.22"/><circle cx="147.8" cy="477.3" r="1.22"/><circle cx="177.3" cy="470.6" r="1.22"/><circle cx="150.7" cy="470.4" r="1.22"/><circle cx="164.4" cy="468.7" r="1.22"/><circle cx="164.7" cy="468.8" r="1.22"/><circle cx="170.5" cy="469.2" r="1.22"/><circle cx="176.3" cy="476.4" r="1.22"/><circle cx="171.6" cy="472.7" r="1.22"/><circle cx="180.6" cy="466.5" r="1.22"/><circle cx="159.3" cy="464.6" r="1.22"/><circle cx="185.2" cy="471.3" r="1.22"/><circle cx="181.1" cy="466.2" r="1.22"/><circle cx="181.9" cy="476.9" r="1.22"/><circle cx="168.5" cy="476.8" r="1.22"/><circle cx="162.1" cy="470.6" r="1.22"/><circle cx="185.2" cy="474.8" r="1.22"/><circle cx="199.4" cy="471.8" r="1.22"/><circle cx="183.5" cy="472.8" r="1.22"/><circle cx="162.9" cy="478.6" r="1.22"/><circle cx="172.4" cy="465.9" r="1.22"/><circle cx="172.2" cy="467.9" r="1.22"/><circle cx="185.6" cy="474.7" r="1.22"/><circle cx="154.1" cy="475.6" r="1.22"/><circle cx="138.1" cy="471.9" r="1.22"/><circle cx="151.6" cy="472.4" r="1.22"/><circle cx="183.4" cy="465.4" r="1.22"/><circle cx="150.8" cy="470.2" r="1.22"/><circle cx="184.8" cy="469.7" r="1.22"/><circle cx="173.7" cy="473.2" r="1.22"/><circle cx="177.4" cy="474.0" r="1.22"/><circle cx="144.9" cy="472.3" r="1.22"/><circle cx="195.0" cy="467.5" r="1.22"/><circle cx="182.9" cy="469.8" r="1.22"/><circle cx="180.3" cy="474.2" r="1.22"/><circle cx="150.0" cy="477.5" r="1.22"/><circle cx="163.8" cy="478.7" r="1.22"/><circle cx="158.0" cy="467.9" r="1.22"/><circle cx="167.3" cy="467.8" r="1.22"/><circle cx="182.9" cy="473.2" r="1.22"/><circle cx="162.1" cy="468.1" r="1.22"/><circle cx="166.6" cy="464.6" r="1.22"/><circle cx="191.3" cy="468.6" r="1.22"/><circle cx="195.8" cy="472.2" r="1.22"/><circle cx="145.0" cy="477.0" r="1.22"/><circle cx="188.8" cy="477.6" r="1.22"/><circle cx="150.8" cy="466.3" r="1.22"/><circle cx="177.6" cy="469.7" r="1.22"/><circle cx="181.6" cy="473.2" r="1.22"/><circle cx="162.7" cy="475.6" r="1.22"/><circle cx="147.8" cy="475.4" r="1.22"/><circle cx="164.0" cy="467.3" r="1.22"/><circle cx="144.9" cy="469.7" r="1.22"/><circle cx="172.0" cy="468.2" r="1.22"/><circle cx="146.4" cy="470.6" r="1.22"/><circle cx="145.8" cy="466.6" r="1.22"/><circle cx="150.7" cy="472.5" r="1.22"/><circle cx="185.8" cy="477.7" r="1.22"/><circle cx="181.0" cy="470.5" r="1.22"/><circle cx="164.0" cy="468.2" r="1.22"/><circle cx="191.7" cy="477.4" r="1.22"/><circle cx="189.3" cy="466.4" r="1.22"/><circle cx="163.1" cy="468.9" r="1.22"/><circle cx="151.7" cy="472.1" r="1.22"/><circle cx="171.2" cy="468.1" r="1.22"/><circle cx="176.5" cy="475.7" r="1.22"/><circle cx="191.8" cy="466.3" r="1.22"/><circle cx="172.5" cy="465.9" r="1.22"/><circle cx="181.4" cy="468.3" r="1.22"/><circle cx="151.8" cy="477.6" r="1.22"/><circle cx="158.5" cy="467.6" r="1.22"/><circle cx="165.8" cy="468.8" r="1.22"/><circle cx="174.7" cy="465.0" r="1.22"/><circle cx="143.6" cy="466.5" r="1.22"/><circle cx="171.0" cy="473.4" r="1.22"/><circle cx="192.7" cy="475.5" r="1.22"/><circle cx="143.4" cy="477.8" r="1.22"/><circle cx="173.8" cy="472.3" r="1.22"/><circle cx="163.8" cy="471.3" r="1.22"/><circle cx="181.7" cy="477.3" r="1.22"/><circle cx="169.2" cy="469.8" r="1.22"/><circle cx="137.2" cy="472.2" r="1.22"/><circle cx="185.5" cy="464.7" r="1.22"/><circle cx="182.2" cy="476.7" r="1.22"/><circle cx="172.2" cy="471.9" r="1.22"/><circle cx="185.4" cy="478.2" r="1.22"/><circle cx="139.6" cy="473.0" r="1.22"/><circle cx="179.3" cy="477.7" r="1.22"/><circle cx="148.9" cy="472.1" r="1.22"/><circle cx="158.5" cy="470.1" r="1.22"/><circle cx="192.5" cy="474.4" r="1.22"/><circle cx="172.3" cy="477.6" r="1.22"/><circle cx="152.4" cy="467.2" r="1.22"/><circle cx="180.9" cy="469.7" r="1.22"/><circle cx="143.5" cy="469.3" r="1.22"/><circle cx="171.2" cy="464.4" r="1.22"/><circle cx="138.9" cy="476.9" r="1.22"/><circle cx="141.6" cy="470.5" r="1.22"/><circle cx="189.3" cy="478.2" r="1.22"/><circle cx="141.8" cy="465.2" r="1.22"/><circle cx="174.5" cy="474.8" r="1.22"/><circle cx="194.5" cy="478.2" r="1.22"/><circle cx="193.8" cy="475.5" r="1.22"/><circle cx="194.7" cy="470.0" r="1.22"/><circle cx="185.3" cy="477.6" r="1.22"/><circle cx="163.7" cy="466.8" r="1.22"/><circle cx="153.6" cy="468.2" r="1.22"/><circle cx="193.4" cy="472.6" r="1.22"/><circle cx="155.3" cy="466.1" r="1.22"/><circle cx="189.0" cy="478.3" r="1.22"/><circle cx="153.9" cy="470.7" r="1.22"/><circle cx="159.5" cy="476.2" r="1.22"/><circle cx="179.4" cy="465.9" r="1.22"/><circle cx="147.7" cy="467.1" r="1.22"/><circle cx="172.5" cy="467.5" r="1.22"/><circle cx="192.1" cy="464.4" r="1.22"/><circle cx="136.6" cy="464.8" r="1.22"/><circle cx="171.7" cy="471.2" r="1.22"/><circle cx="175.6" cy="467.5" r="1.22"/><circle cx="189.7" cy="476.1" r="1.22"/><circle cx="195.6" cy="469.7" r="1.22"/><circle cx="170.8" cy="475.7" r="1.22"/><circle cx="146.8" cy="470.9" r="1.22"/><circle cx="170.8" cy="469.2" r="1.22"/><circle cx="136.3" cy="477.0" r="1.22"/><circle cx="142.1" cy="473.0" r="1.22"/><circle cx="189.7" cy="473.2" r="1.22"/><circle cx="197.0" cy="472.5" r="1.22"/><circle cx="157.7" cy="474.9" r="1.22"/><circle cx="179.5" cy="469.9" r="1.22"/><circle cx="181.8" cy="467.7" r="1.22"/><circle cx="142.4" cy="466.8" r="1.22"/><circle cx="154.1" cy="469.7" r="1.22"/><circle cx="162.7" cy="472.0" r="1.22"/><circle cx="171.1" cy="472.3" r="1.22"/><circle cx="188.1" cy="471.8" r="1.22"/><circle cx="158.5" cy="467.5" r="1.22"/><circle cx="141.7" cy="465.0" r="1.22"/><circle cx="162.6" cy="466.0" r="1.22"/><circle cx="184.4" cy="473.4" r="1.22"/><circle cx="163.5" cy="474.2" r="1.22"/><circle cx="143.7" cy="468.2" r="1.22"/><circle cx="183.8" cy="467.6" r="1.22"/><circle cx="138.2" cy="466.1" r="1.22"/><circle cx="152.1" cy="465.1" r="1.22"/><circle cx="162.3" cy="474.2" r="1.22"/><circle cx="186.1" cy="469.0" r="1.22"/><circle cx="141.4" cy="464.4" r="1.22"/><circle cx="153.2" cy="477.3" r="1.22"/><circle cx="142.4" cy="477.2" r="1.22"/><circle cx="173.6" cy="465.4" r="1.22"/><circle cx="139.6" cy="473.3" r="1.22"/><circle cx="139.7" cy="476.2" r="1.22"/><circle cx="136.2" cy="470.3" r="1.22"/><circle cx="175.0" cy="474.2" r="1.22"/><circle cx="163.8" cy="473.4" r="1.22"/><circle cx="165.4" cy="472.0" r="1.22"/><circle cx="173.5" cy="471.3" r="1.22"/><circle cx="167.5" cy="473.0" r="1.22"/><circle cx="199.9" cy="471.5" r="1.22"/><circle cx="198.4" cy="472.4" r="1.22"/><circle cx="155.5" cy="470.4" r="1.22"/><circle cx="163.3" cy="468.1" r="1.22"/><circle cx="166.8" cy="465.9" r="1.22"/><circle cx="178.2" cy="467.2" r="1.22"/><circle cx="151.9" cy="471.2" r="1.22"/><circle cx="179.2" cy="472.9" r="1.22"/><circle cx="174.7" cy="465.2" r="1.22"/><circle cx="168.5" cy="474.6" r="1.22"/><circle cx="164.5" cy="466.3" r="1.22"/><circle cx="177.4" cy="470.1" r="1.22"/><circle cx="141.5" cy="474.6" r="1.22"/><circle cx="185.3" cy="477.2" r="1.22"/><circle cx="160.9" cy="467.3" r="1.22"/><circle cx="193.0" cy="465.6" r="1.22"/><circle cx="154.3" cy="471.3" r="1.22"/><circle cx="137.6" cy="472.0" r="1.22"/><circle cx="152.9" cy="472.6" r="1.22"/><circle cx="195.7" cy="476.8" r="1.22"/><circle cx="191.9" cy="465.2" r="1.22"/><circle cx="155.9" cy="470.4" r="1.22"/><circle cx="149.9" cy="476.9" r="1.22"/><circle cx="178.7" cy="471.2" r="1.22"/><circle cx="191.8" cy="473.5" r="1.22"/><circle cx="150.9" cy="475.9" r="1.22"/><circle cx="196.7" cy="471.7" r="1.22"/><circle cx="156.6" cy="478.2" r="1.22"/><circle cx="198.1" cy="477.5" r="1.22"/><circle cx="167.3" cy="477.5" r="1.22"/><circle cx="163.6" cy="475.9" r="1.22"/><circle cx="154.2" cy="474.4" r="1.22"/><circle cx="146.5" cy="467.2" r="1.22"/><circle cx="142.8" cy="478.8" r="1.22"/><circle cx="188.5" cy="475.2" r="1.22"/><circle cx="180.0" cy="471.9" r="1.22"/><circle cx="144.2" cy="469.3" r="1.22"/><circle cx="158.9" cy="467.9" r="1.22"/><circle cx="151.2" cy="475.7" r="1.22"/><circle cx="195.7" cy="467.2" r="1.22"/><circle cx="167.2" cy="476.0" r="1.22"/><circle cx="150.6" cy="472.9" r="1.22"/><circle cx="136.7" cy="475.1" r="1.22"/><circle cx="178.7" cy="472.6" r="1.22"/><circle cx="169.8" cy="465.6" r="1.22"/><circle cx="183.5" cy="470.7" r="1.22"/><circle cx="185.2" cy="474.4" r="1.22"/><circle cx="187.7" cy="465.0" r="1.22"/><circle cx="196.3" cy="475.6" r="1.22"/><circle cx="183.2" cy="472.8" r="1.22"/><circle cx="141.7" cy="469.3" r="1.22"/><circle cx="160.1" cy="476.1" r="1.22"/><circle cx="177.0" cy="475.1" r="1.22"/><circle cx="147.9" cy="473.1" r="1.22"/><circle cx="185.0" cy="478.6" r="1.22"/><circle cx="180.5" cy="472.9" r="1.22"/><circle cx="172.3" cy="468.8" r="1.22"/><circle cx="187.1" cy="478.3" r="1.22"/><circle cx="179.9" cy="470.1" r="1.22"/><circle cx="181.1" cy="478.0" r="1.22"/><circle cx="183.8" cy="468.4" r="1.22"/><circle cx="138.9" cy="470.6" r="1.22"/><circle cx="161.2" cy="471.5" r="1.22"/><circle cx="193.5" cy="475.1" r="1.22"/><circle cx="184.6" cy="473.0" r="1.22"/><circle cx="152.0" cy="472.8" r="1.22"/><circle cx="197.9" cy="469.5" r="1.22"/><circle cx="194.0" cy="469.3" r="1.22"/><circle cx="177.6" cy="467.1" r="1.22"/><circle cx="192.6" cy="476.0" r="1.22"/><circle cx="149.7" cy="467.8" r="1.22"/><circle cx="187.3" cy="470.1" r="1.22"/><circle cx="160.6" cy="467.4" r="1.22"/><circle cx="180.2" cy="465.9" r="1.22"/><circle cx="160.7" cy="478.7" r="1.22"/><circle cx="160.7" cy="478.4" r="1.22"/><circle cx="182.1" cy="470.1" r="1.22"/><circle cx="150.4" cy="471.2" r="1.22"/><circle cx="177.0" cy="471.3" r="1.22"/><circle cx="147.1" cy="469.4" r="1.22"/><circle cx="178.6" cy="470.2" r="1.22"/><circle cx="160.5" cy="467.4" r="1.22"/><circle cx="175.8" cy="466.4" r="1.22"/><circle cx="198.5" cy="469.7" r="1.22"/><circle cx="170.5" cy="469.1" r="1.22"/><circle cx="159.4" cy="471.4" r="1.22"/><circle cx="164.0" cy="466.1" r="1.22"/><circle cx="166.1" cy="466.8" r="1.22"/><circle cx="169.6" cy="472.0" r="1.22"/><circle cx="167.9" cy="470.5" r="1.22"/><circle cx="198.8" cy="464.5" r="1.22"/><circle cx="172.4" cy="469.9" r="1.22"/><circle cx="161.5" cy="467.9" r="1.22"/><circle cx="186.7" cy="468.4" r="1.22"/><circle cx="172.1" cy="466.3" r="1.22"/><circle cx="182.9" cy="478.7" r="1.22"/><circle cx="194.2" cy="468.2" r="1.22"/><circle cx="143.0" cy="465.9" r="1.22"/><circle cx="180.0" cy="474.6" r="1.22"/><circle cx="139.4" cy="476.9" r="1.22"/><circle cx="169.0" cy="478.4" r="1.22"/><circle cx="186.2" cy="474.6" r="1.22"/><circle cx="160.7" cy="468.9" r="1.22"/><circle cx="150.5" cy="468.3" r="1.22"/><circle cx="148.1" cy="469.9" r="1.22"/><circle cx="171.9" cy="474.2" r="1.22"/><circle cx="146.0" cy="477.8" r="1.22"/><circle cx="189.7" cy="476.4" r="1.22"/><circle cx="177.1" cy="469.8" r="1.22"/><circle cx="180.7" cy="478.1" r="1.22"/><circle cx="186.6" cy="478.5" r="1.22"/><circle cx="158.0" cy="464.4" r="1.22"/><circle cx="187.1" cy="471.6" r="1.22"/><circle cx="164.2" cy="473.6" r="1.22"/><circle cx="186.4" cy="467.9" r="1.22"/><circle cx="185.3" cy="464.6" r="1.22"/><circle cx="155.6" cy="468.4" r="1.22"/><circle cx="154.5" cy="477.2" r="1.22"/><circle cx="187.8" cy="474.0" r="1.22"/><circle cx="137.8" cy="469.8" r="1.22"/><circle cx="176.6" cy="465.0" r="1.22"/><circle cx="190.6" cy="465.2" r="1.22"/><circle cx="141.5" cy="468.5" r="1.22"/><circle cx="173.0" cy="468.5" r="1.22"/><circle cx="169.0" cy="472.8" r="1.22"/><circle cx="143.0" cy="464.4" r="1.22"/><circle cx="195.1" cy="472.4" r="1.22"/><circle cx="148.1" cy="468.2" r="1.22"/><circle cx="177.0" cy="476.6" r="1.22"/><circle cx="198.3" cy="472.3" r="1.22"/><circle cx="158.5" cy="471.7" r="1.22"/><circle cx="198.3" cy="475.2" r="1.22"/><circle cx="156.7" cy="468.2" r="1.22"/><circle cx="182.0" cy="468.9" r="1.22"/><circle cx="164.7" cy="465.8" r="1.22"/><circle cx="194.1" cy="470.1" r="1.22"/><circle cx="178.9" cy="477.8" r="1.22"/><circle cx="149.2" cy="470.6" r="1.22"/><circle cx="173.5" cy="465.7" r="1.22"/><circle cx="168.4" cy="475.8" r="1.22"/><circle cx="183.0" cy="466.2" r="1.22"/><circle cx="162.2" cy="465.0" r="1.22"/><circle cx="185.0" cy="472.5" r="1.22"/><circle cx="153.1" cy="478.1" r="1.22"/><circle cx="175.7" cy="473.1" r="1.22"/><circle cx="172.1" cy="465.3" r="1.22"/><circle cx="160.2" cy="473.0" r="1.22"/><circle cx="161.2" cy="467.7" r="1.22"/><circle cx="153.2" cy="474.8" r="1.22"/><circle cx="163.5" cy="475.0" r="1.22"/><circle cx="145.5" cy="467.7" r="1.22"/><circle cx="187.6" cy="477.6" r="1.22"/><circle cx="191.2" cy="466.7" r="1.22"/><circle cx="194.5" cy="468.6" r="1.22"/><circle cx="187.3" cy="467.9" r="1.22"/><circle cx="180.0" cy="466.4" r="1.22"/><circle cx="190.5" cy="467.9" r="1.22"/><circle cx="163.3" cy="469.7" r="1.22"/><circle cx="152.5" cy="478.1" r="1.22"/><circle cx="142.1" cy="471.4" r="1.22"/><circle cx="199.0" cy="464.5" r="1.22"/><circle cx="177.1" cy="467.4" r="1.22"/><circle cx="144.7" cy="478.7" r="1.22"/><circle cx="197.8" cy="477.4" r="1.22"/><circle cx="180.1" cy="477.4" r="1.22"/><circle cx="153.5" cy="466.3" r="1.22"/><circle cx="193.6" cy="471.8" r="1.22"/><circle cx="147.7" cy="475.3" r="1.22"/><circle cx="171.6" cy="472.1" r="1.22"/><circle cx="193.9" cy="475.0" r="1.22"/><circle cx="174.4" cy="469.2" r="1.22"/><circle cx="165.6" cy="468.1" r="1.22"/><circle cx="159.8" cy="473.7" r="1.22"/><circle cx="203.9" cy="475.4" r="1.22"/><circle cx="203.3" cy="470.0" r="1.22"/><circle cx="201.1" cy="475.9" r="1.22"/><circle cx="207.7" cy="466.7" r="1.22"/><circle cx="200.0" cy="466.5" r="1.22"/><circle cx="201.4" cy="473.3" r="1.22"/><circle cx="200.5" cy="470.6" r="1.22"/><circle cx="201.4" cy="472.0" r="1.22"/><circle cx="202.8" cy="465.9" r="1.22"/><circle cx="202.8" cy="465.6" r="1.22"/><circle cx="204.0" cy="472.9" r="1.22"/><circle cx="201.0" cy="465.6" r="1.22"/><circle cx="201.1" cy="472.0" r="1.22"/><circle cx="201.4" cy="466.1" r="1.22"/><circle cx="207.2" cy="474.1" r="1.22"/><circle cx="206.4" cy="472.8" r="1.22"/><circle cx="202.7" cy="474.3" r="1.22"/><circle cx="200.6" cy="466.4" r="1.22"/><circle cx="203.8" cy="471.4" r="1.22"/><circle cx="205.2" cy="469.1" r="1.22"/><circle cx="200.4" cy="477.6" r="1.22"/><circle cx="204.4" cy="475.4" r="1.22"/><circle cx="207.6" cy="476.0" r="1.22"/><circle cx="201.1" cy="474.6" r="1.22"/><circle cx="206.2" cy="466.9" r="1.22"/><circle cx="205.3" cy="471.5" r="1.22"/><circle cx="202.2" cy="473.8" r="1.22"/><circle cx="205.1" cy="465.3" r="1.22"/><circle cx="207.2" cy="477.5" r="1.22"/><circle cx="204.9" cy="477.2" r="1.22"/><circle cx="206.0" cy="465.0" r="1.22"/><circle cx="200.2" cy="476.6" r="1.22"/><circle cx="203.1" cy="470.8" r="1.22"/><circle cx="206.7" cy="466.3" r="1.22"/><circle cx="201.6" cy="475.1" r="1.22"/><circle cx="202.0" cy="470.3" r="1.22"/><circle cx="201.5" cy="466.4" r="1.22"/><circle cx="207.0" cy="470.4" r="1.22"/><circle cx="203.0" cy="467.6" r="1.22"/><circle cx="203.4" cy="477.5" r="1.22"/><circle cx="206.9" cy="472.6" r="1.22"/><circle cx="204.1" cy="473.1" r="1.22"/><circle cx="207.8" cy="477.4" r="1.22"/><circle cx="206.0" cy="476.6" r="1.22"/><circle cx="202.3" cy="472.7" r="1.22"/><circle cx="207.8" cy="476.6" r="1.22"/><circle cx="202.4" cy="477.2" r="1.22"/><circle cx="207.1" cy="476.5" r="1.22"/><circle cx="205.1" cy="467.2" r="1.22"/><circle cx="207.6" cy="468.8" r="1.22"/><circle cx="201.9" cy="467.0" r="1.22"/><circle cx="206.1" cy="469.3" r="1.22"/><circle cx="207.8" cy="472.8" r="1.22"/><circle cx="202.2" cy="465.3" r="1.22"/><circle cx="205.4" cy="478.2" r="1.22"/><circle cx="202.6" cy="464.8" r="1.22"/><circle cx="207.5" cy="477.6" r="1.22"/><circle cx="205.9" cy="475.1" r="1.22"/><circle cx="203.0" cy="477.2" r="1.22"/><circle cx="205.3" cy="465.4" r="1.22"/><circle cx="205.2" cy="467.8" r="1.22"/><circle cx="200.4" cy="475.2" r="1.22"/><circle cx="202.2" cy="475.0" r="1.22"/><circle cx="205.1" cy="466.4" r="1.22"/><circle cx="204.2" cy="465.6" r="1.22"/><circle cx="202.5" cy="472.0" r="1.22"/><circle cx="200.3" cy="475.6" r="1.22"/><circle cx="202.5" cy="477.4" r="1.22"/><circle cx="206.5" cy="467.4" r="1.22"/><circle cx="207.6" cy="464.8" r="1.22"/><circle cx="207.9" cy="467.0" r="1.22"/><circle cx="207.1" cy="473.6" r="1.22"/><circle cx="200.2" cy="475.8" r="1.22"/><circle cx="200.1" cy="465.4" r="1.22"/><circle cx="204.7" cy="475.7" r="1.22"/><circle cx="203.6" cy="477.6" r="1.22"/><circle cx="213.8" cy="469.6" r="1.22"/><circle cx="212.8" cy="477.9" r="1.22"/><circle cx="210.0" cy="468.1" r="1.22"/><circle cx="212.3" cy="470.5" r="1.22"/><circle cx="208.8" cy="467.4" r="1.22"/><circle cx="209.4" cy="464.4" r="1.22"/><circle cx="210.1" cy="468.1" r="1.22"/><circle cx="212.8" cy="470.8" r="1.22"/><circle cx="212.1" cy="474.0" r="1.22"/><circle cx="210.4" cy="465.9" r="1.22"/><circle cx="211.2" cy="467.8" r="1.22"/><circle cx="208.5" cy="470.0" r="1.22"/><circle cx="209.8" cy="476.3" r="1.22"/><circle cx="213.0" cy="472.9" r="1.22"/><circle cx="209.2" cy="467.6" r="1.22"/><circle cx="209.2" cy="464.7" r="1.22"/><circle cx="213.2" cy="464.7" r="1.22"/><circle cx="213.1" cy="469.4" r="1.22"/><circle cx="212.2" cy="469.1" r="1.22"/><circle cx="208.9" cy="474.7" r="1.22"/><circle cx="213.4" cy="467.6" r="1.22"/><circle cx="211.1" cy="471.4" r="1.22"/><circle cx="211.0" cy="466.1" r="1.22"/><circle cx="208.8" cy="476.1" r="1.22"/><circle cx="211.4" cy="477.8" r="1.22"/><circle cx="209.8" cy="470.9" r="1.22"/><circle cx="211.3" cy="477.2" r="1.22"/><circle cx="210.1" cy="466.9" r="1.22"/><circle cx="209.5" cy="478.5" r="1.22"/><circle cx="210.7" cy="467.6" r="1.22"/><circle cx="213.3" cy="470.2" r="1.22"/><circle cx="214.0" cy="470.5" r="1.22"/><circle cx="213.0" cy="467.3" r="1.22"/><circle cx="210.9" cy="468.1" r="1.22"/><circle cx="212.6" cy="473.4" r="1.22"/><circle cx="209.8" cy="475.7" r="1.22"/><circle cx="217.0" cy="471.6" r="1.22"/><circle cx="214.9" cy="476.6" r="1.22"/><circle cx="214.1" cy="470.2" r="1.22"/><circle cx="215.4" cy="466.1" r="1.22"/><circle cx="215.6" cy="478.3" r="1.22"/><circle cx="216.9" cy="465.2" r="1.22"/><circle cx="218.6" cy="475.5" r="1.22"/><circle cx="215.0" cy="466.4" r="1.22"/><circle cx="216.7" cy="472.6" r="1.22"/><circle cx="217.6" cy="466.3" r="1.22"/><circle cx="216.6" cy="470.8" r="1.22"/><circle cx="215.8" cy="466.1" r="1.22"/><circle cx="216.6" cy="477.6" r="1.22"/><circle cx="216.7" cy="468.2" r="1.22"/><circle cx="219.6" cy="468.3" r="1.22"/><circle cx="220.2" cy="470.1" r="1.22"/><circle cx="222.2" cy="476.8" r="1.22"/><circle cx="219.8" cy="470.7" r="1.22"/><circle cx="223.0" cy="468.1" r="1.22"/></g>
<g fill="#000"><circle cx="124.0" cy="478.5" r="1.22"/><circle cx="126.5" cy="472.0" r="1.22"/><circle cx="129.0" cy="476.0" r="1.22"/><circle cx="224.6" cy="471.7" r="1.22"/><circle cx="233.0" cy="464.4" r="1.22"/><circle cx="232.0" cy="476.0" r="1.22"/><circle cx="251.8" cy="469.6" r="1.22"/><circle cx="249.7" cy="477.0" r="1.22"/><circle cx="221.0" cy="468.0" r="1.22"/><circle cx="227.0" cy="475.0" r="1.22"/><circle cx="219.0" cy="478.0" r="1.22"/></g>
<text x="71.6" y="389.1" font-size="6.42" text-anchor="end" fill="#141414" stroke="#141414" stroke-width="0.22">Human Proteome</text>
<text x="71.6" y="425.9" font-size="6.42" text-anchor="end" fill="#141414" stroke="#141414" stroke-width="0.22">In- solution_Kidney</text>
<text x="71.6" y="462.4" font-size="6.42" text-anchor="end" fill="#141414" stroke="#141414" stroke-width="0.22">In- gel_Kidney</text>
<text x="141.3" y="492.8" font-size="6.80" text-anchor="middle" fill="#3a3a3a" stroke="#3a3a3a" stroke-width="0.22">5</text>
<text x="226.8" y="492.8" font-size="6.80" text-anchor="middle" fill="#3a3a3a" stroke="#3a3a3a" stroke-width="0.22">10</text>
<text x="65.6" y="269.8" font-size="12.20" text-anchor="start" fill="#1a1a1a" >(C<tspan dx="0.9">)</tspan></text>
<text x="96.6" y="270.3" font-size="12.25" text-anchor="start" fill="#1a1a1a" >Isoelectric point of Kidney Proteome</text>
<line x1="479.2" y1="284.6" x2="479.2" y2="490.0" stroke="#ebebeb" stroke-width="0.8"/>
<line x1="563.0" y1="284.6" x2="563.0" y2="490.0" stroke="#ebebeb" stroke-width="0.8"/>
<line x1="408.3" y1="394.80" x2="645.0" y2="394.80" stroke="#ebebeb" stroke-width="0.8"/>
<line x1="408.3" y1="431.20" x2="645.0" y2="431.20" stroke="#ebebeb" stroke-width="0.8"/>
<line x1="408.3" y1="468.00" x2="645.0" y2="468.00" stroke="#ebebeb" stroke-width="0.8"/>
<path d="M420.30,394.80 C426.20,394.73 436.00,394.77 438.00,394.60 C439.33,394.49 440.68,394.42 442.00,394.20 C443.21,394.00 444.45,393.80 445.60,393.40 C447.16,392.85 448.65,391.95 450.00,391.00 C452.03,389.58 453.91,387.53 455.50,385.50 C456.71,383.95 457.69,382.20 458.70,380.50 C459.65,378.90 460.65,377.30 461.40,375.60 C462.47,373.19 462.96,370.54 463.70,368.00 C464.28,366.00 464.85,364.00 465.40,362.00 C466.13,359.34 466.83,356.67 467.50,354.00 C468.24,351.04 468.86,348.06 469.60,345.10 C470.36,342.06 471.03,338.98 472.00,336.00 C472.74,333.74 473.28,331.31 474.50,329.30 C475.55,327.57 476.94,325.66 478.50,324.60 C479.54,323.90 480.77,323.22 482.00,323.00 C483.12,322.80 484.34,323.25 485.50,323.20 C487.24,323.13 489.30,322.81 491.00,322.10 C492.24,321.58 493.29,320.60 494.50,320.00 C495.59,319.46 496.74,318.64 497.90,318.60 C498.81,318.57 499.86,318.90 500.70,319.30 C501.95,319.90 503.08,321.55 504.10,322.80 C505.47,324.48 506.37,326.51 507.60,328.30 C508.90,330.18 510.19,332.09 511.70,333.80 C512.99,335.26 514.31,336.80 515.90,337.90 C517.15,338.76 518.64,339.96 520.00,340.00 C520.90,340.03 521.96,339.69 522.80,339.30 C524.06,338.72 525.33,335.92 526.90,334.60 C528.33,333.40 529.96,331.83 531.70,331.60 C533.02,331.43 534.62,331.86 535.90,332.40 C537.44,333.04 538.69,334.40 540.00,335.50 C541.21,336.51 542.15,337.94 543.50,338.70 C544.69,339.37 546.14,339.66 547.50,340.00 C548.78,340.32 550.15,340.33 551.40,340.70 C553.28,341.26 555.59,342.40 557.30,343.70 C559.87,345.65 561.52,348.83 563.30,351.60 C565.66,355.29 567.87,360.61 569.20,363.40 C570.08,365.26 570.89,367.16 571.80,369.00 C572.84,371.10 573.89,373.20 575.10,375.20 C576.15,376.95 577.12,378.83 578.50,380.30 C579.79,381.67 581.34,382.92 583.00,383.80 C584.53,384.61 586.33,384.94 588.00,385.50 C589.60,386.04 591.21,386.54 592.80,387.10 C594.54,387.71 596.31,388.27 598.00,389.00 C599.71,389.74 601.31,390.72 603.00,391.50 C605.16,392.49 607.31,393.66 609.60,394.20 C611.35,394.61 613.20,394.64 615.00,394.80 C617.70,395.03 628.07,394.80 634.60,394.80 L634.60,394.80 L420.30,394.80 Z" fill="rgb(31,172,149)" fill-opacity="0.8" stroke="none"/>
<path d="M420.30,394.80 C426.20,394.73 436.00,394.77 438.00,394.60 C439.33,394.49 440.68,394.42 442.00,394.20 C443.21,394.00 444.45,393.80 445.60,393.40 C447.16,392.85 448.65,391.95 450.00,391.00 C452.03,389.58 453.91,387.53 455.50,385.50 C456.71,383.95 457.69,382.20 458.70,380.50 C459.65,378.90 460.65,377.30 461.40,375.60 C462.47,373.19 462.96,370.54 463.70,368.00 C464.28,366.00 464.85,364.00 465.40,362.00 C466.13,359.34 466.83,356.67 467.50,354.00 C468.24,351.04 468.86,348.06 469.60,345.10 C470.36,342.06 471.03,338.98 472.00,336.00 C472.74,333.74 473.28,331.31 474.50,329.30 C475.55,327.57 476.94,325.66 478.50,324.60 C479.54,323.90 480.77,323.22 482.00,323.00 C483.12,322.80 484.34,323.25 485.50,323.20 C487.24,323.13 489.30,322.81 491.00,322.10 C492.24,321.58 493.29,320.60 494.50,320.00 C495.59,319.46 496.74,318.64 497.90,318.60 C498.81,318.57 499.86,318.90 500.70,319.30 C501.95,319.90 503.08,321.55 504.10,322.80 C505.47,324.48 506.37,326.51 507.60,328.30 C508.90,330.18 510.19,332.09 511.70,333.80 C512.99,335.26 514.31,336.80 515.90,337.90 C517.15,338.76 518.64,339.96 520.00,340.00 C520.90,340.03 521.96,339.69 522.80,339.30 C524.06,338.72 525.33,335.92 526.90,334.60 C528.33,333.40 529.96,331.83 531.70,331.60 C533.02,331.43 534.62,331.86 535.90,332.40 C537.44,333.04 538.69,334.40 540.00,335.50 C541.21,336.51 542.15,337.94 543.50,338.70 C544.69,339.37 546.14,339.66 547.50,340.00 C548.78,340.32 550.15,340.33 551.40,340.70 C553.28,341.26 555.59,342.40 557.30,343.70 C559.87,345.65 561.52,348.83 563.30,351.60 C565.66,355.29 567.87,360.61 569.20,363.40 C570.08,365.26 570.89,367.16 571.80,369.00 C572.84,371.10 573.89,373.20 575.10,375.20 C576.15,376.95 577.12,378.83 578.50,380.30 C579.79,381.67 581.34,382.92 583.00,383.80 C584.53,384.61 586.33,384.94 588.00,385.50 C589.60,386.04 591.21,386.54 592.80,387.10 C594.54,387.71 596.31,388.27 598.00,389.00 C599.71,389.74 601.31,390.72 603.00,391.50 C605.16,392.49 607.31,393.66 609.60,394.20 C611.35,394.61 613.20,394.64 615.00,394.80 C617.70,395.03 628.07,394.80 634.60,394.80" fill="none" stroke="#111" stroke-width="0.95" stroke-linejoin="round"/>
<rect x="445" y="396" width="162" height="16" fill="#000"/>
<g fill="#000"><circle cx="444.4" cy="407.2" r="1.22"/><circle cx="444.4" cy="410.9" r="1.22"/><circle cx="443.7" cy="409.6" r="1.22"/><circle cx="443.8" cy="410.5" r="1.22"/><circle cx="444.8" cy="399.1" r="1.22"/><circle cx="445.0" cy="402.2" r="1.22"/><circle cx="445.2" cy="401.6" r="1.22"/><circle cx="445.3" cy="403.7" r="1.22"/><circle cx="445.9" cy="410.5" r="1.22"/><circle cx="445.8" cy="396.9" r="1.22"/><circle cx="444.6" cy="409.0" r="1.22"/><circle cx="445.0" cy="407.8" r="1.22"/><circle cx="445.3" cy="398.5" r="1.22"/><circle cx="445.3" cy="407.1" r="1.22"/><circle cx="445.9" cy="408.8" r="1.22"/></g>
<g fill="#000"><circle cx="606.5" cy="401.6" r="1.22"/><circle cx="607.2" cy="397.6" r="1.22"/><circle cx="606.7" cy="396.8" r="1.22"/><circle cx="606.1" cy="403.2" r="1.22"/><circle cx="606.0" cy="409.9" r="1.22"/><circle cx="607.0" cy="397.3" r="1.22"/><circle cx="606.2" cy="406.3" r="1.22"/><circle cx="606.4" cy="406.0" r="1.22"/><circle cx="607.4" cy="411.3" r="1.22"/><circle cx="606.8" cy="399.3" r="1.22"/><circle cx="606.3" cy="398.7" r="1.22"/><circle cx="606.3" cy="402.7" r="1.22"/><circle cx="607.9" cy="400.1" r="1.22"/><circle cx="607.9" cy="399.1" r="1.22"/><circle cx="607.6" cy="396.6" r="1.22"/><circle cx="608.5" cy="403.6" r="1.22"/><circle cx="608.0" cy="402.9" r="1.22"/><circle cx="608.0" cy="398.9" r="1.22"/><circle cx="607.7" cy="401.5" r="1.22"/></g>
<g fill="#000"><circle cx="438.7" cy="408.8" r="1.22"/><circle cx="441.0" cy="404.0" r="1.22"/><circle cx="442.0" cy="398.0" r="1.22"/><circle cx="611.0" cy="398.0" r="1.22"/><circle cx="613.0" cy="401.0" r="1.22"/><circle cx="615.0" cy="404.0" r="1.22"/><circle cx="617.0" cy="399.0" r="1.22"/><circle cx="612.0" cy="407.0" r="1.22"/><circle cx="614.0" cy="396.0" r="1.22"/></g>
<path d="M420.30,431.20 C430.20,431.20 446.25,431.44 450.00,431.20 C452.50,431.04 455.02,430.94 457.50,430.60 C459.34,430.35 461.29,430.27 463.00,429.60 C464.53,429.00 466.08,428.09 467.30,427.00 C468.91,425.56 469.88,423.40 471.00,421.50 C472.20,419.45 473.31,417.30 474.20,415.10 C475.51,411.88 476.22,408.40 477.00,405.00 C477.84,401.37 478.29,397.66 479.00,394.00 C479.81,389.82 480.64,385.65 481.60,381.50 C482.52,377.55 483.65,373.64 484.60,369.70 C485.62,365.48 486.58,361.24 487.50,357.00 C488.30,353.34 489.09,349.68 489.80,346.00 C490.64,341.68 491.31,337.33 492.10,333.00 C492.78,329.26 493.47,324.97 494.20,321.80 C494.68,319.69 495.29,317.61 495.80,315.50 C496.55,312.41 497.13,309.28 497.90,306.20 C498.69,303.05 499.43,299.86 500.50,296.80 C501.34,294.39 502.46,291.31 503.40,289.70 C504.03,288.63 504.59,287.40 505.50,286.60 C506.11,286.07 506.89,285.32 507.60,285.30 C508.29,285.28 509.11,285.92 509.70,286.40 C510.58,287.13 511.12,288.56 511.70,289.70 C512.57,291.41 513.67,296.07 514.50,299.30 C515.56,303.39 516.33,307.56 517.20,311.70 C518.17,316.29 519.07,320.90 520.00,325.50 C520.70,329.00 521.26,334.29 522.10,336.00 C522.66,337.14 523.22,338.41 524.10,339.30 C525.03,340.24 526.59,340.52 527.60,341.40 C528.68,342.33 529.52,343.60 530.30,344.80 C531.47,346.60 532.72,350.55 533.70,353.50 C535.16,357.92 536.42,365.34 537.60,371.30 C538.83,377.51 539.36,383.87 540.90,390.00 C541.98,394.32 543.28,398.61 544.80,402.80 C546.00,406.08 546.82,409.69 548.80,412.50 C550.14,414.39 552.02,415.94 553.70,417.60 C555.61,419.49 557.58,421.32 559.60,423.10 C561.23,424.54 562.68,426.40 564.60,427.30 C566.08,428.00 567.85,428.32 569.50,428.50 C571.77,428.75 574.11,427.87 576.40,428.00 C578.38,428.11 580.35,428.59 582.30,429.00 C584.62,429.49 586.86,430.44 589.20,430.80 C591.11,431.09 593.07,431.08 595.00,431.20 C597.90,431.37 621.40,431.20 634.60,431.20 L634.60,431.20 L420.30,431.20 Z" fill="rgb(78,188,212)" fill-opacity="0.8" stroke="none"/>
<path d="M420.30,431.20 C430.20,431.20 446.25,431.44 450.00,431.20 C452.50,431.04 455.02,430.94 457.50,430.60 C459.34,430.35 461.29,430.27 463.00,429.60 C464.53,429.00 466.08,428.09 467.30,427.00 C468.91,425.56 469.88,423.40 471.00,421.50 C472.20,419.45 473.31,417.30 474.20,415.10 C475.51,411.88 476.22,408.40 477.00,405.00 C477.84,401.37 478.29,397.66 479.00,394.00 C479.81,389.82 480.64,385.65 481.60,381.50 C482.52,377.55 483.65,373.64 484.60,369.70 C485.62,365.48 486.58,361.24 487.50,357.00 C488.30,353.34 489.09,349.68 489.80,346.00 C490.64,341.68 491.31,337.33 492.10,333.00 C492.78,329.26 493.47,324.97 494.20,321.80 C494.68,319.69 495.29,317.61 495.80,315.50 C496.55,312.41 497.13,309.28 497.90,306.20 C498.69,303.05 499.43,299.86 500.50,296.80 C501.34,294.39 502.46,291.31 503.40,289.70 C504.03,288.63 504.59,287.40 505.50,286.60 C506.11,286.07 506.89,285.32 507.60,285.30 C508.29,285.28 509.11,285.92 509.70,286.40 C510.58,287.13 511.12,288.56 511.70,289.70 C512.57,291.41 513.67,296.07 514.50,299.30 C515.56,303.39 516.33,307.56 517.20,311.70 C518.17,316.29 519.07,320.90 520.00,325.50 C520.70,329.00 521.26,334.29 522.10,336.00 C522.66,337.14 523.22,338.41 524.10,339.30 C525.03,340.24 526.59,340.52 527.60,341.40 C528.68,342.33 529.52,343.60 530.30,344.80 C531.47,346.60 532.72,350.55 533.70,353.50 C535.16,357.92 536.42,365.34 537.60,371.30 C538.83,377.51 539.36,383.87 540.90,390.00 C541.98,394.32 543.28,398.61 544.80,402.80 C546.00,406.08 546.82,409.69 548.80,412.50 C550.14,414.39 552.02,415.94 553.70,417.60 C555.61,419.49 557.58,421.32 559.60,423.10 C561.23,424.54 562.68,426.40 564.60,427.30 C566.08,428.00 567.85,428.32 569.50,428.50 C571.77,428.75 574.11,427.87 576.40,428.00 C578.38,428.11 580.35,428.59 582.30,429.00 C584.62,429.49 586.86,430.44 589.20,430.80 C591.11,431.09 593.07,431.08 595.00,431.20 C597.90,431.37 621.40,431.20 634.60,431.20" fill="none" stroke="#111" stroke-width="0.95" stroke-linejoin="round"/>
<g fill="#000"><circle cx="472.4" cy="436.6" r="1.22"/><circle cx="475.8" cy="440.8" r="1.22"/><circle cx="477.8" cy="440.1" r="1.22"/><circle cx="473.3" cy="443.5" r="1.22"/><circle cx="474.6" cy="435.0" r="1.22"/><circle cx="478.7" cy="437.0" r="1.22"/><circle cx="479.0" cy="442.2" r="1.22"/><circle cx="486.6" cy="439.7" r="1.22"/><circle cx="486.7" cy="446.8" r="1.22"/><circle cx="484.9" cy="434.5" r="1.22"/><circle cx="486.7" cy="447.4" r="1.22"/><circle cx="481.9" cy="437.6" r="1.22"/><circle cx="487.0" cy="438.7" r="1.22"/><circle cx="482.5" cy="441.0" r="1.22"/><circle cx="486.5" cy="446.0" r="1.22"/><circle cx="481.4" cy="446.7" r="1.22"/><circle cx="485.7" cy="443.5" r="1.22"/><circle cx="484.8" cy="441.1" r="1.22"/><circle cx="485.7" cy="447.6" r="1.22"/><circle cx="488.8" cy="441.5" r="1.22"/><circle cx="491.3" cy="440.3" r="1.22"/><circle cx="490.6" cy="435.3" r="1.22"/><circle cx="490.9" cy="434.9" r="1.22"/><circle cx="489.9" cy="439.8" r="1.22"/><circle cx="488.4" cy="437.0" r="1.22"/><circle cx="491.1" cy="443.8" r="1.22"/><circle cx="489.7" cy="437.7" r="1.22"/><circle cx="491.6" cy="437.4" r="1.22"/><circle cx="487.5" cy="439.2" r="1.22"/><circle cx="490.0" cy="439.1" r="1.22"/><circle cx="487.7" cy="441.8" r="1.22"/><circle cx="489.5" cy="437.7" r="1.22"/><circle cx="491.5" cy="442.2" r="1.22"/><circle cx="488.6" cy="444.5" r="1.22"/><circle cx="491.8" cy="434.5" r="1.22"/><circle cx="487.9" cy="442.9" r="1.22"/><circle cx="490.4" cy="443.4" r="1.22"/><circle cx="491.6" cy="439.3" r="1.22"/><circle cx="518.1" cy="443.4" r="1.22"/><circle cx="527.2" cy="447.2" r="1.22"/><circle cx="501.5" cy="436.7" r="1.22"/><circle cx="496.5" cy="447.1" r="1.22"/><circle cx="503.2" cy="446.8" r="1.22"/><circle cx="529.3" cy="438.7" r="1.22"/><circle cx="523.3" cy="433.9" r="1.22"/><circle cx="494.4" cy="437.2" r="1.22"/><circle cx="524.6" cy="445.7" r="1.22"/><circle cx="510.5" cy="438.5" r="1.22"/><circle cx="493.8" cy="447.1" r="1.22"/><circle cx="528.9" cy="435.1" r="1.22"/><circle cx="508.8" cy="435.9" r="1.22"/><circle cx="494.5" cy="435.0" r="1.22"/><circle cx="520.1" cy="447.7" r="1.22"/><circle cx="493.9" cy="444.9" r="1.22"/><circle cx="498.8" cy="447.5" r="1.22"/><circle cx="522.0" cy="436.4" r="1.22"/><circle cx="517.0" cy="439.9" r="1.22"/><circle cx="497.7" cy="440.6" r="1.22"/><circle cx="512.6" cy="433.8" r="1.22"/><circle cx="505.5" cy="441.5" r="1.22"/><circle cx="498.3" cy="447.4" r="1.22"/><circle cx="516.7" cy="442.3" r="1.22"/><circle cx="499.7" cy="447.4" r="1.22"/><circle cx="495.4" cy="438.6" r="1.22"/><circle cx="499.6" cy="445.7" r="1.22"/><circle cx="498.3" cy="440.8" r="1.22"/><circle cx="499.8" cy="447.7" r="1.22"/><circle cx="493.0" cy="436.6" r="1.22"/><circle cx="498.3" cy="447.1" r="1.22"/><circle cx="509.9" cy="443.6" r="1.22"/><circle cx="524.6" cy="438.5" r="1.22"/><circle cx="498.7" cy="442.3" r="1.22"/><circle cx="525.5" cy="444.9" r="1.22"/><circle cx="496.5" cy="435.5" r="1.22"/><circle cx="505.8" cy="443.0" r="1.22"/><circle cx="527.6" cy="441.9" r="1.22"/><circle cx="507.6" cy="437.5" r="1.22"/><circle cx="492.2" cy="443.9" r="1.22"/><circle cx="522.4" cy="440.0" r="1.22"/><circle cx="507.6" cy="437.2" r="1.22"/><circle cx="529.9" cy="439.5" r="1.22"/><circle cx="512.3" cy="437.9" r="1.22"/><circle cx="507.9" cy="446.4" r="1.22"/><circle cx="525.9" cy="440.2" r="1.22"/><circle cx="497.2" cy="433.9" r="1.22"/><circle cx="509.5" cy="434.0" r="1.22"/><circle cx="497.8" cy="440.4" r="1.22"/><circle cx="503.5" cy="438.3" r="1.22"/><circle cx="505.2" cy="442.2" r="1.22"/><circle cx="500.4" cy="443.7" r="1.22"/><circle cx="492.5" cy="442.7" r="1.22"/><circle cx="526.0" cy="445.5" r="1.22"/><circle cx="517.2" cy="445.2" r="1.22"/><circle cx="520.7" cy="446.8" r="1.22"/><circle cx="493.9" cy="438.8" r="1.22"/><circle cx="512.6" cy="436.1" r="1.22"/><circle cx="510.8" cy="434.3" r="1.22"/><circle cx="528.3" cy="439.8" r="1.22"/><circle cx="511.3" cy="437.6" r="1.22"/><circle cx="509.6" cy="442.1" r="1.22"/><circle cx="518.9" cy="442.0" r="1.22"/><circle cx="492.7" cy="443.2" r="1.22"/><circle cx="529.0" cy="437.2" r="1.22"/><circle cx="527.8" cy="441.8" r="1.22"/><circle cx="516.6" cy="446.1" r="1.22"/><circle cx="526.2" cy="446.3" r="1.22"/><circle cx="504.0" cy="436.0" r="1.22"/><circle cx="516.2" cy="447.7" r="1.22"/><circle cx="517.3" cy="447.3" r="1.22"/><circle cx="496.4" cy="442.9" r="1.22"/><circle cx="492.6" cy="435.4" r="1.22"/><circle cx="530.0" cy="442.7" r="1.22"/><circle cx="512.6" cy="446.9" r="1.22"/><circle cx="513.8" cy="437.5" r="1.22"/><circle cx="497.8" cy="434.3" r="1.22"/><circle cx="499.6" cy="439.3" r="1.22"/><circle cx="520.9" cy="436.7" r="1.22"/><circle cx="511.9" cy="438.2" r="1.22"/><circle cx="499.9" cy="438.9" r="1.22"/><circle cx="506.4" cy="437.1" r="1.22"/><circle cx="504.9" cy="436.7" r="1.22"/><circle cx="526.8" cy="437.8" r="1.22"/><circle cx="509.5" cy="444.8" r="1.22"/><circle cx="525.6" cy="439.4" r="1.22"/><circle cx="523.9" cy="436.4" r="1.22"/><circle cx="517.4" cy="447.6" r="1.22"/><circle cx="522.2" cy="444.2" r="1.22"/><circle cx="503.1" cy="441.0" r="1.22"/><circle cx="494.9" cy="445.8" r="1.22"/><circle cx="513.9" cy="436.8" r="1.22"/><circle cx="513.2" cy="446.5" r="1.22"/><circle cx="498.5" cy="440.1" r="1.22"/><circle cx="506.3" cy="439.2" r="1.22"/><circle cx="512.6" cy="438.3" r="1.22"/><circle cx="512.0" cy="440.6" r="1.22"/><circle cx="505.2" cy="441.1" r="1.22"/><circle cx="505.1" cy="440.4" r="1.22"/><circle cx="515.4" cy="444.1" r="1.22"/><circle cx="516.0" cy="434.5" r="1.22"/><circle cx="512.0" cy="441.6" r="1.22"/><circle cx="500.7" cy="443.9" r="1.22"/><circle cx="507.1" cy="437.0" r="1.22"/><circle cx="515.9" cy="433.8" r="1.22"/><circle cx="520.7" cy="447.6" r="1.22"/><circle cx="527.8" cy="440.3" r="1.22"/><circle cx="502.1" cy="439.7" r="1.22"/><circle cx="504.3" cy="442.3" r="1.22"/><circle cx="519.0" cy="435.9" r="1.22"/><circle cx="499.8" cy="435.6" r="1.22"/><circle cx="525.7" cy="442.6" r="1.22"/><circle cx="501.9" cy="444.5" r="1.22"/><circle cx="505.1" cy="442.2" r="1.22"/><circle cx="526.5" cy="443.2" r="1.22"/><circle cx="512.7" cy="442.2" r="1.22"/><circle cx="518.2" cy="435.3" r="1.22"/><circle cx="513.2" cy="447.4" r="1.22"/><circle cx="500.4" cy="438.5" r="1.22"/><circle cx="499.3" cy="438.3" r="1.22"/><circle cx="529.8" cy="435.2" r="1.22"/><circle cx="503.8" cy="440.7" r="1.22"/><circle cx="512.1" cy="443.2" r="1.22"/><circle cx="508.9" cy="443.3" r="1.22"/><circle cx="501.8" cy="434.2" r="1.22"/><circle cx="500.9" cy="447.1" r="1.22"/><circle cx="512.3" cy="447.7" r="1.22"/><circle cx="495.5" cy="434.1" r="1.22"/><circle cx="518.6" cy="439.2" r="1.22"/><circle cx="525.8" cy="440.8" r="1.22"/><circle cx="502.7" cy="434.8" r="1.22"/><circle cx="512.6" cy="436.4" r="1.22"/><circle cx="512.2" cy="438.0" r="1.22"/><circle cx="517.4" cy="441.1" r="1.22"/><circle cx="497.1" cy="436.7" r="1.22"/><circle cx="527.4" cy="447.3" r="1.22"/><circle cx="502.7" cy="434.8" r="1.22"/><circle cx="528.9" cy="434.3" r="1.22"/><circle cx="497.3" cy="438.7" r="1.22"/><circle cx="527.6" cy="438.4" r="1.22"/><circle cx="522.8" cy="441.4" r="1.22"/><circle cx="506.8" cy="446.7" r="1.22"/><circle cx="516.3" cy="435.6" r="1.22"/><circle cx="510.1" cy="441.6" r="1.22"/><circle cx="516.3" cy="438.8" r="1.22"/><circle cx="492.4" cy="436.4" r="1.22"/><circle cx="495.5" cy="444.4" r="1.22"/><circle cx="529.8" cy="445.4" r="1.22"/><circle cx="500.0" cy="439.1" r="1.22"/><circle cx="524.5" cy="438.0" r="1.22"/><circle cx="512.0" cy="437.4" r="1.22"/><circle cx="519.6" cy="447.6" r="1.22"/><circle cx="516.9" cy="440.4" r="1.22"/><circle cx="514.3" cy="446.7" r="1.22"/><circle cx="510.2" cy="434.2" r="1.22"/><circle cx="504.3" cy="433.9" r="1.22"/><circle cx="508.7" cy="437.5" r="1.22"/><circle cx="525.6" cy="435.4" r="1.22"/><circle cx="514.3" cy="434.5" r="1.22"/><circle cx="503.3" cy="439.8" r="1.22"/><circle cx="513.6" cy="442.4" r="1.22"/><circle cx="515.2" cy="441.7" r="1.22"/><circle cx="527.5" cy="442.4" r="1.22"/><circle cx="511.8" cy="440.2" r="1.22"/><circle cx="518.9" cy="441.6" r="1.22"/><circle cx="519.9" cy="442.2" r="1.22"/><circle cx="506.6" cy="443.0" r="1.22"/><circle cx="508.9" cy="439.1" r="1.22"/><circle cx="503.0" cy="446.1" r="1.22"/><circle cx="499.4" cy="441.2" r="1.22"/><circle cx="516.2" cy="439.4" r="1.22"/><circle cx="492.4" cy="441.1" r="1.22"/><circle cx="515.9" cy="443.0" r="1.22"/><circle cx="516.8" cy="444.9" r="1.22"/><circle cx="496.9" cy="440.7" r="1.22"/><circle cx="509.2" cy="441.4" r="1.22"/><circle cx="529.8" cy="434.7" r="1.22"/><circle cx="514.6" cy="437.0" r="1.22"/><circle cx="529.9" cy="437.9" r="1.22"/><circle cx="505.9" cy="437.3" r="1.22"/><circle cx="519.9" cy="435.3" r="1.22"/><circle cx="529.1" cy="435.1" r="1.22"/><circle cx="525.0" cy="447.6" r="1.22"/><circle cx="508.7" cy="433.9" r="1.22"/><circle cx="513.9" cy="446.2" r="1.22"/><circle cx="500.5" cy="438.5" r="1.22"/><circle cx="522.7" cy="446.9" r="1.22"/><circle cx="513.9" cy="437.5" r="1.22"/><circle cx="500.9" cy="438.0" r="1.22"/><circle cx="504.0" cy="433.9" r="1.22"/><circle cx="511.1" cy="436.0" r="1.22"/><circle cx="518.3" cy="444.2" r="1.22"/><circle cx="498.4" cy="438.2" r="1.22"/><circle cx="495.6" cy="436.6" r="1.22"/><circle cx="497.0" cy="447.4" r="1.22"/><circle cx="506.2" cy="444.4" r="1.22"/><circle cx="494.8" cy="446.0" r="1.22"/><circle cx="504.4" cy="436.4" r="1.22"/><circle cx="507.2" cy="440.3" r="1.22"/><circle cx="499.7" cy="438.5" r="1.22"/><circle cx="532.5" cy="435.1" r="1.22"/><circle cx="533.9" cy="434.2" r="1.22"/><circle cx="539.6" cy="442.9" r="1.22"/><circle cx="531.9" cy="445.6" r="1.22"/><circle cx="539.8" cy="445.3" r="1.22"/><circle cx="532.0" cy="442.2" r="1.22"/><circle cx="531.0" cy="445.6" r="1.22"/><circle cx="532.9" cy="441.0" r="1.22"/><circle cx="537.5" cy="443.7" r="1.22"/><circle cx="531.2" cy="436.1" r="1.22"/><circle cx="530.8" cy="438.0" r="1.22"/><circle cx="537.3" cy="442.9" r="1.22"/><circle cx="533.3" cy="441.5" r="1.22"/><circle cx="534.2" cy="445.7" r="1.22"/><circle cx="538.6" cy="434.8" r="1.22"/><circle cx="532.2" cy="444.5" r="1.22"/><circle cx="537.8" cy="434.6" r="1.22"/><circle cx="534.8" cy="446.0" r="1.22"/><circle cx="539.1" cy="444.6" r="1.22"/><circle cx="537.3" cy="440.0" r="1.22"/><circle cx="531.5" cy="441.5" r="1.22"/><circle cx="533.2" cy="441.9" r="1.22"/><circle cx="538.7" cy="446.4" r="1.22"/><circle cx="539.9" cy="441.5" r="1.22"/><circle cx="534.9" cy="435.5" r="1.22"/><circle cx="535.0" cy="434.6" r="1.22"/><circle cx="534.3" cy="447.7" r="1.22"/><circle cx="530.6" cy="434.4" r="1.22"/><circle cx="539.7" cy="443.5" r="1.22"/><circle cx="536.3" cy="440.3" r="1.22"/><circle cx="534.2" cy="439.3" r="1.22"/><circle cx="530.6" cy="447.4" r="1.22"/><circle cx="535.4" cy="441.0" r="1.22"/><circle cx="531.4" cy="443.5" r="1.22"/><circle cx="531.0" cy="435.5" r="1.22"/><circle cx="537.0" cy="446.0" r="1.22"/><circle cx="530.6" cy="436.5" r="1.22"/><circle cx="535.3" cy="447.0" r="1.22"/><circle cx="538.7" cy="443.8" r="1.22"/><circle cx="534.3" cy="440.3" r="1.22"/><circle cx="539.4" cy="443.6" r="1.22"/><circle cx="534.8" cy="445.7" r="1.22"/><circle cx="531.1" cy="437.9" r="1.22"/><circle cx="530.5" cy="445.7" r="1.22"/><circle cx="531.6" cy="435.8" r="1.22"/><circle cx="545.6" cy="443.0" r="1.22"/><circle cx="543.2" cy="446.8" r="1.22"/><circle cx="544.3" cy="436.8" r="1.22"/><circle cx="541.0" cy="443.8" r="1.22"/><circle cx="540.6" cy="435.2" r="1.22"/><circle cx="541.3" cy="444.6" r="1.22"/><circle cx="544.2" cy="447.0" r="1.22"/><circle cx="540.9" cy="440.0" r="1.22"/><circle cx="541.6" cy="445.5" r="1.22"/><circle cx="544.5" cy="441.9" r="1.22"/><circle cx="541.9" cy="441.2" r="1.22"/><circle cx="540.9" cy="445.2" r="1.22"/><circle cx="544.7" cy="437.1" r="1.22"/><circle cx="542.6" cy="440.4" r="1.22"/><circle cx="541.8" cy="444.8" r="1.22"/><circle cx="547.0" cy="442.1" r="1.22"/><circle cx="546.1" cy="446.0" r="1.22"/><circle cx="546.1" cy="436.6" r="1.22"/></g>
<g fill="#000"><circle cx="463.7" cy="433.7" r="1.22"/><circle cx="555.7" cy="436.9" r="1.22"/><circle cx="558.6" cy="435.9" r="1.22"/><circle cx="553.3" cy="436.7" r="1.22"/><circle cx="572.9" cy="436.9" r="1.22"/><circle cx="579.9" cy="437.4" r="1.22"/></g>
<path d="M420.30,468.00 C430.20,468.00 447.00,468.12 450.00,468.00 C452.00,467.92 454.13,468.24 456.00,467.70 C458.10,467.09 460.23,465.75 461.80,464.20 C463.12,462.90 463.99,461.10 465.00,459.50 C466.06,457.81 467.18,456.10 468.00,454.30 C469.23,451.60 469.90,444.37 470.80,439.40 C471.67,434.61 472.44,429.80 473.30,425.00 C474.02,421.00 474.76,417.00 475.50,413.00 C476.16,409.43 476.87,405.87 477.50,402.30 C478.26,397.98 478.79,393.61 479.60,389.30 C480.26,385.75 481.03,382.23 481.80,378.70 C482.56,375.19 483.20,369.85 484.20,368.20 C484.86,367.10 485.87,365.15 486.60,365.10 C487.47,365.05 488.26,367.78 488.90,369.20 C489.86,371.32 490.54,375.52 491.30,378.70 C492.15,382.22 492.83,385.78 493.70,389.30 C494.59,392.89 495.34,396.96 496.60,400.00 C497.44,402.03 498.55,406.18 499.60,405.90 C500.30,405.71 501.34,404.39 502.00,403.50 C502.99,402.17 503.57,398.78 504.30,396.40 C505.15,393.65 505.92,390.87 506.70,388.10 C507.70,384.57 508.36,380.94 509.60,377.50 C510.47,375.09 511.12,372.42 512.60,370.40 C513.59,369.06 514.72,367.46 516.20,366.80 C517.23,366.34 518.54,366.19 519.70,366.20 C521.28,366.21 522.82,367.07 524.40,367.40 C526.25,367.79 528.40,367.44 530.00,368.30 C531.14,368.91 532.18,369.97 533.00,371.00 C534.23,372.54 534.81,375.11 535.60,377.20 C536.78,380.34 538.39,386.37 539.60,391.00 C541.19,397.11 542.28,403.35 543.70,409.50 C544.86,414.54 546.12,419.56 547.30,424.60 C548.42,429.40 549.32,434.70 550.60,439.00 C551.45,441.87 552.27,444.78 553.50,447.50 C554.47,449.64 555.69,451.68 556.90,453.70 C557.88,455.33 558.85,456.99 560.00,458.50 C560.93,459.72 561.91,460.93 563.00,462.00 C564.22,463.19 565.50,464.47 567.00,465.20 C568.50,465.94 570.31,466.22 572.00,466.40 C573.32,466.54 574.69,466.56 576.00,466.40 C577.96,466.17 579.99,465.09 582.00,464.50 C584.19,463.85 586.42,462.58 588.60,462.70 C590.41,462.80 592.24,463.80 594.00,464.50 C595.84,465.23 597.52,466.41 599.40,467.00 C601.20,467.56 603.13,467.72 605.00,468.00 C607.81,468.42 624.73,468.00 634.60,468.00 L634.60,468.00 L420.30,468.00 Z" fill="rgb(234,76,55)" fill-opacity="0.72" stroke="none"/>
<path d="M420.30,468.00 C430.20,468.00 447.00,468.12 450.00,468.00 C452.00,467.92 454.13,468.24 456.00,467.70 C458.10,467.09 460.23,465.75 461.80,464.20 C463.12,462.90 463.99,461.10 465.00,459.50 C466.06,457.81 467.18,456.10 468.00,454.30 C469.23,451.60 469.90,444.37 470.80,439.40 C471.67,434.61 472.44,429.80 473.30,425.00 C474.02,421.00 474.76,417.00 475.50,413.00 C476.16,409.43 476.87,405.87 477.50,402.30 C478.26,397.98 478.79,393.61 479.60,389.30 C480.26,385.75 481.03,382.23 481.80,378.70 C482.56,375.19 483.20,369.85 484.20,368.20 C484.86,367.10 485.87,365.15 486.60,365.10 C487.47,365.05 488.26,367.78 488.90,369.20 C489.86,371.32 490.54,375.52 491.30,378.70 C492.15,382.22 492.83,385.78 493.70,389.30 C494.59,392.89 495.34,396.96 496.60,400.00 C497.44,402.03 498.55,406.18 499.60,405.90 C500.30,405.71 501.34,404.39 502.00,403.50 C502.99,402.17 503.57,398.78 504.30,396.40 C505.15,393.65 505.92,390.87 506.70,388.10 C507.70,384.57 508.36,380.94 509.60,377.50 C510.47,375.09 511.12,372.42 512.60,370.40 C513.59,369.06 514.72,367.46 516.20,366.80 C517.23,366.34 518.54,366.19 519.70,366.20 C521.28,366.21 522.82,367.07 524.40,367.40 C526.25,367.79 528.40,367.44 530.00,368.30 C531.14,368.91 532.18,369.97 533.00,371.00 C534.23,372.54 534.81,375.11 535.60,377.20 C536.78,380.34 538.39,386.37 539.60,391.00 C541.19,397.11 542.28,403.35 543.70,409.50 C544.86,414.54 546.12,419.56 547.30,424.60 C548.42,429.40 549.32,434.70 550.60,439.00 C551.45,441.87 552.27,444.78 553.50,447.50 C554.47,449.64 555.69,451.68 556.90,453.70 C557.88,455.33 558.85,456.99 560.00,458.50 C560.93,459.72 561.91,460.93 563.00,462.00 C564.22,463.19 565.50,464.47 567.00,465.20 C568.50,465.94 570.31,466.22 572.00,466.40 C573.32,466.54 574.69,466.56 576.00,466.40 C577.96,466.17 579.99,465.09 582.00,464.50 C584.19,463.85 586.42,462.58 588.60,462.70 C590.41,462.80 592.24,463.80 594.00,464.50 C595.84,465.23 597.52,466.41 599.40,467.00 C601.20,467.56 603.13,467.72 605.00,468.00 C607.81,468.42 624.73,468.00 634.60,468.00" fill="none" stroke="#111" stroke-width="0.95" stroke-linejoin="round"/>
<g fill="#000"><circle cx="477.8" cy="479.6" r="1.22"/><circle cx="476.8" cy="478.9" r="1.22"/><circle cx="473.8" cy="479.3" r="1.22"/><circle cx="476.6" cy="480.2" r="1.22"/><circle cx="471.5" cy="482.4" r="1.22"/><circle cx="479.3" cy="483.8" r="1.22"/><circle cx="477.6" cy="477.9" r="1.22"/><circle cx="479.7" cy="473.7" r="1.22"/><circle cx="475.7" cy="481.4" r="1.22"/><circle cx="507.7" cy="472.2" r="1.22"/><circle cx="496.0" cy="478.0" r="1.22"/><circle cx="504.6" cy="477.1" r="1.22"/><circle cx="506.1" cy="471.8" r="1.22"/><circle cx="500.3" cy="476.2" r="1.22"/><circle cx="491.3" cy="473.0" r="1.22"/><circle cx="499.5" cy="476.6" r="1.22"/><circle cx="502.5" cy="473.2" r="1.22"/><circle cx="488.0" cy="479.6" r="1.22"/><circle cx="499.0" cy="475.7" r="1.22"/><circle cx="503.0" cy="474.4" r="1.22"/><circle cx="483.8" cy="481.9" r="1.22"/><circle cx="508.5" cy="481.6" r="1.22"/><circle cx="497.7" cy="474.9" r="1.22"/><circle cx="505.8" cy="477.3" r="1.22"/><circle cx="496.5" cy="472.6" r="1.22"/><circle cx="486.0" cy="481.1" r="1.22"/><circle cx="482.6" cy="483.7" r="1.22"/><circle cx="485.0" cy="478.6" r="1.22"/><circle cx="506.2" cy="472.4" r="1.22"/><circle cx="503.1" cy="471.7" r="1.22"/><circle cx="508.3" cy="477.0" r="1.22"/><circle cx="495.7" cy="478.4" r="1.22"/><circle cx="482.0" cy="477.8" r="1.22"/><circle cx="483.0" cy="473.6" r="1.22"/><circle cx="493.0" cy="480.7" r="1.22"/><circle cx="484.8" cy="483.4" r="1.22"/><circle cx="498.9" cy="478.9" r="1.22"/><circle cx="487.4" cy="479.5" r="1.22"/><circle cx="483.4" cy="479.8" r="1.22"/><circle cx="509.0" cy="480.7" r="1.22"/><circle cx="484.3" cy="471.4" r="1.22"/><circle cx="480.6" cy="482.7" r="1.22"/><circle cx="480.4" cy="471.8" r="1.22"/><circle cx="522.2" cy="473.6" r="1.22"/><circle cx="534.5" cy="479.2" r="1.22"/><circle cx="514.3" cy="472.8" r="1.22"/><circle cx="518.0" cy="479.5" r="1.22"/><circle cx="540.0" cy="472.6" r="1.22"/><circle cx="530.1" cy="478.6" r="1.22"/><circle cx="521.5" cy="472.0" r="1.22"/><circle cx="526.4" cy="482.8" r="1.22"/><circle cx="533.4" cy="476.0" r="1.22"/><circle cx="527.9" cy="472.0" r="1.22"/><circle cx="539.8" cy="472.9" r="1.22"/><circle cx="514.6" cy="482.7" r="1.22"/><circle cx="514.2" cy="483.1" r="1.22"/><circle cx="533.0" cy="474.8" r="1.22"/><circle cx="530.2" cy="473.8" r="1.22"/><circle cx="516.9" cy="478.7" r="1.22"/><circle cx="536.7" cy="474.6" r="1.22"/><circle cx="531.8" cy="472.5" r="1.22"/><circle cx="510.3" cy="478.5" r="1.22"/><circle cx="523.9" cy="473.6" r="1.22"/><circle cx="516.3" cy="476.3" r="1.22"/><circle cx="525.0" cy="477.1" r="1.22"/><circle cx="532.3" cy="477.4" r="1.22"/><circle cx="511.6" cy="473.6" r="1.22"/><circle cx="521.5" cy="483.0" r="1.22"/><circle cx="519.0" cy="472.1" r="1.22"/><circle cx="521.1" cy="478.1" r="1.22"/><circle cx="536.8" cy="479.3" r="1.22"/><circle cx="522.8" cy="476.9" r="1.22"/><circle cx="514.2" cy="481.3" r="1.22"/><circle cx="511.7" cy="479.1" r="1.22"/><circle cx="530.5" cy="479.4" r="1.22"/><circle cx="522.6" cy="471.7" r="1.22"/><circle cx="544.0" cy="479.1" r="1.22"/><circle cx="546.0" cy="479.6" r="1.22"/><circle cx="542.1" cy="481.3" r="1.22"/><circle cx="540.9" cy="471.6" r="1.22"/><circle cx="543.4" cy="483.5" r="1.22"/></g>
<g fill="#000"><circle cx="551.5" cy="472.5" r="1.22"/><circle cx="558.7" cy="469.8" r="1.22"/></g>
<text x="406.2" y="395.4" font-size="6.35" text-anchor="end" fill="#141414" stroke="#141414" stroke-width="0.22">Human Proteome</text>
<text x="406.2" y="432.2" font-size="6.35" text-anchor="end" fill="#141414" stroke="#141414" stroke-width="0.22">In- solution_Liver</text>
<text x="406.2" y="468.9" font-size="6.35" text-anchor="end" fill="#141414" stroke="#141414" stroke-width="0.22">In- gel_Liver</text>
<text x="479.2" y="497.8" font-size="6.80" text-anchor="middle" fill="#3a3a3a" stroke="#3a3a3a" stroke-width="0.22">5</text>
<text x="562.9" y="497.8" font-size="6.80" text-anchor="middle" fill="#3a3a3a" stroke="#3a3a3a" stroke-width="0.22">10</text>
<text x="381.7" y="271.3" font-size="12.20" text-anchor="start" fill="#1a1a1a" >(D<tspan dx="0.9">)</tspan></text>
<text x="410.6" y="271.4" font-size="12.20" text-anchor="start" fill="#1a1a1a" >Isoelectric point of Liver Proteome</text>
</svg>
</body></html>
